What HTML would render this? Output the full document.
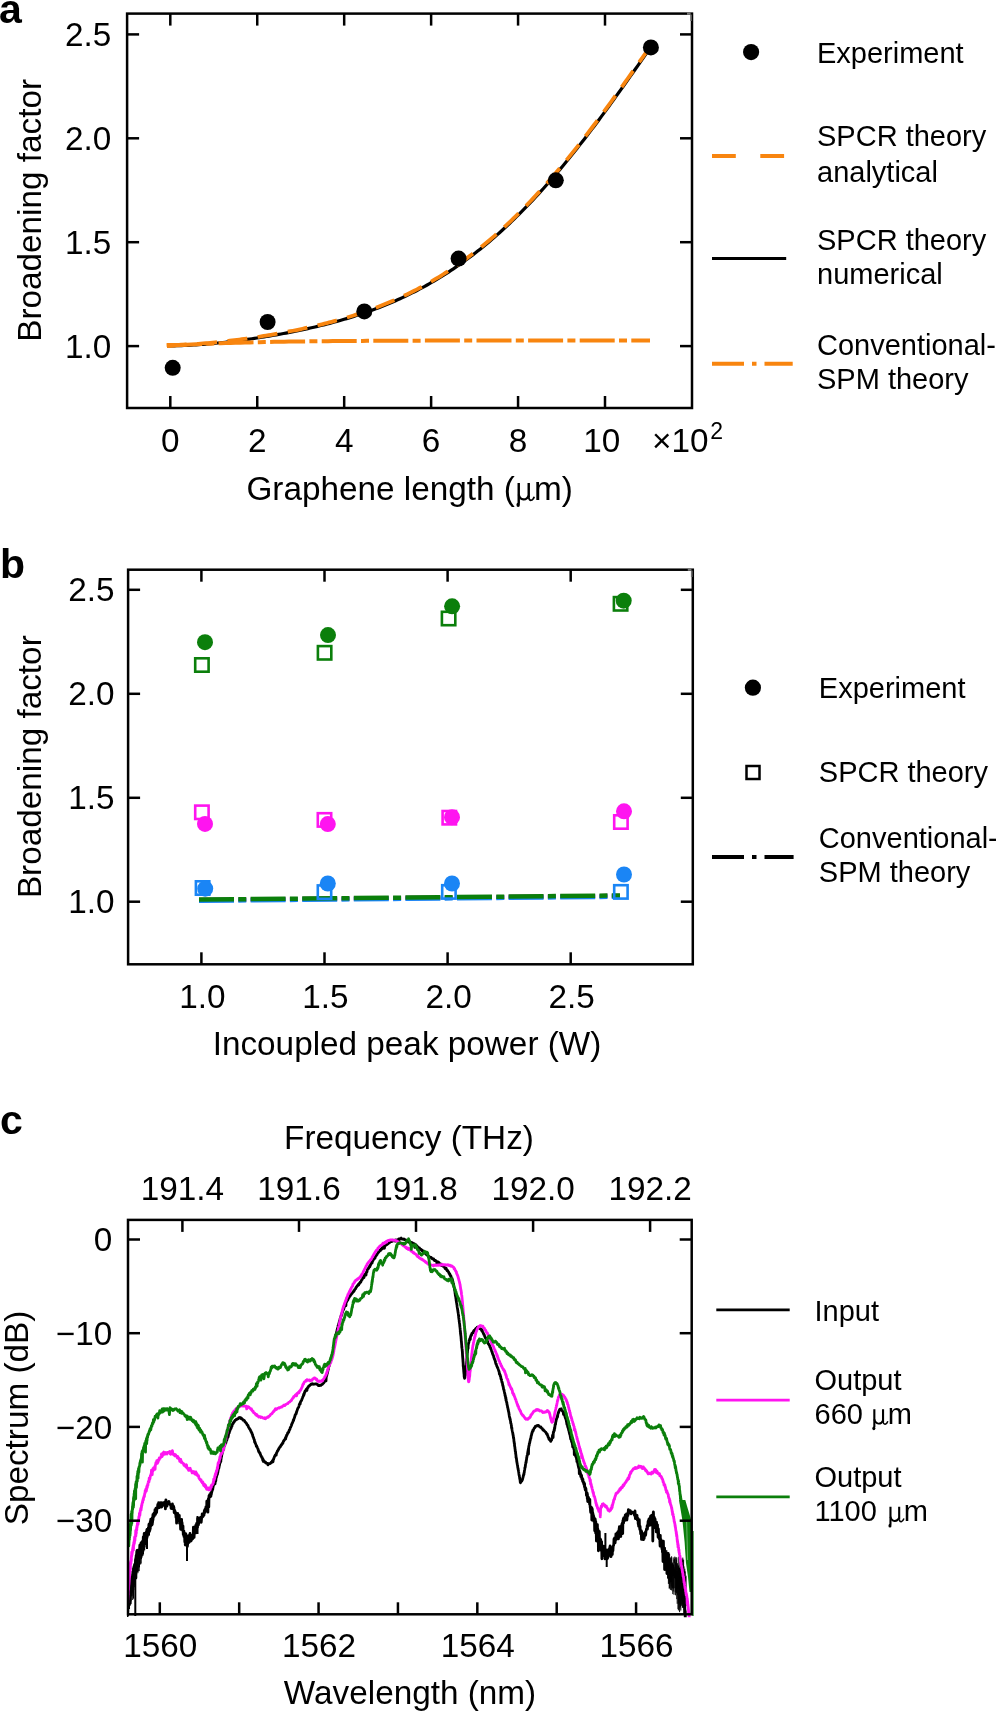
<!DOCTYPE html>
<html><head><meta charset="utf-8"><style>
html,body{margin:0;padding:0;background:#fff;}
svg{display:block;will-change:transform;}
text{font-family:"Liberation Sans", sans-serif;fill:#000;}
</style></head><body>
<svg width="996" height="1712" viewBox="0 0 996 1712">
<defs><clipPath id="clipc"><rect x="127.0" y="1219.9" width="566.7" height="397.39999999999986"/></clipPath></defs>
<rect x="127.10" y="13.60" width="564.90" height="394.40" fill="none" stroke="#000" stroke-width="2.5"/>
<rect x="687" y="12.4" width="3.6" height="2.4" fill="#7a7a7a"/><rect x="690.2" y="14.6" width="1.6" height="6.4" fill="#6e6e6e"/>
<line x1="127.10" y1="346.10" x2="139.10" y2="346.10" stroke="#000" stroke-width="2.5" />
<line x1="680.00" y1="346.10" x2="692.00" y2="346.10" stroke="#000" stroke-width="2.5" />
<text x="111.40" y="357.70" font-size="33.3" text-anchor="end" font-weight="normal" >1.0</text>
<line x1="127.10" y1="242.20" x2="139.10" y2="242.20" stroke="#000" stroke-width="2.5" />
<line x1="680.00" y1="242.20" x2="692.00" y2="242.20" stroke="#000" stroke-width="2.5" />
<text x="111.40" y="253.80" font-size="33.3" text-anchor="end" font-weight="normal" >1.5</text>
<line x1="127.10" y1="138.30" x2="139.10" y2="138.30" stroke="#000" stroke-width="2.5" />
<line x1="680.00" y1="138.30" x2="692.00" y2="138.30" stroke="#000" stroke-width="2.5" />
<text x="111.40" y="149.90" font-size="33.3" text-anchor="end" font-weight="normal" >2.0</text>
<line x1="127.10" y1="34.40" x2="139.10" y2="34.40" stroke="#000" stroke-width="2.5" />
<line x1="680.00" y1="34.40" x2="692.00" y2="34.40" stroke="#000" stroke-width="2.5" />
<text x="111.40" y="46.00" font-size="33.3" text-anchor="end" font-weight="normal" >2.5</text>
<line x1="170.30" y1="408.00" x2="170.30" y2="396.00" stroke="#000" stroke-width="2.5" />
<line x1="170.30" y1="13.60" x2="170.30" y2="25.60" stroke="#000" stroke-width="2.5" />
<text x="170.30" y="451.50" font-size="33.3" text-anchor="middle" font-weight="normal" >0</text>
<line x1="257.24" y1="408.00" x2="257.24" y2="396.00" stroke="#000" stroke-width="2.5" />
<line x1="257.24" y1="13.60" x2="257.24" y2="25.60" stroke="#000" stroke-width="2.5" />
<text x="257.24" y="451.50" font-size="33.3" text-anchor="middle" font-weight="normal" >2</text>
<line x1="344.18" y1="408.00" x2="344.18" y2="396.00" stroke="#000" stroke-width="2.5" />
<line x1="344.18" y1="13.60" x2="344.18" y2="25.60" stroke="#000" stroke-width="2.5" />
<text x="344.18" y="451.50" font-size="33.3" text-anchor="middle" font-weight="normal" >4</text>
<line x1="431.12" y1="408.00" x2="431.12" y2="396.00" stroke="#000" stroke-width="2.5" />
<line x1="431.12" y1="13.60" x2="431.12" y2="25.60" stroke="#000" stroke-width="2.5" />
<text x="431.12" y="451.50" font-size="33.3" text-anchor="middle" font-weight="normal" >6</text>
<line x1="518.06" y1="408.00" x2="518.06" y2="396.00" stroke="#000" stroke-width="2.5" />
<line x1="518.06" y1="13.60" x2="518.06" y2="25.60" stroke="#000" stroke-width="2.5" />
<text x="518.06" y="451.50" font-size="33.3" text-anchor="middle" font-weight="normal" >8</text>
<line x1="605.00" y1="408.00" x2="605.00" y2="396.00" stroke="#000" stroke-width="2.5" />
<line x1="605.00" y1="13.60" x2="605.00" y2="25.60" stroke="#000" stroke-width="2.5" />
<text x="601.70" y="451.50" font-size="33.3" text-anchor="middle" font-weight="normal" >10</text>
<text x="652.00" y="451.50" font-size="33.3" text-anchor="start" font-weight="normal" >×10<tspan dx="1.8" dy="-13" font-size="23">2</tspan></text>
<text x="246.40" y="499.80" font-size="33.3" text-anchor="start" font-weight="normal" >Graphene length (</text>
<path d="M518.73,483.04 L518.73,503.70 M528.72,483.04 L528.72,497.73" stroke="#000" stroke-width="2.41" fill="none"/><path d="M518.73,494.52 C520.11,500.83 526.54,500.95 528.72,495.67" stroke="#000" stroke-width="2.18" fill="none"/><path d="M528.72,497.50 Q529.30,500.49 531.14,500.26 Q533.09,499.91 534.24,496.70" stroke="#000" stroke-width="1.72" fill="none"/><ellipse cx="518.16" cy="504.85" rx="1.72" ry="2.18" fill="#000"/>
<text x="534.01" y="499.80" font-size="33.3" text-anchor="start" font-weight="normal" >m)</text>
<text x="41.00" y="210.40" font-size="33.3" text-anchor="middle" font-weight="normal" transform="rotate(-90 41.0 210.4)">Broadening factor</text>
<text x="-1.00" y="22.50" font-size="41" text-anchor="start" font-weight="bold" >a</text>
<polyline points="167.00,345.85 169.43,345.84 171.85,345.83 174.28,345.79 176.71,345.75 179.14,345.68 181.56,345.60 183.99,345.51 186.42,345.41 188.84,345.29 191.27,345.16 193.70,345.02 196.13,344.86 198.55,344.70 200.98,344.52 203.41,344.33 205.83,344.14 208.26,343.93 210.69,343.71 213.12,343.49 215.54,343.25 217.97,343.01 220.40,342.76 222.82,342.50 225.25,342.23 227.68,341.95 230.11,341.66 232.53,341.37 234.96,341.07 237.39,340.76 239.81,340.45 242.24,340.12 244.67,339.79 247.10,339.46 249.52,339.11 251.95,338.76 254.38,338.40 256.80,338.03 259.23,337.66 261.66,337.28 264.09,336.89 266.51,336.50 268.94,336.10 271.37,335.69 273.79,335.27 276.22,334.85 278.65,334.42 281.08,333.98 283.50,333.53 285.93,333.07 288.36,332.61 290.78,332.14 293.21,331.66 295.64,331.17 298.07,330.68 300.49,330.17 302.92,329.66 305.35,329.13 307.77,328.60 310.20,328.06 312.63,327.50 315.06,326.94 317.48,326.37 319.91,325.78 322.34,325.19 324.76,324.58 327.19,323.96 329.62,323.33 332.05,322.69 334.47,322.04 336.90,321.38 339.33,320.70 341.75,320.01 344.18,319.30 346.61,318.59 349.04,317.85 351.46,317.11 353.89,316.35 356.32,315.57 358.74,314.78 361.17,313.98 363.60,313.16 366.03,312.32 368.45,311.47 370.88,310.60 373.31,309.71 375.73,308.80 378.16,307.88 380.59,306.94 383.02,305.98 385.44,305.01 387.87,304.01 390.30,302.99 392.72,301.96 395.15,300.91 397.58,299.83 400.01,298.73 402.43,297.62 404.86,296.48 407.29,295.32 409.71,294.14 412.14,292.94 414.57,291.71 416.99,290.47 419.42,289.19 421.85,287.90 424.28,286.58 426.70,285.24 429.13,283.87 431.56,282.48 433.98,281.07 436.41,279.63 438.84,278.16 441.27,276.67 443.69,275.16 446.12,273.61 448.55,272.05 450.97,270.45 453.40,268.83 455.83,267.18 458.26,265.50 460.68,263.80 463.11,262.07 465.54,260.31 467.96,258.52 470.39,256.71 472.82,254.86 475.25,252.99 477.67,251.09 480.10,249.16 482.53,247.20 484.95,245.22 487.38,243.20 489.81,241.16 492.24,239.08 494.66,236.98 497.09,234.84 499.52,232.68 501.94,230.49 504.37,228.27 506.80,226.01 509.23,223.73 511.65,221.42 514.08,219.08 516.51,216.71 518.93,214.31 521.36,211.88 523.79,209.42 526.22,206.94 528.64,204.42 531.07,201.87 533.50,199.30 535.92,196.69 538.35,194.06 540.78,191.40 543.21,188.71 545.63,185.99 548.06,183.25 550.49,180.47 552.91,177.67 555.34,174.84 557.77,171.99 560.20,169.11 562.62,166.20 565.05,163.26 567.48,160.30 569.90,157.32 572.33,154.31 574.76,151.27 577.19,148.21 579.61,145.13 582.04,142.03 584.47,138.90 586.89,135.75 589.32,132.58 591.75,129.38 594.18,126.17 596.60,122.94 599.03,119.68 601.46,116.41 603.88,113.12 606.31,109.81 608.74,106.49 611.17,103.15 613.59,99.79 616.02,96.42 618.45,93.04 620.87,89.64 623.30,86.23 625.73,82.81 628.16,79.38 630.58,75.94 633.01,72.49 635.44,69.04 637.86,65.57 640.29,62.11 642.72,58.63 645.15,55.15 647.57,51.67 650.00,48.19" fill="none" stroke="#000" stroke-width="3.2" stroke-linejoin="round" />
<polyline points="166.60,344.95 169.03,344.94 171.45,344.93 173.88,344.89 176.31,344.85 178.74,344.78 181.16,344.70 183.59,344.61 186.02,344.51 188.44,344.39 190.87,344.26 193.30,344.12 195.73,343.96 198.15,343.80 200.58,343.62 203.01,343.43 205.43,343.24 207.86,343.03 210.29,342.81 212.72,342.59 215.14,342.35 217.57,342.11 220.00,341.86 222.42,341.60 224.85,341.33 227.28,341.05 229.71,340.76 232.13,340.47 234.56,340.17 236.99,339.86 239.41,339.55 241.84,339.22 244.27,338.89 246.70,338.56 249.12,338.21 251.55,337.86 253.98,337.50 256.40,337.13 258.83,336.76 261.26,336.38 263.69,335.99 266.11,335.60 268.54,335.20 270.97,334.79 273.39,334.37 275.82,333.95 278.25,333.52 280.68,333.08 283.10,332.63 285.53,332.17 287.96,331.71 290.38,331.24 292.81,330.76 295.24,330.27 297.67,329.78 300.09,329.27 302.52,328.76 304.95,328.23 307.37,327.70 309.80,327.16 312.23,326.60 314.66,326.04 317.08,325.47 319.51,324.88 321.94,324.29 324.36,323.68 326.79,323.06 329.22,322.43 331.65,321.79 334.07,321.14 336.50,320.48 338.93,319.80 341.35,319.11 343.78,318.40 346.21,317.69 348.64,316.95 351.06,316.21 353.49,315.45 355.92,314.67 358.34,313.88 360.77,313.08 363.20,312.26 365.63,311.42 368.05,310.57 370.48,309.70 372.91,308.81 375.33,307.90 377.76,306.98 380.19,306.04 382.62,305.08 385.04,304.11 387.47,303.11 389.90,302.09 392.32,301.06 394.75,300.01 397.18,298.93 399.61,297.83 402.03,296.72 404.46,295.58 406.89,294.42 409.31,293.24 411.74,292.04 414.17,290.81 416.59,289.57 419.02,288.29 421.45,287.00 423.88,285.68 426.30,284.34 428.73,282.97 431.16,281.58 433.58,280.17 436.01,278.73 438.44,277.26 440.87,275.77 443.29,274.26 445.72,272.71 448.15,271.15 450.57,269.55 453.00,267.93 455.43,266.28 457.86,264.60 460.28,262.90 462.71,261.17 465.14,259.41 467.56,257.62 469.99,255.81 472.42,253.96 474.85,252.09 477.27,250.19 479.70,248.26 482.13,246.30 484.55,244.32 486.98,242.30 489.41,240.26 491.84,238.18 494.26,236.08 496.69,233.94 499.12,231.78 501.54,229.59 503.97,227.37 506.40,225.11 508.83,222.83 511.25,220.52 513.68,218.18 516.11,215.81 518.53,213.41 520.96,210.98 523.39,208.52 525.82,206.04 528.24,203.52 530.67,200.97 533.10,198.40 535.52,195.79 537.95,193.16 540.38,190.50 542.81,187.81 545.23,185.09 547.66,182.35 550.09,179.57 552.51,176.77 554.94,173.94 557.37,171.09 559.80,168.21 562.22,165.30 564.65,162.36 567.08,159.40 569.50,156.42 571.93,153.41 574.36,150.37 576.79,147.31 579.21,144.23 581.64,141.13 584.07,138.00 586.49,134.85 588.92,131.68 591.35,128.48 593.78,125.27 596.20,122.04 598.63,118.78 601.06,115.51 603.48,112.22 605.91,108.91 608.34,105.59 610.77,102.25 613.19,98.89 615.62,95.52 618.05,92.14 620.47,88.74 622.90,85.33 625.33,81.91 627.76,78.48 630.18,75.04 632.61,71.59 635.04,68.14 637.46,64.67 639.89,61.21 642.32,57.73 644.75,54.25 647.17,50.77 649.60,47.29" fill="none" stroke="#f8850f" stroke-width="3.8" stroke-linejoin="round" stroke-dasharray="20 10.5"/>
<polyline points="167.00,346.00 171.88,345.67 176.76,345.36 181.64,345.06 186.52,344.79 191.39,344.53 196.27,344.28 201.15,344.05 206.03,343.84 210.91,343.63 215.79,343.44 220.67,343.26 225.55,343.09 230.42,342.93 235.30,342.78 240.18,342.64 245.06,342.51 249.94,342.39 254.82,342.27 259.70,342.16 264.58,342.05 269.45,341.96 274.33,341.86 279.21,341.78 284.09,341.70 288.97,341.62 293.85,341.55 298.73,341.48 303.61,341.42 308.48,341.36 313.36,341.30 318.24,341.25 323.12,341.20 328.00,341.15 332.88,341.10 337.76,341.06 342.64,341.02 347.52,340.99 352.39,340.95 357.27,340.92 362.15,340.89 367.03,340.86 371.91,340.83 376.79,340.81 381.67,340.78 386.55,340.76 391.42,340.74 396.30,340.72 401.18,340.70 406.06,340.68 410.94,340.67 415.82,340.65 420.70,340.63 425.58,340.62 430.45,340.61 435.33,340.60 440.21,340.58 445.09,340.57 449.97,340.56 454.85,340.55 459.73,340.54 464.61,340.54 469.48,340.53 474.36,340.52 479.24,340.51 484.12,340.51 489.00,340.50 493.88,340.49 498.76,340.49 503.64,340.48 508.52,340.48 513.39,340.47 518.27,340.47 523.15,340.47 528.03,340.46 532.91,340.46 537.79,340.45 542.67,340.45 547.55,340.45 552.42,340.45 557.30,340.44 562.18,340.44 567.06,340.44 571.94,340.44 576.82,340.43 581.70,340.43 586.58,340.43 591.45,340.43 596.33,340.43 601.21,340.42 606.09,340.42 610.97,340.42 615.85,340.42 620.73,340.42 625.61,340.42 630.48,340.42 635.36,340.42 640.24,340.42 645.12,340.41 650.00,340.41" fill="none" stroke="#f8850f" stroke-width="4" stroke-linejoin="round" stroke-dasharray="35 4.3 8 4.3"/>
<circle cx="172.7" cy="367.8" r="8" fill="#000"/>
<circle cx="267.6" cy="322" r="8" fill="#000"/>
<circle cx="364.3" cy="311.4" r="8" fill="#000"/>
<circle cx="458.6" cy="258.6" r="8" fill="#000"/>
<circle cx="555.8" cy="180.3" r="8" fill="#000"/>
<circle cx="650.9" cy="47.4" r="8" fill="#000"/>
<circle cx="751.1" cy="52.1" r="8.1" fill="#000"/>
<text x="817.00" y="63.10" font-size="29" text-anchor="start" font-weight="normal" >Experiment</text>
<line x1="712.00" y1="156.10" x2="786.00" y2="156.10" stroke="#f8850f" stroke-width="4" stroke-dasharray="23.8 24.5"/>
<text x="817.00" y="146.30" font-size="29" text-anchor="start" font-weight="normal" >SPCR theory</text>
<text x="817.00" y="181.50" font-size="29" text-anchor="start" font-weight="normal" >analytical</text>
<line x1="712.00" y1="258.50" x2="786.20" y2="258.50" stroke="#000" stroke-width="3" />
<text x="817.00" y="249.50" font-size="29" text-anchor="start" font-weight="normal" >SPCR theory</text>
<text x="817.00" y="284.10" font-size="29" text-anchor="start" font-weight="normal" >numerical</text>
<line x1="712.00" y1="363.70" x2="792.70" y2="363.70" stroke="#f8850f" stroke-width="4" stroke-dasharray="32 8 4.5 8"/>
<text x="817.00" y="354.50" font-size="29" text-anchor="start" font-weight="normal" >Conventional-</text>
<text x="817.00" y="389.30" font-size="29" text-anchor="start" font-weight="normal" >SPM theory</text>
<rect x="128.10" y="569.70" width="564.70" height="394.60" fill="none" stroke="#000" stroke-width="2.5"/>
<rect x="687.8" y="568.5" width="3.6" height="2.3" fill="#7a7a7a"/><rect x="690.9" y="570.6" width="1.7" height="6.4" fill="#6e6e6e"/>
<line x1="128.10" y1="901.70" x2="140.10" y2="901.70" stroke="#000" stroke-width="2.5" />
<line x1="680.80" y1="901.70" x2="692.80" y2="901.70" stroke="#000" stroke-width="2.5" />
<text x="114.50" y="913.30" font-size="33.3" text-anchor="end" font-weight="normal" >1.0</text>
<line x1="128.10" y1="797.80" x2="140.10" y2="797.80" stroke="#000" stroke-width="2.5" />
<line x1="680.80" y1="797.80" x2="692.80" y2="797.80" stroke="#000" stroke-width="2.5" />
<text x="114.50" y="809.40" font-size="33.3" text-anchor="end" font-weight="normal" >1.5</text>
<line x1="128.10" y1="693.80" x2="140.10" y2="693.80" stroke="#000" stroke-width="2.5" />
<line x1="680.80" y1="693.80" x2="692.80" y2="693.80" stroke="#000" stroke-width="2.5" />
<text x="114.50" y="705.40" font-size="33.3" text-anchor="end" font-weight="normal" >2.0</text>
<line x1="128.10" y1="589.80" x2="140.10" y2="589.80" stroke="#000" stroke-width="2.5" />
<line x1="680.80" y1="589.80" x2="692.80" y2="589.80" stroke="#000" stroke-width="2.5" />
<text x="114.50" y="601.40" font-size="33.3" text-anchor="end" font-weight="normal" >2.5</text>
<line x1="201.40" y1="964.30" x2="201.40" y2="952.30" stroke="#000" stroke-width="2.5" />
<line x1="201.40" y1="569.70" x2="201.40" y2="581.70" stroke="#000" stroke-width="2.5" />
<text x="202.40" y="1007.50" font-size="33.3" text-anchor="middle" font-weight="normal" >1.0</text>
<line x1="324.50" y1="964.30" x2="324.50" y2="952.30" stroke="#000" stroke-width="2.5" />
<line x1="324.50" y1="569.70" x2="324.50" y2="581.70" stroke="#000" stroke-width="2.5" />
<text x="325.50" y="1007.50" font-size="33.3" text-anchor="middle" font-weight="normal" >1.5</text>
<line x1="447.60" y1="964.30" x2="447.60" y2="952.30" stroke="#000" stroke-width="2.5" />
<line x1="447.60" y1="569.70" x2="447.60" y2="581.70" stroke="#000" stroke-width="2.5" />
<text x="448.60" y="1007.50" font-size="33.3" text-anchor="middle" font-weight="normal" >2.0</text>
<line x1="570.70" y1="964.30" x2="570.70" y2="952.30" stroke="#000" stroke-width="2.5" />
<line x1="570.70" y1="569.70" x2="570.70" y2="581.70" stroke="#000" stroke-width="2.5" />
<text x="571.70" y="1007.50" font-size="33.3" text-anchor="middle" font-weight="normal" >2.5</text>
<text x="407.00" y="1054.70" font-size="33.3" text-anchor="middle" font-weight="normal" >Incoupled peak power (W)</text>
<text x="41.00" y="766.70" font-size="33.3" text-anchor="middle" font-weight="normal" transform="rotate(-90 41.0 766.7)">Broadening factor</text>
<text x="0.00" y="578.00" font-size="41" text-anchor="start" font-weight="bold" >b</text>
<polyline points="199,900.1 620,896.0" fill="none" stroke="#ff14f0" stroke-width="4.5" stroke-dasharray="35 4.3 8 4.3"/>
<polyline points="199,900.8000000000001 620,896.7" fill="none" stroke="#1a85f5" stroke-width="4.5" stroke-dasharray="35 4.3 8 4.3"/>
<polyline points="199,899.6 620,895.5" fill="none" stroke="#0b7f0b" stroke-width="4.5" stroke-dasharray="35 4.3 8 4.3"/>
<rect x="195.20" y="658.30" width="13.4" height="13.4" fill="none" stroke="#0b7f0b" stroke-width="2.6"/>
<rect x="317.90" y="646.10" width="13.4" height="13.4" fill="none" stroke="#0b7f0b" stroke-width="2.6"/>
<rect x="441.90" y="611.80" width="13.4" height="13.4" fill="none" stroke="#0b7f0b" stroke-width="2.6"/>
<rect x="613.90" y="597.10" width="13.4" height="13.4" fill="none" stroke="#0b7f0b" stroke-width="2.6"/>
<circle cx="205" cy="642.2" r="8" fill="#0b7f0b"/>
<circle cx="328" cy="635.1" r="8" fill="#0b7f0b"/>
<circle cx="452.1" cy="606.3" r="8" fill="#0b7f0b"/>
<circle cx="623.7" cy="600.7" r="8" fill="#0b7f0b"/>
<rect x="195.20" y="805.60" width="13.4" height="13.4" fill="none" stroke="#ff14f0" stroke-width="2.6"/>
<rect x="317.80" y="813.20" width="13.4" height="13.4" fill="none" stroke="#ff14f0" stroke-width="2.6"/>
<rect x="442.60" y="811.00" width="13.4" height="13.4" fill="none" stroke="#ff14f0" stroke-width="2.6"/>
<rect x="614.20" y="815.30" width="13.4" height="13.4" fill="none" stroke="#ff14f0" stroke-width="2.6"/>
<circle cx="205" cy="823.9" r="8" fill="#ff14f0"/>
<circle cx="327.8" cy="824.1" r="8" fill="#ff14f0"/>
<circle cx="452" cy="817.2" r="8" fill="#ff14f0"/>
<circle cx="624" cy="811.3" r="8" fill="#ff14f0"/>
<rect x="195.90" y="881.30" width="13.4" height="13.4" fill="none" stroke="#1a85f5" stroke-width="2.6"/>
<rect x="317.80" y="885.40" width="13.4" height="13.4" fill="none" stroke="#1a85f5" stroke-width="2.6"/>
<rect x="442.20" y="885.20" width="13.4" height="13.4" fill="none" stroke="#1a85f5" stroke-width="2.6"/>
<rect x="614.20" y="885.20" width="13.4" height="13.4" fill="none" stroke="#1a85f5" stroke-width="2.6"/>
<circle cx="205.2" cy="888.7" r="8" fill="#1a85f5"/>
<circle cx="327.8" cy="883.5" r="8" fill="#1a85f5"/>
<circle cx="452" cy="883.5" r="8" fill="#1a85f5"/>
<circle cx="624" cy="874.5" r="8" fill="#1a85f5"/>
<circle cx="752.9" cy="687.7" r="8.1" fill="#000"/>
<text x="818.80" y="697.50" font-size="29" text-anchor="start" font-weight="normal" >Experiment</text>
<rect x="746.5" y="766" width="13" height="13" fill="none" stroke="#000" stroke-width="2.5"/>
<text x="818.80" y="782.20" font-size="29" text-anchor="start" font-weight="normal" >SPCR theory</text>
<line x1="712.00" y1="857.10" x2="793.60" y2="857.10" stroke="#000" stroke-width="4" stroke-dasharray="32 8 4.5 8"/>
<text x="818.80" y="847.60" font-size="29" text-anchor="start" font-weight="normal" >Conventional-</text>
<text x="818.80" y="881.80" font-size="29" text-anchor="start" font-weight="normal" >SPM theory</text>
<text x="112.20" y="1251.10" font-size="33.3" text-anchor="end" font-weight="normal" >0</text>
<text x="112.20" y="1344.80" font-size="33.3" text-anchor="end" font-weight="normal" >−10</text>
<text x="112.20" y="1438.50" font-size="33.3" text-anchor="end" font-weight="normal" >−20</text>
<text x="112.20" y="1532.30" font-size="33.3" text-anchor="end" font-weight="normal" >−30</text>
<text x="160.30" y="1657.00" font-size="33.3" text-anchor="middle" font-weight="normal" >1560</text>
<text x="319.06" y="1657.00" font-size="33.3" text-anchor="middle" font-weight="normal" >1562</text>
<text x="477.82" y="1657.00" font-size="33.3" text-anchor="middle" font-weight="normal" >1564</text>
<text x="636.58" y="1657.00" font-size="33.3" text-anchor="middle" font-weight="normal" >1566</text>
<text x="182.40" y="1200.30" font-size="33.3" text-anchor="middle" font-weight="normal" >191.4</text>
<text x="299.00" y="1200.30" font-size="33.3" text-anchor="middle" font-weight="normal" >191.6</text>
<text x="416.00" y="1200.30" font-size="33.3" text-anchor="middle" font-weight="normal" >191.8</text>
<text x="533.10" y="1200.30" font-size="33.3" text-anchor="middle" font-weight="normal" >192.0</text>
<text x="650.10" y="1200.30" font-size="33.3" text-anchor="middle" font-weight="normal" >192.2</text>
<text x="409.00" y="1148.90" font-size="33.3" text-anchor="middle" font-weight="normal" >Frequency (THz)</text>
<text x="410.00" y="1704.20" font-size="33.3" text-anchor="middle" font-weight="normal" >Wavelength (nm)</text>
<text x="27.50" y="1418.00" font-size="33.3" text-anchor="middle" font-weight="normal" transform="rotate(-90 27.5 1418)">Spectrum (dB)</text>
<text x="0.00" y="1133.70" font-size="41" text-anchor="start" font-weight="bold" >c</text>
<g clip-path="url(#clipc)"><path d="M679,1500 L682.5,1521 L684.6,1542 L686,1563 L688,1577 L689.5,1592 L691.5,1592 L691.5,1521 L687,1506 L685.3,1500 Z" fill="#0b7f0b"/><line x1="693.2" y1="1531" x2="693.2" y2="1616" stroke="#0b7f0b" stroke-width="1.4"/><line x1="686.6" y1="1520" x2="687.6" y2="1560" stroke="#7fbf7f" stroke-width="0.8"/>
<line x1="127.50" y1="1591.8" x2="127.50" y2="1613.1" stroke="#000" stroke-width="1.0"/><line x1="127.90" y1="1588.1" x2="127.90" y2="1611.1" stroke="#000" stroke-width="1.0"/><line x1="128.30" y1="1588.3" x2="128.30" y2="1612.2" stroke="#000" stroke-width="1.0"/><line x1="128.70" y1="1583.2" x2="128.70" y2="1607.7" stroke="#000" stroke-width="1.0"/><line x1="129.10" y1="1579.2" x2="129.10" y2="1606.4" stroke="#000" stroke-width="1.0"/><line x1="129.50" y1="1577.8" x2="129.50" y2="1609.0" stroke="#000" stroke-width="1.0"/><line x1="129.90" y1="1578.5" x2="129.90" y2="1599.7" stroke="#000" stroke-width="1.0"/><line x1="130.30" y1="1581.3" x2="130.30" y2="1601.9" stroke="#000" stroke-width="1.0"/><line x1="130.70" y1="1574.8" x2="130.70" y2="1603.3" stroke="#000" stroke-width="1.0"/><line x1="131.10" y1="1574.3" x2="131.10" y2="1601.3" stroke="#000" stroke-width="1.0"/><line x1="131.50" y1="1576.0" x2="131.50" y2="1596.4" stroke="#000" stroke-width="1.0"/><line x1="131.90" y1="1570.8" x2="131.90" y2="1595.8" stroke="#000" stroke-width="1.0"/><line x1="132.30" y1="1567.5" x2="132.30" y2="1569.8" stroke="#000" stroke-width="1.0"/><line x1="132.70" y1="1569.4" x2="132.70" y2="1600.0" stroke="#000" stroke-width="1.0"/><line x1="133.10" y1="1565.7" x2="133.10" y2="1596.3" stroke="#000" stroke-width="1.0"/><line x1="133.50" y1="1568.1" x2="133.50" y2="1598.7" stroke="#000" stroke-width="1.0"/><line x1="133.90" y1="1565.5" x2="133.90" y2="1590.1" stroke="#000" stroke-width="1.0"/><line x1="134.30" y1="1563.3" x2="134.30" y2="1587.3" stroke="#000" stroke-width="1.0"/><line x1="134.70" y1="1562.2" x2="134.70" y2="1585.0" stroke="#000" stroke-width="1.0"/><line x1="135.10" y1="1558.8" x2="135.10" y2="1582.8" stroke="#000" stroke-width="1.0"/><line x1="135.50" y1="1560.9" x2="135.50" y2="1577.6" stroke="#000" stroke-width="1.0"/><line x1="135.90" y1="1558.0" x2="135.90" y2="1578.3" stroke="#000" stroke-width="1.0"/><line x1="136.30" y1="1559.2" x2="136.30" y2="1571.8" stroke="#000" stroke-width="1.0"/><line x1="136.70" y1="1556.9" x2="136.70" y2="1574.4" stroke="#000" stroke-width="1.0"/><line x1="137.10" y1="1553.5" x2="137.10" y2="1571.5" stroke="#000" stroke-width="1.0"/><line x1="137.50" y1="1554.7" x2="137.50" y2="1571.9" stroke="#000" stroke-width="1.0"/><line x1="137.90" y1="1555.3" x2="137.90" y2="1573.2" stroke="#000" stroke-width="1.0"/><line x1="138.30" y1="1549.4" x2="138.30" y2="1567.5" stroke="#000" stroke-width="1.0"/><line x1="138.70" y1="1549.7" x2="138.70" y2="1571.5" stroke="#000" stroke-width="1.0"/><line x1="139.10" y1="1549.3" x2="139.10" y2="1571.0" stroke="#000" stroke-width="1.0"/><line x1="139.50" y1="1548.4" x2="139.50" y2="1567.4" stroke="#000" stroke-width="1.0"/><line x1="139.90" y1="1550.8" x2="139.90" y2="1564.5" stroke="#000" stroke-width="1.0"/><line x1="140.30" y1="1554.1" x2="140.30" y2="1558.7" stroke="#000" stroke-width="1.0"/><line x1="140.70" y1="1545.9" x2="140.70" y2="1564.4" stroke="#000" stroke-width="1.0"/><line x1="141.10" y1="1547.2" x2="141.10" y2="1563.5" stroke="#000" stroke-width="1.0"/><line x1="141.50" y1="1544.4" x2="141.50" y2="1559.2" stroke="#000" stroke-width="1.0"/><line x1="141.90" y1="1543.0" x2="141.90" y2="1557.9" stroke="#000" stroke-width="1.0"/><line x1="142.30" y1="1540.2" x2="142.30" y2="1556.4" stroke="#000" stroke-width="1.0"/><line x1="142.70" y1="1543.0" x2="142.70" y2="1555.5" stroke="#000" stroke-width="1.0"/><line x1="143.10" y1="1538.1" x2="143.10" y2="1555.5" stroke="#000" stroke-width="1.0"/><line x1="143.50" y1="1537.9" x2="143.50" y2="1554.0" stroke="#000" stroke-width="1.0"/><line x1="143.90" y1="1537.4" x2="143.90" y2="1551.5" stroke="#000" stroke-width="1.0"/><line x1="144.30" y1="1538.4" x2="144.30" y2="1550.1" stroke="#000" stroke-width="1.0"/><line x1="144.70" y1="1536.0" x2="144.70" y2="1550.3" stroke="#000" stroke-width="1.0"/><line x1="145.10" y1="1533.8" x2="145.10" y2="1547.4" stroke="#000" stroke-width="1.0"/><line x1="145.50" y1="1533.6" x2="145.50" y2="1545.1" stroke="#000" stroke-width="1.0"/><line x1="145.90" y1="1534.1" x2="145.90" y2="1544.9" stroke="#000" stroke-width="1.0"/><line x1="146.30" y1="1531.0" x2="146.30" y2="1544.2" stroke="#000" stroke-width="1.0"/><line x1="146.70" y1="1531.2" x2="146.70" y2="1540.2" stroke="#000" stroke-width="1.0"/><line x1="147.10" y1="1530.8" x2="147.10" y2="1542.2" stroke="#000" stroke-width="1.0"/><line x1="147.50" y1="1527.0" x2="147.50" y2="1539.9" stroke="#000" stroke-width="1.0"/><line x1="147.90" y1="1526.9" x2="147.90" y2="1538.4" stroke="#000" stroke-width="1.0"/><line x1="148.30" y1="1524.5" x2="148.30" y2="1536.6" stroke="#000" stroke-width="1.0"/><line x1="148.70" y1="1524.2" x2="148.70" y2="1535.3" stroke="#000" stroke-width="1.0"/><line x1="149.10" y1="1523.7" x2="149.10" y2="1535.6" stroke="#000" stroke-width="1.0"/><line x1="149.50" y1="1522.2" x2="149.50" y2="1535.4" stroke="#000" stroke-width="1.0"/><line x1="149.90" y1="1520.3" x2="149.90" y2="1531.5" stroke="#000" stroke-width="1.0"/><line x1="150.30" y1="1522.8" x2="150.30" y2="1532.4" stroke="#000" stroke-width="1.0"/><line x1="150.70" y1="1520.8" x2="150.70" y2="1530.9" stroke="#000" stroke-width="1.0"/><line x1="151.10" y1="1518.7" x2="151.10" y2="1529.5" stroke="#000" stroke-width="1.0"/><line x1="151.50" y1="1518.4" x2="151.50" y2="1526.8" stroke="#000" stroke-width="1.0"/><line x1="151.90" y1="1517.9" x2="151.90" y2="1526.4" stroke="#000" stroke-width="1.0"/><line x1="152.30" y1="1517.3" x2="152.30" y2="1526.1" stroke="#000" stroke-width="1.0"/><line x1="152.70" y1="1517.9" x2="152.70" y2="1524.4" stroke="#000" stroke-width="1.0"/><line x1="153.10" y1="1515.8" x2="153.10" y2="1522.9" stroke="#000" stroke-width="1.0"/><line x1="153.50" y1="1516.7" x2="153.50" y2="1521.8" stroke="#000" stroke-width="1.0"/><line x1="153.90" y1="1514.4" x2="153.90" y2="1520.5" stroke="#000" stroke-width="1.0"/>
<line x1="660.00" y1="1538.1" x2="660.00" y2="1544.6" stroke="#000" stroke-width="1.0"/><line x1="660.40" y1="1538.2" x2="660.40" y2="1545.4" stroke="#000" stroke-width="1.0"/><line x1="660.80" y1="1539.0" x2="660.80" y2="1546.8" stroke="#000" stroke-width="1.0"/><line x1="661.20" y1="1540.5" x2="661.20" y2="1549.6" stroke="#000" stroke-width="1.0"/><line x1="661.60" y1="1541.1" x2="661.60" y2="1552.4" stroke="#000" stroke-width="1.0"/><line x1="662.00" y1="1543.3" x2="662.00" y2="1552.8" stroke="#000" stroke-width="1.0"/><line x1="662.40" y1="1543.8" x2="662.40" y2="1552.7" stroke="#000" stroke-width="1.0"/><line x1="662.80" y1="1544.7" x2="662.80" y2="1556.1" stroke="#000" stroke-width="1.0"/><line x1="663.20" y1="1545.8" x2="663.20" y2="1558.6" stroke="#000" stroke-width="1.0"/><line x1="663.60" y1="1547.9" x2="663.60" y2="1560.7" stroke="#000" stroke-width="1.0"/><line x1="664.00" y1="1546.2" x2="664.00" y2="1562.6" stroke="#000" stroke-width="1.0"/><line x1="664.40" y1="1547.7" x2="664.40" y2="1563.9" stroke="#000" stroke-width="1.0"/><line x1="664.80" y1="1547.4" x2="664.80" y2="1561.7" stroke="#000" stroke-width="1.0"/><line x1="665.20" y1="1547.3" x2="665.20" y2="1566.8" stroke="#000" stroke-width="1.0"/><line x1="665.60" y1="1550.3" x2="665.60" y2="1564.5" stroke="#000" stroke-width="1.0"/><line x1="666.00" y1="1550.4" x2="666.00" y2="1570.9" stroke="#000" stroke-width="1.0"/><line x1="666.40" y1="1555.0" x2="666.40" y2="1569.9" stroke="#000" stroke-width="1.0"/><line x1="666.80" y1="1550.2" x2="666.80" y2="1574.0" stroke="#000" stroke-width="1.0"/><line x1="667.20" y1="1554.4" x2="667.20" y2="1574.5" stroke="#000" stroke-width="1.0"/><line x1="667.60" y1="1551.9" x2="667.60" y2="1578.3" stroke="#000" stroke-width="1.0"/><line x1="668.00" y1="1558.4" x2="668.00" y2="1578.9" stroke="#000" stroke-width="1.0"/><line x1="668.40" y1="1558.5" x2="668.40" y2="1583.9" stroke="#000" stroke-width="1.0"/><line x1="668.80" y1="1558.1" x2="668.80" y2="1580.5" stroke="#000" stroke-width="1.0"/><line x1="669.20" y1="1560.7" x2="669.20" y2="1588.6" stroke="#000" stroke-width="1.0"/><line x1="669.60" y1="1553.8" x2="669.60" y2="1588.3" stroke="#000" stroke-width="1.0"/><line x1="670.00" y1="1558.6" x2="670.00" y2="1583.6" stroke="#000" stroke-width="1.0"/><line x1="670.40" y1="1557.4" x2="670.40" y2="1589.9" stroke="#000" stroke-width="1.0"/><line x1="670.80" y1="1572.8" x2="670.80" y2="1578.0" stroke="#000" stroke-width="1.0"/><line x1="671.20" y1="1558.2" x2="671.20" y2="1586.5" stroke="#000" stroke-width="1.0"/><line x1="671.60" y1="1556.3" x2="671.60" y2="1590.4" stroke="#000" stroke-width="1.0"/><line x1="672.00" y1="1564.2" x2="672.00" y2="1587.8" stroke="#000" stroke-width="1.0"/><line x1="672.40" y1="1562.5" x2="672.40" y2="1588.5" stroke="#000" stroke-width="1.0"/><line x1="672.80" y1="1565.2" x2="672.80" y2="1594.1" stroke="#000" stroke-width="1.0"/><line x1="673.20" y1="1557.4" x2="673.20" y2="1591.5" stroke="#000" stroke-width="1.0"/><line x1="673.60" y1="1565.0" x2="673.60" y2="1588.6" stroke="#000" stroke-width="1.0"/><line x1="674.00" y1="1559.6" x2="674.00" y2="1594.8" stroke="#000" stroke-width="1.0"/><line x1="674.40" y1="1558.9" x2="674.40" y2="1562.9" stroke="#000" stroke-width="1.0"/><line x1="674.80" y1="1556.6" x2="674.80" y2="1588.2" stroke="#000" stroke-width="1.0"/><line x1="675.20" y1="1557.7" x2="675.20" y2="1592.2" stroke="#000" stroke-width="1.0"/><line x1="675.60" y1="1562.4" x2="675.60" y2="1595.3" stroke="#000" stroke-width="1.0"/><line x1="676.00" y1="1557.2" x2="676.00" y2="1592.2" stroke="#000" stroke-width="1.0"/><line x1="676.40" y1="1559.6" x2="676.40" y2="1593.3" stroke="#000" stroke-width="1.0"/><line x1="676.80" y1="1557.5" x2="676.80" y2="1599.1" stroke="#000" stroke-width="1.0"/><line x1="677.20" y1="1567.2" x2="677.20" y2="1603.8" stroke="#000" stroke-width="1.0"/><line x1="677.60" y1="1563.2" x2="677.60" y2="1595.2" stroke="#000" stroke-width="1.0"/><line x1="678.00" y1="1565.5" x2="678.00" y2="1609.1" stroke="#000" stroke-width="1.0"/><line x1="678.40" y1="1565.6" x2="678.40" y2="1610.4" stroke="#000" stroke-width="1.0"/><line x1="678.80" y1="1556.6" x2="678.80" y2="1603.0" stroke="#000" stroke-width="1.0"/><line x1="679.20" y1="1567.9" x2="679.20" y2="1604.6" stroke="#000" stroke-width="1.0"/><line x1="679.60" y1="1567.6" x2="679.60" y2="1612.2" stroke="#000" stroke-width="1.0"/><line x1="680.00" y1="1561.6" x2="680.00" y2="1608.5" stroke="#000" stroke-width="1.0"/><line x1="680.40" y1="1564.7" x2="680.40" y2="1606.9" stroke="#000" stroke-width="1.0"/><line x1="680.80" y1="1564.9" x2="680.80" y2="1610.6" stroke="#000" stroke-width="1.0"/><line x1="681.20" y1="1559.9" x2="681.20" y2="1603.9" stroke="#000" stroke-width="1.0"/><line x1="681.60" y1="1563.8" x2="681.60" y2="1605.8" stroke="#000" stroke-width="1.0"/><line x1="682.00" y1="1559.2" x2="682.00" y2="1601.1" stroke="#000" stroke-width="1.0"/><line x1="682.40" y1="1560.2" x2="682.40" y2="1607.7" stroke="#000" stroke-width="1.0"/><line x1="682.80" y1="1557.6" x2="682.80" y2="1603.9" stroke="#000" stroke-width="1.0"/><line x1="683.20" y1="1564.8" x2="683.20" y2="1602.3" stroke="#000" stroke-width="1.0"/><line x1="683.60" y1="1559.6" x2="683.60" y2="1606.2" stroke="#000" stroke-width="1.0"/><line x1="684.00" y1="1566.4" x2="684.00" y2="1610.1" stroke="#000" stroke-width="1.0"/><line x1="684.40" y1="1570.7" x2="684.40" y2="1606.0" stroke="#000" stroke-width="1.0"/><line x1="684.80" y1="1568.7" x2="684.80" y2="1605.2" stroke="#000" stroke-width="1.0"/><line x1="685.20" y1="1571.4" x2="685.20" y2="1615.2" stroke="#000" stroke-width="1.0"/><line x1="685.60" y1="1577.0" x2="685.60" y2="1607.4" stroke="#000" stroke-width="1.0"/><line x1="686.00" y1="1575.7" x2="686.00" y2="1605.9" stroke="#000" stroke-width="1.0"/>
<polyline points="127.5,1613.8 127.5,1609.6 127.6,1615.6 127.6,1611.5 127.6,1610.8 127.7,1610.0 127.7,1609.3 127.7,1611.6 127.8,1606.3 127.8,1606.1 127.8,1607.8 127.9,1603.3 127.9,1607.2 128.0,1605.4 128.0,1601.7 128.0,1605.1 128.1,1597.2 128.1,1596.8 128.1,1596.8 128.2,1600.2 128.2,1594.3 128.2,1605.2 128.3,1603.7 128.3,1596.2 128.4,1592.9 128.4,1598.3 128.5,1595.6 128.5,1595.0 128.7,1589.8 128.8,1594.6 129.0,1597.8 129.2,1591.2 129.4,1592.0 129.6,1596.1 129.8,1604.4 130.0,1586.3 130.2,1588.4 130.3,1593.2 130.5,1591.1 130.7,1595.0 130.9,1591.7 131.1,1584.4 131.3,1592.7 131.5,1590.3 131.7,1587.6 131.8,1583.0 132.0,1584.7 132.1,1585.2 132.2,1586.0 132.3,1591.1 132.4,1582.2 132.4,1587.0 132.5,1581.7 132.6,1585.8 132.7,1580.7 132.8,1578.0 132.8,1586.8 132.9,1577.7 133.0,1581.7 133.1,1581.8 133.1,1577.8 133.2,1577.4 133.3,1573.1 133.4,1574.0 133.5,1570.7 133.6,1577.0 133.7,1577.8 133.7,1569.4 133.8,1572.1 133.9,1576.3 134.0,1572.3 134.1,1568.9 134.2,1568.5 134.3,1571.6 134.3,1573.2 134.4,1567.8 134.5,1564.8 134.6,1571.3 134.7,1570.9 134.8,1566.5 134.9,1565.4 135.0,1570.0 135.1,1563.6 135.2,1568.4 135.3,1565.8 135.4,1565.0 135.5,1560.4 135.6,1559.6 135.7,1562.5 135.8,1558.1 135.9,1578.0 136.0,1562.3 136.1,1556.5 136.2,1555.4 136.4,1559.8 136.5,1559.8 136.6,1554.8 136.8,1551.4 136.9,1551.3 137.1,1550.4 137.3,1555.9 137.5,1555.5 137.7,1552.9 137.9,1557.8 138.1,1555.0 138.3,1556.7 138.5,1549.9 138.8,1551.0 139.0,1551.5 139.3,1554.3 139.5,1552.1 139.8,1545.2 140.1,1546.2 140.3,1545.4 140.5,1544.4 140.7,1544.6 140.9,1546.1 141.1,1542.6 141.4,1544.9 141.6,1546.0 141.8,1544.9 142.1,1544.8 142.3,1541.6 142.5,1543.4 142.8,1540.8 143.0,1544.6 143.3,1536.9 143.5,1539.9 143.7,1540.5 144.0,1538.6 144.2,1533.5 144.4,1538.4 144.6,1539.8 144.8,1539.4 145.0,1534.9 145.3,1537.6 145.5,1543.0 145.7,1534.8 146.0,1532.3 146.2,1534.0 146.4,1534.4 146.6,1536.0 146.8,1529.8 146.9,1534.9 147.1,1529.3 147.3,1529.2 147.5,1533.1 147.7,1529.8 148.0,1528.9 148.2,1530.1 148.4,1528.1 148.6,1528.2 148.8,1530.8 149.0,1524.2 149.3,1526.2 149.5,1525.0 149.7,1523.6 149.9,1526.3 150.1,1522.5 150.4,1521.9 150.6,1524.9 150.8,1519.2 151.1,1522.2 151.3,1522.6 151.5,1522.5 151.7,1520.8 152.0,1518.1 152.2,1524.5 152.5,1518.3 152.7,1517.3 153.0,1514.4 153.2,1517.3 153.5,1514.7 153.7,1516.2 154.0,1513.2 154.2,1516.2 154.5,1514.4 154.8,1513.0 155.0,1509.6 155.3,1511.1 155.5,1514.4 155.8,1511.6 156.0,1508.2 156.3,1512.8 156.6,1512.5 156.9,1508.2 157.2,1508.9 157.5,1507.0 157.8,1504.5 158.1,1505.4 158.4,1507.4 158.6,1502.7 159.0,1504.3 159.3,1507.6 159.6,1502.9 159.9,1502.8 160.3,1504.3 160.8,1506.0 161.2,1502.7 161.7,1507.0 162.2,1504.4 162.8,1503.6 163.3,1502.7 163.8,1505.3 164.4,1502.8 164.9,1502.1 165.4,1508.9 165.9,1499.8 166.4,1502.4 166.9,1506.2 167.4,1503.4 168.0,1502.8 168.4,1502.4 168.9,1501.4 169.4,1503.2 169.9,1504.5 170.3,1504.7 170.8,1504.7 171.1,1508.3 171.5,1505.5 171.8,1508.7 172.1,1506.6 172.4,1504.0 172.7,1506.4 173.0,1507.1 173.3,1505.9 173.6,1506.6 173.9,1507.5 174.2,1512.7 174.5,1510.6 174.8,1510.5 175.1,1513.4 175.4,1512.8 175.7,1512.6 176.0,1517.5 176.3,1513.7 176.6,1523.1 176.9,1516.4 177.2,1514.6 177.5,1515.6 177.8,1513.3 178.1,1519.5 178.3,1517.4 178.6,1514.9 178.8,1516.7 179.1,1521.4 179.3,1515.4 179.5,1523.3 179.7,1520.8 180.0,1520.7 180.2,1521.4 180.4,1522.8 180.6,1529.3 180.8,1526.2 181.0,1525.6 181.2,1524.8 181.4,1524.5 181.6,1519.3 181.8,1525.7 182.0,1522.3 182.2,1524.5 182.3,1525.7 182.5,1530.1 182.7,1530.5 182.8,1529.3 183.0,1526.0 183.1,1530.5 183.3,1534.6 183.4,1533.7 183.6,1533.9 183.7,1531.5 183.9,1531.0 184.0,1536.6 184.2,1536.5 184.4,1537.2 184.6,1535.1 184.8,1541.9 184.9,1538.0 185.1,1540.5 185.3,1545.0 185.5,1535.8 185.8,1533.7 186.0,1538.6 186.4,1542.4 186.9,1541.3 187.4,1546.4 188.0,1540.9 188.5,1535.7 189.0,1542.4 189.5,1541.6 190.0,1533.5 190.5,1539.5 191.0,1541.0 191.5,1536.6 192.0,1539.4 192.2,1538.5 192.4,1537.6 192.6,1535.2 192.8,1538.7 193.0,1536.4 193.2,1536.4 193.4,1527.2 193.7,1537.2 193.9,1530.0 194.1,1537.4 194.3,1532.4 194.5,1533.0 194.6,1531.8 194.8,1528.9 195.0,1531.7 195.2,1530.3 195.3,1528.5 195.5,1532.9 195.6,1532.7 195.7,1525.3 195.9,1527.1 196.0,1528.5 196.1,1527.1 196.2,1532.8 196.4,1528.6 196.6,1523.3 196.7,1524.2 197.0,1525.2 197.2,1526.7 197.5,1527.1 197.7,1518.3 198.0,1518.4 198.4,1525.0 198.7,1523.0 199.0,1521.5 199.4,1518.1 199.8,1519.2 200.1,1520.2 200.5,1517.5 200.9,1520.2 201.2,1522.3 201.6,1518.2 201.9,1517.6 202.2,1513.9 202.5,1515.9 202.7,1514.9 203.0,1516.6 203.3,1513.6 203.5,1513.7 203.8,1513.1 204.0,1515.1 204.3,1510.9 204.5,1511.0 204.8,1509.6 205.0,1512.4 205.3,1509.0 205.5,1510.3 205.7,1511.0 205.9,1506.8 206.1,1509.0 206.3,1508.5 206.5,1506.9 206.7,1508.6 206.8,1501.2 207.0,1506.3 207.1,1506.4 207.3,1506.9 207.4,1505.6 207.5,1505.5 207.7,1503.9 207.8,1501.6 207.9,1512.2 208.0,1502.1 208.2,1500.3 208.3,1499.5 208.4,1498.6 208.6,1500.5 208.8,1507.0 209.0,1495.8 209.2,1497.7 209.4,1497.3 209.6,1494.7 209.8,1495.4 210.1,1495.2 210.3,1496.8 210.5,1496.7 210.7,1493.1 211.0,1495.9 211.2,1493.4 211.4,1494.2 211.6,1491.3 211.8,1487.8 211.9,1491.7 212.1,1490.3 212.3,1488.9 212.5,1489.6 212.7,1489.5 212.9,1487.9 213.1,1487.1 213.3,1485.7 213.4,1485.2 213.6,1485.4 213.8,1484.7 214.0,1482.1 214.2,1484.4 214.4,1483.5 214.6,1483.0 214.7,1483.0 214.9,1481.3 215.0,1483.8 215.2,1481.2 215.3,1482.6 215.5,1480.7 215.7,1477.2 215.8,1480.8 216.0,1477.7 216.1,1478.2 216.3,1477.2 216.5,1477.2 216.6,1474.8 216.8,1475.7 217.0,1475.3 217.1,1474.7 217.3,1472.5 217.4,1474.3 217.6,1472.5 217.7,1473.1 217.9,1471.7 218.0,1471.3 218.2,1470.1 218.3,1469.3 218.5,1468.4 218.6,1468.4 218.8,1468.2 218.9,1467.9 219.1,1466.7 219.2,1465.4 219.4,1465.9 219.5,1464.8 219.7,1464.0 219.8,1463.0 220.0,1462.6 220.1,1462.5 220.3,1461.0 220.4,1462.4 220.5,1460.7 220.7,1458.6 220.8,1461.6 220.9,1459.2 221.1,1459.1 221.2,1457.7 221.3,1456.3 221.5,1456.8 221.6,1456.7 221.7,1455.5 221.8,1453.9 221.9,1454.8 222.0,1454.0 222.1,1453.0 222.2,1453.2 222.4,1452.2 222.5,1451.6 222.6,1450.9 222.7,1451.0 222.9,1449.9 223.0,1449.7 223.2,1449.5 223.4,1448.8 223.6,1447.5 223.7,1449.5 223.9,1446.6 224.1,1446.3 224.3,1445.4 224.6,1445.8 224.8,1445.2 225.0,1443.4 225.2,1443.1 225.4,1443.6 225.6,1441.9 225.9,1442.7 226.1,1441.2 226.3,1441.0 226.5,1440.2 226.7,1440.4 226.9,1439.8 227.1,1438.1 227.3,1438.6 227.5,1436.9 227.7,1436.9 227.9,1436.1 228.1,1436.9 228.3,1435.7 228.5,1434.9 228.7,1434.1 228.9,1433.3 229.1,1432.8 229.3,1432.8 229.5,1431.4 229.6,1431.2 229.8,1430.6 230.0,1430.7 230.2,1429.3 230.4,1429.1 230.7,1428.5 230.9,1428.6 231.2,1427.9 231.4,1426.7 231.7,1426.5 231.9,1426.5 232.1,1425.4 232.4,1424.2 232.6,1424.0 232.9,1423.8 233.1,1423.6 233.4,1423.0 233.6,1422.4 234.0,1421.7 234.4,1421.6 234.8,1420.7 235.2,1420.2 235.6,1420.2 236.0,1419.9 236.5,1419.1 236.9,1419.3 237.4,1419.0 237.9,1418.7 238.3,1418.6 238.8,1417.7 239.4,1417.7 239.9,1417.4 240.5,1417.8 240.9,1418.5 241.3,1418.1 241.8,1418.8 242.2,1419.0 242.7,1419.5 243.1,1420.2 243.6,1420.2 244.0,1420.2 244.5,1420.7 245.0,1421.9 245.4,1422.0 245.9,1422.7 246.2,1423.2 246.5,1423.6 246.8,1423.9 247.1,1424.9 247.4,1425.0 247.7,1425.1 247.9,1425.5 248.2,1426.1 248.5,1427.1 248.8,1427.6 249.1,1428.1 249.4,1428.4 249.7,1429.1 250.0,1429.5 250.3,1429.6 250.5,1430.6 250.8,1430.9 251.0,1431.5 251.3,1431.7 251.5,1432.6 251.8,1432.8 252.0,1433.3 252.2,1434.0 252.4,1434.4 252.6,1435.3 252.7,1435.6 252.9,1436.4 253.1,1436.7 253.3,1437.5 253.5,1437.5 253.7,1438.5 253.9,1439.0 254.0,1439.2 254.2,1439.5 254.4,1440.2 254.6,1442.1 254.8,1441.9 255.1,1442.2 255.3,1443.3 255.5,1443.5 255.7,1444.1 256.0,1444.6 256.2,1445.6 256.4,1446.3 256.7,1446.0 256.9,1447.0 257.2,1447.1 257.4,1447.7 257.7,1448.4 257.9,1448.8 258.2,1449.7 258.4,1450.5 258.7,1451.8 258.9,1451.3 259.2,1451.9 259.4,1452.5 259.6,1452.9 259.9,1453.2 260.1,1453.1 260.3,1454.6 260.5,1454.4 260.7,1455.3 261.0,1455.9 261.4,1456.3 261.7,1457.5 262.0,1457.8 262.2,1457.6 262.5,1458.6 262.7,1460.1 263.0,1459.2 263.2,1461.3 263.5,1460.2 263.7,1460.5 264.0,1461.0 264.4,1461.7 264.8,1462.2 265.2,1462.5 265.7,1462.3 266.1,1463.1 266.5,1463.2 266.9,1463.2 267.4,1463.4 267.9,1464.9 268.3,1463.8 268.8,1463.6 269.3,1463.8 269.8,1463.6 270.4,1463.4 270.9,1462.7 271.5,1462.0 271.7,1462.5 272.0,1462.0 272.3,1461.0 272.5,1460.5 272.8,1460.4 273.0,1461.8 273.3,1459.4 273.6,1459.4 273.8,1458.5 274.1,1457.8 274.4,1456.8 274.7,1456.1 275.0,1455.6 275.3,1455.2 275.6,1454.6 275.9,1454.9 276.2,1455.1 276.5,1452.9 276.8,1452.8 277.1,1451.9 277.4,1451.0 277.6,1451.0 277.9,1450.8 278.2,1450.1 278.5,1449.1 278.8,1448.9 279.1,1448.1 279.4,1447.9 279.7,1447.2 280.1,1446.6 280.4,1446.6 280.7,1445.9 281.0,1445.2 281.3,1445.2 281.6,1444.9 281.9,1443.9 282.3,1444.0 282.6,1442.9 282.9,1443.2 283.2,1442.1 283.5,1441.0 283.8,1441.1 284.0,1440.4 284.3,1439.9 284.5,1439.8 284.8,1439.6 285.1,1438.9 285.3,1438.1 285.6,1439.0 285.9,1437.2 286.1,1436.4 286.4,1436.4 286.6,1435.2 286.9,1435.2 287.2,1434.6 287.4,1434.2 287.7,1432.8 287.9,1432.7 288.2,1432.7 288.5,1432.0 288.7,1432.2 289.0,1430.9 289.3,1430.0 289.5,1429.9 289.8,1429.6 290.0,1429.1 290.3,1427.4 290.5,1427.2 290.7,1427.0 290.9,1426.6 291.2,1426.1 291.4,1424.9 291.6,1425.0 291.8,1424.2 292.0,1423.4 292.2,1423.4 292.5,1422.7 292.7,1422.1 292.9,1421.7 293.1,1421.3 293.3,1420.1 293.6,1420.4 293.8,1419.3 294.0,1418.7 294.2,1418.4 294.4,1417.7 294.6,1417.2 294.8,1416.1 295.0,1416.1 295.2,1414.8 295.5,1414.7 295.7,1414.1 295.9,1413.9 296.1,1413.3 296.2,1413.8 296.4,1412.4 296.6,1412.0 296.8,1411.3 297.0,1410.7 297.3,1410.0 297.5,1409.2 297.8,1408.6 298.1,1408.0 298.3,1407.4 298.6,1407.4 298.8,1406.7 299.1,1405.5 299.3,1404.4 299.5,1404.8 299.8,1403.5 300.0,1403.7 300.2,1403.9 300.4,1402.2 300.6,1402.2 300.9,1401.2 301.1,1401.1 301.3,1400.7 301.5,1400.6 301.7,1400.0 301.9,1399.0 302.2,1398.9 302.4,1398.2 302.6,1397.4 302.9,1396.7 303.1,1396.5 303.3,1396.2 303.5,1395.1 303.7,1394.2 303.9,1395.1 304.1,1393.9 304.3,1393.7 304.5,1392.6 304.8,1392.3 305.0,1391.2 305.2,1391.3 305.5,1391.2 305.8,1390.3 306.2,1389.4 306.5,1389.1 306.9,1390.4 307.3,1388.3 307.6,1387.7 308.0,1387.6 308.4,1386.7 308.8,1386.0 309.2,1386.1 309.5,1385.6 309.9,1385.4 310.3,1384.9 310.8,1384.7 311.4,1383.8 311.9,1383.9 312.4,1383.6 313.0,1384.3 313.5,1384.2 314.0,1383.9 314.6,1384.2 315.1,1384.0 315.6,1383.8 316.2,1383.9 316.7,1384.1 317.3,1384.5 317.8,1384.9 318.4,1385.6 318.9,1385.0 319.4,1385.4 319.9,1385.6 320.4,1385.1 320.9,1385.3 321.4,1384.7 321.9,1384.6 322.3,1384.5 322.8,1383.8 323.2,1383.3 323.6,1383.1 323.8,1382.7 324.1,1382.3 324.3,1381.4 324.5,1381.1 324.7,1381.2 324.9,1381.4 325.1,1379.8 325.4,1379.9 325.6,1378.5 325.8,1378.1 326.0,1380.9 326.2,1377.3 326.4,1376.6 326.6,1375.8 326.7,1374.8 326.9,1375.0 327.0,1374.0 327.2,1373.7 327.3,1373.4 327.5,1372.6 327.6,1372.3 327.7,1371.6 327.9,1370.7 328.0,1370.1 328.2,1369.6 328.3,1369.4 328.5,1368.4 328.6,1367.2 328.7,1367.3 328.9,1366.3 329.0,1366.3 329.2,1365.9 329.3,1365.0 329.5,1364.0 329.6,1364.0 329.8,1363.8 330.0,1362.4 330.1,1361.8 330.3,1361.2 330.5,1360.9 330.7,1360.2 330.9,1359.9 331.0,1359.3 331.2,1358.2 331.4,1358.3 331.6,1357.2 331.8,1357.3 331.9,1356.7 332.1,1356.0 332.3,1355.9 332.4,1354.8 332.6,1354.2 332.7,1353.7 332.8,1353.2 332.9,1352.4 333.0,1352.2 333.1,1351.7 333.2,1351.0 333.3,1350.2 333.4,1350.1 333.5,1349.3 333.6,1348.0 333.7,1347.4 333.8,1347.9 333.9,1346.5 334.0,1345.7 334.1,1345.4 334.2,1345.0 334.3,1344.4 334.4,1343.1 334.5,1342.2 334.6,1342.2 334.7,1341.6 334.8,1341.2 334.9,1340.3 335.0,1339.8 335.1,1341.1 335.2,1339.1 335.3,1338.2 335.5,1337.3 335.6,1337.1 335.7,1335.7 335.8,1336.0 335.9,1335.5 336.1,1334.9 336.2,1333.9 336.3,1333.4 336.4,1333.1 336.6,1332.8 336.7,1331.7 336.8,1331.3 337.0,1331.2 337.1,1329.9 337.2,1329.5 337.4,1328.7 337.5,1328.3 337.7,1327.9 337.8,1327.7 338.0,1326.4 338.1,1325.6 338.3,1325.5 338.4,1324.8 338.6,1324.0 338.7,1324.6 338.9,1323.4 339.1,1322.4 339.3,1321.8 339.4,1321.2 339.6,1320.9 339.8,1320.3 340.0,1319.5 340.1,1318.7 340.3,1318.8 340.5,1318.2 340.7,1317.3 340.9,1316.3 341.0,1316.5 341.2,1315.3 341.4,1315.0 341.6,1315.3 341.7,1313.9 341.9,1314.3 342.1,1312.9 342.3,1312.8 342.5,1311.6 342.8,1310.9 343.0,1310.1 343.2,1310.1 343.5,1308.9 343.7,1309.3 343.9,1307.9 344.2,1307.7 344.4,1306.4 344.6,1306.4 344.8,1305.5 345.1,1305.2 345.3,1305.3 345.5,1304.5 345.7,1304.2 345.9,1305.6 346.1,1302.5 346.4,1302.0 346.7,1301.8 346.9,1300.9 347.1,1300.5 347.4,1300.6 347.6,1299.6 347.8,1300.0 348.1,1299.2 348.4,1298.3 348.7,1297.9 349.1,1297.5 349.4,1296.7 349.6,1296.5 349.9,1296.2 350.3,1295.8 350.6,1294.9 350.9,1294.9 351.3,1294.2 351.6,1293.6 352.0,1293.4 352.3,1292.7 352.7,1292.5 353.1,1292.1 353.4,1291.9 353.8,1290.7 354.1,1291.1 354.5,1290.1 354.8,1289.4 355.1,1289.2 355.5,1288.9 355.9,1287.7 356.2,1287.5 356.6,1286.9 357.0,1286.1 357.3,1285.7 357.7,1285.6 358.0,1285.5 358.3,1284.5 358.7,1285.0 359.0,1283.8 359.4,1283.6 359.7,1283.2 360.1,1282.2 360.4,1281.9 360.7,1282.2 361.0,1281.4 361.3,1280.7 361.6,1280.1 361.9,1279.8 362.2,1279.4 362.5,1278.7 362.8,1277.5 363.1,1278.0 363.4,1277.2 363.7,1276.6 364.0,1277.6 364.3,1275.8 364.6,1274.7 364.9,1274.5 365.2,1274.2 365.5,1273.9 365.8,1273.8 366.0,1275.1 366.3,1272.4 366.6,1272.0 366.9,1272.1 367.2,1270.7 367.4,1269.8 367.7,1269.0 368.0,1268.6 368.3,1268.8 368.5,1268.6 368.8,1267.7 369.1,1267.1 369.4,1267.1 369.6,1266.1 369.9,1266.7 370.2,1265.2 370.5,1265.0 370.8,1264.1 371.1,1263.5 371.4,1263.2 371.8,1262.5 372.1,1263.0 372.4,1261.2 372.7,1261.1 373.0,1260.6 373.3,1259.8 373.6,1259.4 373.9,1259.1 374.3,1258.5 374.6,1258.1 374.9,1258.3 375.2,1257.2 375.5,1256.3 375.9,1255.9 376.2,1255.8 376.5,1255.1 376.9,1254.7 377.2,1254.2 377.5,1253.5 377.9,1253.0 378.2,1252.4 378.5,1252.4 378.9,1251.9 379.2,1251.4 379.5,1251.2 379.9,1250.6 380.2,1250.0 380.6,1250.3 381.0,1249.3 381.4,1248.6 381.9,1248.3 382.3,1248.9 382.7,1247.0 383.1,1246.8 383.5,1246.6 383.9,1246.4 384.4,1248.2 384.8,1245.8 385.2,1245.9 385.7,1245.2 386.1,1244.9 386.6,1244.5 387.1,1244.5 387.5,1243.9 388.0,1243.8 388.4,1243.4 388.9,1243.0 389.4,1242.4 389.8,1242.4 390.3,1242.0 390.8,1241.8 391.4,1241.3 391.9,1241.5 392.4,1240.8 392.9,1240.9 393.5,1240.5 394.1,1240.9 394.7,1240.3 395.3,1241.1 395.8,1240.0 396.4,1240.7 396.9,1239.9 397.5,1240.0 398.1,1240.0 398.7,1238.9 399.4,1239.5 400.0,1238.6 400.6,1238.9 401.2,1238.1 401.7,1239.0 402.3,1239.2 402.9,1239.2 403.5,1239.4 404.0,1239.0 404.6,1239.6 405.1,1239.8 405.7,1239.8 406.2,1240.2 406.8,1241.0 407.3,1240.6 407.8,1241.3 408.3,1242.1 408.8,1241.7 409.4,1241.6 409.9,1242.0 410.4,1242.9 410.9,1242.2 411.4,1242.5 411.9,1242.6 412.4,1242.8 412.9,1243.3 413.4,1243.8 413.9,1244.2 414.3,1243.8 414.8,1247.3 415.3,1244.4 415.7,1246.9 416.2,1245.1 416.7,1245.8 417.1,1248.0 417.6,1246.5 418.0,1247.0 418.4,1247.5 418.9,1248.1 419.4,1247.9 419.9,1249.1 420.3,1249.1 420.8,1249.1 421.2,1249.9 421.6,1250.0 422.0,1250.6 422.4,1250.3 422.8,1251.0 423.2,1251.9 423.5,1253.0 423.8,1251.8 424.1,1252.4 424.5,1252.6 425.0,1252.9 425.4,1253.8 425.8,1253.8 426.2,1254.4 426.6,1254.7 427.1,1254.9 427.6,1255.0 428.1,1256.1 428.6,1256.2 429.1,1257.3 429.5,1257.1 430.0,1257.4 430.5,1257.2 430.9,1257.3 431.4,1257.6 431.9,1258.7 432.3,1258.7 432.8,1259.0 433.2,1259.1 433.7,1258.9 434.2,1260.2 434.6,1260.7 435.1,1260.5 435.6,1260.4 436.1,1260.9 436.6,1261.5 437.1,1264.8 437.6,1261.8 438.1,1262.1 438.6,1262.3 439.1,1262.8 439.6,1263.5 440.1,1264.2 440.6,1265.0 441.0,1264.1 441.5,1265.5 442.0,1265.0 442.4,1265.8 442.9,1265.6 443.4,1266.4 443.8,1266.1 444.3,1266.3 444.7,1267.7 445.1,1268.5 445.5,1268.1 445.8,1268.6 446.2,1268.3 446.5,1269.8 446.9,1269.9 447.2,1270.7 447.6,1270.5 447.9,1271.3 448.2,1271.6 448.5,1271.9 448.8,1272.5 449.1,1273.6 449.4,1273.4 449.7,1273.8 449.9,1274.9 450.2,1274.8 450.5,1276.2 450.7,1276.5 451.0,1276.1 451.2,1277.3 451.4,1278.1 451.7,1278.1 451.9,1278.5 452.1,1278.5 452.3,1279.5 452.4,1280.3 452.6,1280.2 452.7,1281.7 452.9,1281.4 453.0,1282.7 453.2,1283.0 453.3,1283.6 453.4,1283.5 453.6,1284.1 453.7,1285.1 453.8,1285.9 454.0,1286.7 454.1,1286.9 454.2,1287.5 454.3,1288.0 454.4,1289.0 454.5,1289.3 454.6,1290.2 454.7,1290.3 454.8,1290.4 454.9,1291.5 455.0,1291.9 455.0,1292.7 455.1,1293.2 455.2,1293.9 455.3,1294.6 455.4,1295.8 455.5,1294.8 455.6,1295.4 455.7,1297.1 455.8,1297.2 455.9,1298.3 456.0,1298.8 456.1,1299.4 456.2,1300.9 456.3,1300.3 456.4,1300.9 456.4,1302.2 456.5,1302.1 456.6,1302.8 456.7,1303.3 456.8,1304.4 456.9,1304.0 457.0,1305.2 457.1,1306.4 457.2,1307.0 457.2,1306.6 457.3,1307.5 457.4,1308.0 457.5,1308.9 457.6,1309.0 457.7,1310.1 457.8,1310.3 457.9,1311.0 457.9,1311.4 458.0,1312.2 458.1,1312.4 458.2,1313.2 458.3,1313.7 458.4,1314.2 458.4,1315.0 458.5,1315.4 458.6,1316.1 458.7,1316.6 458.7,1317.5 458.8,1318.1 458.9,1318.5 458.9,1318.7 459.0,1319.5 459.1,1319.9 459.2,1320.4 459.2,1321.6 459.3,1321.7 459.4,1322.4 459.5,1322.9 459.5,1323.6 459.6,1323.9 459.7,1324.6 459.8,1325.9 459.8,1326.6 459.9,1326.6 460.0,1327.5 460.1,1328.1 460.1,1328.6 460.2,1329.4 460.3,1329.9 460.3,1332.1 460.4,1331.3 460.4,1331.2 460.5,1332.2 460.5,1334.0 460.6,1333.1 460.7,1333.6 460.7,1335.3 460.8,1334.9 460.8,1334.9 460.9,1336.3 460.9,1336.1 461.0,1336.9 461.1,1338.4 461.1,1338.7 461.2,1339.0 461.2,1340.2 461.3,1340.8 461.3,1341.3 461.4,1341.0 461.5,1343.3 461.5,1342.6 461.6,1344.0 461.6,1344.2 461.7,1344.9 461.7,1345.0 461.8,1347.5 461.8,1346.4 461.9,1346.8 461.9,1347.8 462.0,1348.3 462.1,1349.0 462.1,1349.0 462.2,1349.6 462.2,1350.2 462.3,1351.3 462.3,1351.0 462.4,1352.0 462.4,1352.5 462.5,1354.1 462.5,1354.0 462.5,1354.9 462.6,1355.8 462.6,1356.3 462.7,1357.0 462.7,1357.5 462.8,1358.3 462.8,1359.3 462.9,1358.8 462.9,1360.0 463.0,1361.3 463.0,1361.8 463.1,1362.2 463.1,1362.8 463.1,1363.3 463.2,1363.6 463.2,1366.2 463.3,1365.2 463.3,1366.0 463.4,1366.6 463.4,1367.4 463.4,1366.9 463.5,1367.3 463.5,1368.3 463.5,1368.5 463.6,1369.2 463.6,1369.8 463.7,1370.0 463.7,1370.9 463.8,1371.8 463.9,1372.9 464.0,1373.9 464.1,1374.4 464.1,1375.1 464.2,1376.9 464.3,1376.5 464.3,1377.3 464.4,1377.4 464.5,1377.9 464.6,1378.3 464.7,1377.8 464.8,1377.8 464.8,1377.9 464.9,1377.4 464.9,1377.0 465.0,1376.2 465.1,1375.5 465.1,1375.7 465.2,1375.5 465.3,1374.5 465.4,1373.2 465.4,1373.1 465.5,1371.7 465.6,1371.6 465.6,1370.2 465.7,1370.4 465.8,1370.0 465.9,1368.8 466.0,1368.2 466.0,1367.2 466.1,1366.6 466.2,1365.6 466.3,1365.1 466.3,1364.7 466.4,1364.3 466.4,1363.5 466.5,1362.8 466.5,1361.8 466.6,1362.0 466.6,1361.1 466.7,1360.6 466.7,1359.0 466.8,1359.4 466.8,1359.4 466.9,1360.3 466.9,1357.4 467.0,1356.9 467.0,1355.9 467.1,1355.1 467.2,1355.3 467.2,1354.2 467.3,1353.6 467.3,1352.8 467.4,1352.4 467.5,1352.4 467.5,1351.0 467.6,1350.6 467.7,1349.4 467.7,1348.5 467.8,1348.5 467.8,1347.9 467.9,1346.8 468.0,1346.5 468.1,1348.5 468.1,1346.2 468.2,1345.5 468.3,1344.5 468.5,1343.7 468.6,1343.3 468.8,1342.8 468.9,1342.2 469.1,1341.2 469.2,1340.4 469.4,1340.4 469.6,1339.8 469.7,1338.9 469.9,1338.5 470.1,1338.8 470.3,1339.4 470.4,1337.6 470.6,1336.3 470.8,1336.4 471.0,1335.4 471.2,1335.1 471.5,1335.3 471.8,1333.5 472.1,1333.3 472.4,1332.9 472.7,1333.0 473.0,1332.2 473.4,1332.7 473.7,1330.8 474.0,1330.8 474.3,1330.2 474.6,1330.8 474.9,1330.3 475.2,1329.4 475.7,1329.0 476.1,1328.2 476.6,1328.0 477.0,1327.5 477.4,1327.1 477.8,1327.3 478.2,1327.0 478.6,1327.2 479.0,1327.8 479.4,1328.3 479.8,1328.6 480.3,1328.7 480.7,1329.2 481.2,1329.5 481.4,1329.1 481.7,1330.5 481.9,1331.0 482.2,1330.1 482.5,1331.4 482.7,1331.9 483.0,1332.3 483.3,1333.3 483.5,1333.6 483.8,1334.5 484.1,1334.5 484.4,1335.2 484.7,1336.5 485.0,1336.7 485.3,1337.7 485.5,1338.1 485.8,1337.9 486.0,1338.9 486.3,1339.3 486.6,1339.8 486.8,1340.8 487.1,1340.9 487.3,1341.6 487.6,1341.5 487.9,1342.7 488.1,1343.1 488.4,1344.0 488.7,1344.4 489.0,1344.4 489.2,1345.1 489.5,1345.8 489.8,1345.8 490.0,1347.3 490.3,1347.5 490.5,1347.4 490.7,1348.9 490.9,1348.7 491.1,1349.5 491.3,1349.9 491.5,1350.7 491.7,1351.1 491.9,1351.8 492.1,1351.7 492.3,1352.7 492.5,1353.7 492.7,1354.1 492.9,1354.6 493.1,1354.9 493.3,1355.6 493.5,1355.7 493.7,1356.7 493.9,1357.8 494.1,1357.8 494.3,1358.9 494.5,1358.8 494.7,1359.8 494.9,1360.0 495.1,1360.2 495.3,1361.4 495.5,1362.3 495.7,1363.0 495.9,1363.8 496.1,1363.7 496.3,1364.3 496.5,1365.2 496.7,1365.7 496.9,1366.4 497.1,1366.4 497.3,1367.1 497.5,1367.5 497.8,1368.3 498.0,1368.4 498.2,1369.1 498.4,1369.7 498.6,1370.2 498.8,1371.1 499.0,1371.3 499.2,1372.2 499.4,1374.1 499.6,1373.8 499.7,1373.7 499.9,1374.3 500.1,1374.7 500.3,1375.9 500.5,1376.1 500.6,1376.8 500.8,1377.1 500.9,1378.5 501.1,1379.1 501.2,1379.3 501.3,1379.2 501.5,1379.5 501.6,1380.4 501.8,1381.4 501.9,1381.7 502.0,1382.6 502.2,1382.2 502.3,1383.4 502.4,1383.3 502.6,1384.4 502.7,1385.3 502.9,1385.5 503.0,1385.8 503.1,1386.8 503.3,1386.9 503.4,1387.8 503.5,1388.8 503.7,1389.5 503.8,1389.4 504.0,1389.8 504.1,1390.9 504.3,1391.5 504.4,1392.0 504.5,1392.4 504.6,1393.3 504.8,1393.6 504.9,1394.2 505.0,1395.2 505.1,1395.8 505.3,1395.5 505.4,1396.7 505.5,1396.7 505.6,1397.8 505.7,1398.4 505.9,1397.9 506.0,1400.5 506.1,1399.4 506.3,1400.6 506.4,1401.1 506.5,1401.6 506.6,1402.4 506.8,1402.5 506.9,1403.5 507.0,1404.4 507.1,1404.7 507.3,1405.3 507.4,1406.1 507.5,1406.2 507.6,1407.4 507.8,1407.8 507.9,1408.1 508.0,1408.7 508.2,1409.9 508.3,1409.8 508.4,1411.0 508.5,1411.2 508.7,1412.2 508.8,1412.2 508.9,1413.1 509.0,1414.0 509.1,1414.3 509.2,1415.0 509.3,1416.0 509.5,1416.8 509.6,1417.5 509.7,1417.4 509.8,1417.7 509.9,1418.5 510.0,1419.4 510.1,1418.8 510.3,1419.8 510.4,1420.7 510.5,1421.1 510.6,1421.4 510.7,1423.2 510.8,1422.9 510.9,1423.5 511.1,1423.8 511.2,1425.0 511.3,1425.1 511.4,1425.3 511.5,1427.3 511.6,1428.2 511.7,1427.7 511.8,1427.8 512.0,1429.3 512.1,1430.0 512.2,1430.5 512.3,1431.0 512.4,1431.4 512.5,1432.0 512.6,1432.5 512.7,1432.7 512.8,1433.6 512.9,1434.2 513.0,1435.0 513.1,1434.7 513.2,1435.2 513.3,1436.3 513.4,1437.8 513.5,1437.7 513.6,1437.3 513.7,1438.6 513.8,1439.2 513.9,1440.2 513.9,1440.7 514.0,1441.5 514.1,1441.4 514.2,1443.3 514.3,1442.7 514.4,1443.2 514.5,1443.9 514.5,1445.4 514.6,1445.6 514.7,1446.6 514.8,1446.9 514.9,1447.3 514.9,1447.7 515.0,1448.9 515.1,1449.1 515.2,1449.9 515.2,1450.3 515.3,1451.3 515.4,1451.5 515.5,1451.5 515.6,1452.4 515.6,1453.7 515.7,1453.5 515.8,1454.4 515.9,1455.2 516.0,1455.9 516.0,1457.6 516.1,1456.8 516.2,1457.4 516.3,1458.3 516.4,1458.0 516.4,1458.9 516.5,1458.8 516.6,1460.0 516.7,1461.5 516.8,1460.9 516.9,1462.3 517.0,1462.4 517.1,1463.5 517.2,1463.8 517.3,1464.5 517.4,1465.0 517.6,1465.7 517.7,1467.2 517.8,1467.4 517.9,1468.0 518.0,1468.6 518.1,1469.2 518.2,1469.6 518.3,1470.0 518.5,1471.0 518.6,1471.7 518.7,1472.2 518.8,1472.8 518.9,1473.9 519.0,1474.7 519.1,1475.0 519.2,1475.6 519.3,1475.5 519.4,1476.4 519.5,1476.9 519.6,1477.2 519.6,1477.7 519.7,1478.6 519.8,1479.1 519.9,1479.4 519.9,1479.5 520.0,1479.5 520.3,1482.3 520.5,1482.7 520.5,1482.5 520.8,1482.2 521.0,1481.9 521.1,1481.4 521.3,1481.1 521.6,1480.9 521.8,1481.0 522.0,1480.1 522.3,1480.1 522.5,1479.5 522.8,1478.0 523.0,1477.6 523.3,1475.7 523.4,1476.1 523.5,1475.6 523.6,1474.3 523.7,1475.2 523.8,1474.3 523.9,1474.4 524.0,1473.9 524.1,1472.5 524.2,1472.5 524.3,1472.2 524.4,1470.9 524.5,1470.6 524.6,1469.9 524.7,1469.5 524.8,1469.0 524.9,1467.7 525.1,1467.3 525.2,1467.3 525.3,1465.8 525.4,1466.1 525.5,1464.5 525.6,1463.7 525.7,1463.7 525.8,1463.2 525.9,1462.1 526.1,1462.6 526.2,1461.5 526.3,1460.1 526.4,1460.2 526.5,1459.9 526.6,1458.9 526.7,1457.5 526.8,1457.7 526.9,1457.0 527.0,1456.3 527.1,1456.0 527.3,1455.1 527.4,1454.5 527.5,1453.9 527.6,1453.8 527.7,1452.6 527.8,1452.4 527.9,1451.5 528.0,1451.9 528.1,1450.0 528.2,1450.1 528.4,1448.7 528.5,1454.0 528.6,1448.3 528.7,1447.5 528.8,1446.6 528.9,1446.1 529.0,1445.7 529.1,1445.3 529.2,1445.3 529.3,1443.7 529.5,1443.1 529.6,1443.4 529.7,1442.7 529.8,1442.4 529.9,1441.3 530.0,1441.1 530.2,1440.5 530.3,1439.5 530.5,1438.9 530.6,1438.4 530.8,1438.5 531.0,1437.0 531.1,1436.4 531.3,1435.3 531.4,1435.5 531.6,1434.6 531.7,1434.1 531.9,1433.5 532.1,1432.6 532.2,1431.9 532.4,1432.0 532.6,1431.7 532.7,1431.0 532.9,1430.2 533.1,1431.0 533.3,1430.2 533.7,1429.2 534.0,1428.5 534.4,1427.9 534.8,1427.7 535.2,1426.5 535.6,1426.5 536.0,1426.4 536.5,1425.7 536.9,1425.7 537.3,1425.8 537.7,1425.5 538.1,1425.3 538.6,1425.5 539.0,1426.2 539.5,1426.6 540.0,1427.1 540.4,1427.3 540.9,1427.0 541.3,1428.0 541.8,1428.4 542.2,1428.3 542.6,1429.2 543.0,1430.0 543.4,1429.8 543.8,1430.5 544.2,1430.7 544.6,1431.2 545.0,1431.5 545.4,1432.0 545.8,1432.2 546.2,1433.1 546.6,1434.0 546.9,1433.6 547.2,1434.0 547.4,1435.2 547.7,1435.3 548.0,1436.7 548.2,1436.9 548.5,1437.7 548.8,1438.0 549.0,1439.2 549.3,1439.3 549.6,1439.9 549.8,1440.0 550.0,1440.3 550.3,1440.6 550.5,1440.8 550.7,1441.4 551.0,1440.7 551.2,1440.3 551.4,1440.3 551.6,1440.0 551.8,1438.7 551.9,1438.2 552.1,1437.8 552.3,1437.3 552.5,1435.3 552.7,1435.6 552.9,1434.6 553.1,1437.5 553.3,1432.7 553.4,1431.8 553.5,1432.5 553.7,1431.8 553.8,1431.4 553.9,1431.1 554.1,1430.5 554.2,1429.3 554.3,1430.6 554.5,1428.0 554.6,1427.5 554.7,1428.5 554.9,1426.5 555.0,1426.1 555.1,1424.6 555.3,1424.2 555.4,1424.2 555.5,1424.5 555.7,1422.5 555.8,1421.6 555.9,1421.7 556.1,1420.5 556.2,1420.6 556.3,1419.4 556.5,1419.3 556.6,1418.3 556.8,1418.4 557.0,1417.8 557.2,1416.4 557.4,1416.1 557.6,1416.8 557.8,1414.5 558.0,1413.9 558.1,1413.3 558.3,1412.5 558.5,1413.0 558.7,1412.1 558.9,1411.3 559.1,1410.5 559.3,1410.5 559.5,1410.3 559.7,1409.6 559.9,1409.2 560.3,1409.7 560.7,1409.4 561.2,1408.8 561.6,1409.8 562.0,1410.6 562.5,1411.2 562.9,1411.7 563.3,1411.7 563.5,1414.3 563.7,1412.7 563.8,1413.0 564.0,1414.1 564.2,1414.2 564.4,1414.2 564.5,1414.9 564.7,1415.6 564.9,1416.2 565.1,1417.1 565.2,1417.4 565.4,1417.8 565.6,1418.5 565.8,1418.7 566.0,1419.4 566.2,1420.1 566.4,1421.3 566.6,1422.1 566.7,1422.9 566.9,1424.3 567.0,1423.8 567.1,1423.8 567.3,1424.2 567.4,1425.6 567.6,1425.4 567.7,1426.8 567.9,1427.4 568.0,1427.4 568.2,1428.1 568.3,1428.5 568.5,1429.1 568.6,1429.9 568.8,1430.4 569.0,1430.7 569.1,1431.9 569.3,1432.1 569.4,1433.1 569.6,1433.5 569.7,1434.3 569.9,1434.6 570.1,1435.3 570.2,1436.1 570.4,1437.0 570.5,1437.8 570.7,1439.1 570.8,1438.2 571.0,1438.5 571.2,1439.6 571.3,1439.4 571.5,1441.3 571.7,1440.2 571.8,1442.1 572.0,1442.3 572.2,1442.9 572.3,1444.0 572.5,1443.9 572.7,1447.0 572.8,1444.8 573.0,1445.5 573.2,1446.0 573.3,1447.0 573.5,1447.2 573.7,1448.0 573.8,1448.2 574.0,1449.5 574.2,1449.3 574.3,1454.7 574.5,1451.2 574.7,1451.9 574.8,1452.3 575.0,1453.3 575.2,1453.7 575.3,1455.7 575.5,1453.6 575.6,1453.8 575.8,1456.2 575.9,1456.8 576.1,1455.5 576.2,1457.6 576.4,1458.0 576.5,1457.7 576.6,1459.5 576.8,1458.7 576.9,1461.7 577.1,1459.9 577.2,1462.0 577.3,1462.3 577.5,1461.5 577.6,1462.5 577.8,1463.5 577.9,1463.9 578.1,1465.2 578.2,1463.8 578.3,1465.9 578.5,1466.9 578.6,1467.3 578.8,1468.1 578.9,1467.3 579.0,1467.8 579.2,1469.6 579.3,1473.8 579.5,1470.2 579.6,1470.8 579.8,1472.1 579.9,1471.2 580.1,1471.8 580.3,1473.5 580.5,1473.0 580.6,1474.8 580.8,1476.6 581.0,1475.4 581.2,1474.7 581.4,1475.7 581.6,1475.5 581.8,1478.8 582.0,1478.5 582.1,1478.9 582.3,1478.1 582.5,1480.9 582.7,1479.5 582.9,1479.3 583.1,1482.4 583.3,1482.0 583.5,1482.1 583.7,1482.3 583.8,1484.1 584.0,1482.3 584.2,1484.8 584.4,1486.4 584.6,1483.7 584.7,1487.7 584.9,1486.5 585.1,1487.3 585.2,1489.6 585.4,1490.0 585.6,1487.9 585.7,1489.8 585.9,1488.5 586.1,1491.2 586.3,1491.8 586.4,1495.1 586.6,1493.7 586.8,1496.0 586.9,1495.7 587.1,1492.8 587.3,1498.6 587.4,1493.8 587.6,1498.4 587.7,1501.5 587.9,1496.9 588.1,1498.7 588.2,1500.7 588.4,1501.7 588.5,1497.5 588.7,1499.5 588.8,1499.7 589.0,1500.0 589.1,1501.0 589.3,1499.1 589.5,1502.9 589.6,1504.4 589.8,1499.4 589.9,1504.7 590.1,1505.6 590.2,1507.3 590.4,1508.0 590.5,1510.5 590.7,1512.4 590.8,1507.1 591.0,1507.7 591.1,1509.5 591.3,1508.3 591.4,1507.9 591.5,1507.4 591.7,1511.6 591.8,1520.0 592.0,1515.3 592.1,1508.5 592.3,1509.4 592.4,1514.1 592.6,1516.9 592.7,1512.4 592.9,1517.3 593.0,1513.8 593.2,1514.7 593.3,1520.1 593.5,1516.4 593.6,1515.9 593.8,1519.7 593.9,1521.3 594.1,1517.9 594.3,1517.8 594.5,1521.6 594.7,1530.8 594.9,1519.2 595.1,1525.2 595.2,1519.2 595.4,1522.1 595.5,1526.2 595.6,1533.0 595.8,1521.7 595.9,1525.0 596.1,1524.6 596.2,1526.0 596.4,1541.0 596.6,1530.0 596.7,1528.1 596.9,1539.0 597.1,1527.5 597.2,1529.2 597.4,1524.6 597.6,1535.0 597.7,1533.0 597.9,1529.1 598.1,1530.4 598.3,1536.4 598.4,1550.8 598.6,1537.9 598.8,1535.9 599.0,1539.7 599.1,1533.2 599.3,1531.3 599.5,1539.7 599.6,1540.9 599.8,1538.8 600.0,1542.2 600.1,1540.5 600.3,1539.0 600.5,1545.8 600.7,1539.7 601.0,1544.3 601.2,1550.5 601.4,1545.8 601.6,1541.6 601.9,1558.8 602.1,1546.5 602.3,1547.4 602.5,1547.8 602.7,1549.0 603.0,1555.5 603.2,1552.0 603.4,1546.1 603.6,1546.6 603.8,1555.2 604.1,1555.2 604.3,1555.9 604.5,1546.4 604.7,1553.5 605.0,1558.9 605.2,1558.1 605.4,1558.7 605.9,1552.2 606.4,1557.5 607.0,1549.9 607.5,1558.6 608.0,1556.0 608.5,1551.1 609.0,1549.7 609.6,1548.4 610.1,1545.9 610.6,1551.4 610.8,1556.7 611.0,1556.6 611.2,1549.9 611.5,1555.4 611.7,1552.3 611.9,1551.7 612.1,1549.3 612.3,1554.4 612.5,1547.4 612.7,1550.0 612.9,1551.0 613.2,1546.1 613.4,1545.9 613.6,1545.3 613.8,1543.7 614.0,1538.9 614.2,1538.7 614.4,1542.2 614.6,1537.9 614.9,1542.1 615.1,1542.8 615.3,1539.8 615.5,1540.5 615.7,1539.3 615.9,1533.8 616.2,1536.7 616.4,1538.1 616.6,1535.9 616.9,1538.3 617.1,1538.8 617.3,1533.0 617.6,1535.4 617.8,1536.9 618.0,1531.6 618.2,1533.6 618.5,1538.8 618.7,1531.4 618.9,1530.7 619.2,1528.8 619.4,1526.6 619.6,1532.6 619.9,1531.1 620.1,1528.8 620.3,1531.0 620.6,1527.9 620.8,1536.5 621.0,1526.3 621.3,1528.2 621.5,1525.6 621.7,1525.2 622.0,1523.9 622.2,1523.6 622.5,1522.6 622.7,1533.6 622.9,1520.6 623.2,1521.2 623.4,1518.6 623.6,1523.0 623.9,1517.7 624.1,1517.9 624.3,1519.2 624.6,1518.7 624.8,1520.5 625.1,1516.7 625.3,1514.9 625.5,1515.6 625.8,1515.3 626.0,1515.9 626.5,1513.8 626.9,1520.0 627.4,1514.3 627.9,1515.6 628.4,1509.6 628.9,1513.5 629.3,1512.5 629.8,1512.0 630.2,1510.7 630.7,1512.6 631.1,1513.9 631.7,1511.9 632.3,1512.3 632.9,1512.9 633.4,1512.9 633.9,1512.2 634.5,1515.4 635.0,1511.0 635.2,1515.9 635.4,1518.6 635.6,1517.3 635.8,1516.9 636.0,1517.9 636.2,1518.2 636.4,1515.8 636.6,1517.5 636.8,1515.7 637.0,1515.2 637.2,1518.9 637.4,1520.1 637.6,1520.3 637.8,1519.2 638.0,1518.4 638.2,1524.0 638.4,1521.1 638.6,1526.2 638.8,1520.8 639.0,1523.5 639.1,1524.4 639.3,1519.7 639.5,1526.5 639.6,1527.3 639.8,1529.4 640.0,1528.5 640.1,1526.4 640.3,1530.8 640.5,1531.0 640.7,1534.0 640.8,1533.5 641.0,1531.3 641.2,1531.3 641.3,1530.7 641.5,1539.4 641.7,1531.7 641.9,1536.6 642.0,1537.1 642.2,1533.2 642.4,1535.0 642.5,1534.9 642.7,1535.1 643.0,1537.4 643.2,1538.9 643.5,1539.6 643.7,1538.7 644.0,1535.1 644.2,1538.3 644.5,1534.0 644.7,1533.3 645.0,1533.7 645.2,1532.5 645.5,1535.3 645.7,1534.6 646.0,1531.2 646.3,1530.2 646.6,1528.6 646.8,1529.3 647.0,1527.7 647.2,1525.6 647.4,1529.1 647.7,1525.6 647.9,1524.6 648.1,1521.4 648.3,1522.7 648.6,1520.1 648.8,1520.4 649.0,1518.8 649.3,1519.8 649.5,1522.9 649.7,1525.3 650.0,1519.2 650.2,1525.1 650.4,1517.2 650.6,1516.2 650.9,1515.8 651.1,1517.7 651.3,1518.4 651.5,1516.2 651.7,1515.5 652.0,1517.1 652.3,1517.8 652.6,1516.1 652.8,1541.0 653.1,1514.4 653.4,1511.9 653.6,1517.0 653.9,1518.1 654.1,1518.9 654.4,1517.3 654.6,1527.7 654.8,1521.4 655.1,1519.0 655.3,1521.6 655.6,1522.3 655.8,1523.0 655.9,1525.7 656.1,1524.8 656.2,1525.0 656.3,1531.9 656.5,1522.1 656.6,1523.8 656.8,1529.4 656.9,1527.0 657.1,1529.4 657.2,1526.6 657.3,1529.4 657.5,1524.8 657.6,1529.5 657.8,1533.3 657.9,1530.4 658.1,1537.3 658.2,1535.5 658.4,1528.8 658.6,1533.9 658.7,1536.2 658.9,1536.6 659.0,1535.9 659.2,1536.4 659.4,1539.1 659.6,1538.9 659.8,1539.4 659.9,1541.6 660.1,1546.2 660.3,1535.4 660.5,1543.2 660.7,1542.5 660.9,1539.4 661.1,1539.8 661.3,1545.2 661.5,1545.0 661.7,1541.1 661.9,1546.9 662.1,1547.4 662.3,1549.7 662.5,1549.2 662.8,1551.3 663.0,1561.5 663.2,1550.4 663.4,1541.2 663.6,1550.4 663.8,1561.1 664.0,1548.9 664.2,1552.7 664.4,1548.1 664.6,1569.6 664.8,1550.1 665.0,1554.3 665.2,1551.6 665.5,1558.0 665.7,1554.8 665.9,1553.1 666.1,1558.2 666.3,1561.7 666.5,1559.8 666.7,1559.2 666.9,1573.5 667.2,1557.3 667.4,1563.2 667.6,1564.9 667.8,1558.7 668.0,1558.3 668.2,1553.4 668.4,1564.9 668.6,1562.4 668.9,1568.7 669.1,1560.6 669.3,1564.7 669.5,1566.1 669.7,1568.3 670.0,1571.8 670.3,1565.2 670.7,1580.9 671.0,1572.1 671.3,1575.8 671.7,1569.6 672.0,1572.1 672.3,1564.9 672.6,1568.3 673.0,1574.3 673.3,1567.8 673.6,1572.4 673.9,1572.0 674.2,1574.4 674.5,1573.6 674.8,1570.6 675.2,1577.2 675.6,1574.7 676.0,1577.5 676.4,1577.8 676.8,1577.5 677.2,1572.7 677.6,1588.1 677.9,1581.9 678.3,1573.3 678.6,1576.2 679.0,1569.4 679.2,1579.1 679.4,1580.0 679.5,1582.7 679.7,1578.1 679.9,1581.5 680.1,1581.7 680.3,1583.7 680.5,1589.5 680.6,1577.8 680.8,1582.8 681.0,1583.3 681.1,1580.8 681.3,1584.9 681.5,1583.9 681.6,1581.6 681.8,1590.6 681.9,1592.4 682.1,1598.6 682.2,1593.1 682.4,1590.6 682.5,1593.1 682.6,1588.9 682.7,1590.9 682.8,1592.3 682.9,1590.2 683.0,1601.0 683.1,1593.7 683.2,1595.1 683.3,1596.1 683.3,1596.6 683.4,1597.7 683.5,1598.0 683.6,1599.5 683.7,1601.4 683.7,1606.9 683.8,1595.5 683.9,1600.4 683.9,1600.2 684.0,1599.0 684.1,1605.6 684.1,1604.1 684.2,1603.9 684.3,1600.8 684.3,1605.7 684.4,1604.1 684.4,1607.6 684.5,1605.8 684.6,1607.6 684.6,1613.1 684.6,1608.4 684.7,1606.1 684.7,1606.8 684.8,1606.8 684.8,1607.9 684.8,1610.2 684.9,1610.3 684.9,1608.8 685.0,1611.5 685.0,1610.7 685.0,1612.0 685.0,1613.2 685.1,1615.0 685.1,1611.6 685.1,1611.4 685.2,1611.5 685.2,1613.6 685.2,1617.1 685.3,1616.0 685.3,1611.2 685.3,1619.7 685.3,1621.4 685.4,1622.6 685.4,1627.0 685.4,1625.2 685.5,1618.4 685.5,1626.2" fill="none" stroke="#000" stroke-width="2.8" stroke-linejoin="round"/>
<line x1="135.3" y1="1566" x2="135.3" y2="1616" stroke="#000" stroke-width="2"/><line x1="187" y1="1540" x2="187" y2="1561" stroke="#000" stroke-width="2"/><line x1="197.5" y1="1516" x2="197.5" y2="1534" stroke="#000" stroke-width="2"/><line x1="147" y1="1540" x2="147" y2="1549" stroke="#000" stroke-width="2"/><line x1="605.4" y1="1533" x2="605.4" y2="1556" stroke="#000" stroke-width="2"/><line x1="606.7" y1="1552" x2="606.7" y2="1567" stroke="#000" stroke-width="2"/><line x1="130.5" y1="1590" x2="130.5" y2="1604" stroke="#000" stroke-width="2"/>
<polyline points="127.2,1611.0 127.2,1606.0 127.3,1610.2 127.3,1607.5 127.4,1606.2 127.4,1605.4 127.4,1604.6 127.5,1605.6 127.5,1605.4 127.5,1604.8 127.6,1604.6 127.6,1601.4 127.7,1602.9 127.7,1599.8 127.7,1600.3 127.8,1599.6 127.8,1600.1 127.9,1598.3 127.9,1598.5 127.9,1597.7 128.0,1597.0 128.0,1596.9 128.1,1592.9 128.1,1592.1 128.1,1592.7 128.2,1593.5 128.2,1595.0 128.2,1592.0 128.3,1590.9 128.3,1590.6 128.4,1588.3 128.4,1590.7 128.4,1587.9 128.5,1589.8 128.5,1586.9 128.6,1589.2 128.6,1589.4 128.6,1587.3 128.7,1587.3 128.7,1584.5 128.8,1585.4 128.8,1584.2 128.8,1583.4 128.9,1584.9 128.9,1581.5 129.0,1583.8 129.0,1582.8 129.1,1580.6 129.1,1582.4 129.2,1577.4 129.2,1577.8 129.3,1579.4 129.3,1578.8 129.4,1576.7 129.4,1577.8 129.5,1576.1 129.5,1577.1 129.6,1575.3 129.6,1575.6 129.6,1573.2 129.7,1572.2 129.7,1571.6 129.8,1570.5 129.8,1572.5 129.9,1567.7 129.9,1567.9 130.0,1569.4 130.0,1568.7 130.1,1571.1 130.2,1566.7 130.2,1567.3 130.3,1567.1 130.3,1569.0 130.4,1566.3 130.4,1564.4 130.5,1562.1 130.6,1561.9 130.6,1563.5 130.7,1561.9 130.8,1563.8 130.9,1563.0 131.0,1560.1 131.0,1562.0 131.1,1561.5 131.2,1561.0 131.3,1557.5 131.4,1560.1 131.4,1557.2 131.5,1555.2 131.6,1557.4 131.7,1552.1 131.8,1554.7 131.9,1554.4 132.0,1553.6 132.0,1554.8 132.1,1553.4 132.2,1553.2 132.3,1552.5 132.4,1551.0 132.5,1551.6 132.6,1549.1 132.7,1550.9 132.8,1549.2 132.9,1547.2 133.0,1549.2 133.1,1548.2 133.2,1545.3 133.3,1546.1 133.4,1545.3 133.5,1549.9 133.6,1544.1 133.7,1544.8 133.8,1542.3 134.0,1544.8 134.1,1541.7 134.2,1542.3 134.3,1540.1 134.4,1543.3 134.5,1539.8 134.6,1537.2 134.7,1539.9 134.9,1540.8 135.0,1538.6 135.1,1536.4 135.2,1536.0 135.3,1535.3 135.5,1536.3 135.6,1535.1 135.7,1530.6 135.8,1536.1 136.0,1533.3 136.1,1530.0 136.2,1531.7 136.3,1533.1 136.4,1530.4 136.5,1530.2 136.6,1529.1 136.7,1527.2 136.8,1529.9 137.0,1525.9 137.1,1527.3 137.2,1526.0 137.3,1526.0 137.4,1523.5 137.5,1524.7 137.6,1524.0 137.8,1521.6 137.9,1522.7 138.0,1524.4 138.1,1523.2 138.2,1520.7 138.3,1522.4 138.5,1520.5 138.6,1520.0 138.7,1520.3 138.8,1517.8 138.9,1516.7 139.0,1518.0 139.2,1515.9 139.3,1516.8 139.4,1513.5 139.5,1516.3 139.6,1514.0 139.8,1512.7 139.9,1515.1 140.0,1513.1 140.1,1512.9 140.2,1510.7 140.4,1510.2 140.5,1510.8 140.7,1508.5 140.8,1510.0 141.0,1510.2 141.1,1509.9 141.2,1508.0 141.4,1507.9 141.5,1505.5 141.7,1505.8 141.8,1505.7 142.0,1503.5 142.1,1503.5 142.3,1502.8 142.4,1502.7 142.5,1501.5 142.7,1502.4 142.8,1500.2 143.0,1499.8 143.1,1499.9 143.3,1498.4 143.4,1500.0 143.6,1497.5 143.7,1498.1 143.9,1496.8 144.0,1497.0 144.2,1495.6 144.4,1496.6 144.5,1495.1 144.7,1493.7 144.8,1493.2 145.0,1493.5 145.2,1490.7 145.3,1492.4 145.5,1490.9 145.7,1490.5 145.8,1490.3 146.0,1488.8 146.1,1490.4 146.3,1491.1 146.5,1489.5 146.7,1488.8 146.8,1486.5 147.0,1486.0 147.2,1487.7 147.3,1487.1 147.5,1485.7 147.7,1484.1 147.9,1485.4 148.1,1482.8 148.2,1482.6 148.4,1481.5 148.6,1481.5 148.8,1481.3 149.0,1482.0 149.2,1478.1 149.4,1480.1 149.6,1479.6 149.8,1478.7 150.0,1478.7 150.2,1476.3 150.4,1476.2 150.6,1475.5 150.9,1474.2 151.1,1474.3 151.3,1473.6 151.5,1470.2 151.7,1474.9 151.9,1472.7 152.2,1474.7 152.4,1471.4 152.6,1471.7 152.8,1468.8 153.1,1470.6 153.3,1470.3 153.5,1467.9 153.8,1469.3 154.0,1467.7 154.3,1467.6 154.5,1467.8 154.8,1466.5 155.1,1469.3 155.3,1465.4 155.6,1464.8 155.9,1462.6 156.2,1463.5 156.5,1463.2 156.8,1460.6 157.1,1461.4 157.5,1463.4 157.8,1460.6 158.1,1462.2 158.4,1459.7 158.7,1459.4 159.0,1460.1 159.3,1458.0 159.6,1458.6 160.0,1458.5 160.3,1457.7 160.6,1457.6 160.9,1456.7 161.2,1455.6 161.5,1453.9 162.0,1456.6 162.6,1455.3 163.1,1452.8 163.7,1452.1 164.3,1453.9 164.8,1454.2 165.4,1452.8 165.9,1452.5 166.4,1452.9 167.0,1454.0 167.5,1452.6 168.0,1452.3 168.5,1452.3 169.1,1452.2 169.7,1451.4 170.2,1453.9 170.8,1454.3 171.3,1451.7 171.8,1452.9 172.4,1450.7 172.9,1453.3 173.5,1454.7 174.1,1454.2 174.5,1455.0 174.9,1455.9 175.3,1454.5 175.7,1454.9 176.1,1455.8 176.5,1456.5 176.9,1456.5 177.3,1458.0 177.7,1456.4 178.1,1458.3 178.6,1457.8 179.0,1458.7 179.4,1459.3 179.8,1461.4 180.3,1459.6 180.7,1459.3 181.1,1462.3 181.5,1461.5 181.9,1462.3 182.3,1462.8 182.7,1463.2 183.2,1463.6 183.6,1463.6 184.0,1465.4 184.4,1464.6 184.8,1464.9 185.2,1464.9 185.6,1466.6 186.0,1466.5 186.5,1464.8 186.9,1468.0 187.3,1467.7 187.7,1467.9 188.1,1468.8 188.6,1470.4 189.1,1469.5 189.6,1470.2 190.2,1468.3 190.7,1470.3 191.2,1470.5 191.7,1471.6 192.2,1472.9 192.8,1471.6 193.3,1471.5 193.7,1471.6 194.2,1471.8 194.7,1473.9 195.1,1472.8 195.5,1474.3 195.9,1472.0 196.3,1474.0 196.7,1474.6 197.0,1473.7 197.4,1475.5 197.7,1475.7 198.0,1476.0 198.4,1475.5 198.7,1476.6 199.0,1478.2 199.3,1478.6 199.7,1478.9 200.0,1479.5 200.3,1480.1 200.7,1480.1 201.0,1479.7 201.4,1481.7 201.7,1481.5 202.0,1482.2 202.4,1483.0 202.7,1481.9 203.0,1482.4 203.4,1484.0 203.7,1485.6 204.0,1484.1 204.4,1485.4 204.7,1484.4 205.2,1487.0 205.6,1485.4 206.1,1487.6 206.6,1489.2 207.1,1489.0 207.5,1488.0 208.0,1489.0 208.4,1489.8 208.9,1487.9 209.3,1489.8 209.6,1488.9 209.9,1488.7 210.2,1489.8 210.5,1487.9 210.8,1487.2 211.0,1486.2 211.3,1487.4 211.6,1485.0 211.8,1484.7 212.1,1485.1 212.4,1484.5 212.6,1484.5 212.9,1484.2 213.1,1483.3 213.3,1481.9 213.5,1482.4 213.7,1479.2 213.9,1479.5 214.1,1480.1 214.3,1479.2 214.5,1479.2 214.7,1476.7 214.8,1477.8 215.0,1475.4 215.2,1475.9 215.4,1473.9 215.5,1475.6 215.7,1475.0 215.9,1473.0 216.0,1474.1 216.2,1473.0 216.3,1471.2 216.5,1471.9 216.6,1470.6 216.7,1470.9 216.9,1470.8 217.0,1469.5 217.2,1469.4 217.3,1467.6 217.4,1468.8 217.6,1466.5 217.7,1467.9 217.9,1465.1 218.0,1464.7 218.1,1463.2 218.3,1463.4 218.4,1462.8 218.6,1462.1 218.7,1463.0 218.9,1462.6 219.0,1462.4 219.2,1460.9 219.4,1459.3 219.6,1459.9 219.7,1458.9 219.9,1456.9 220.1,1458.2 220.2,1457.8 220.4,1455.9 220.6,1455.4 220.7,1454.9 220.9,1453.8 221.1,1454.7 221.2,1453.2 221.4,1453.6 221.5,1454.1 221.8,1452.3 222.1,1451.3 222.3,1452.1 222.5,1450.7 222.8,1451.6 223.0,1451.4 223.4,1447.6 223.5,1449.8 223.6,1448.8 223.7,1447.9 223.8,1446.3 223.9,1446.5 224.0,1446.8 224.2,1445.3 224.3,1445.7 224.4,1445.2 224.5,1443.9 224.7,1445.8 224.8,1443.3 224.9,1441.9 225.1,1441.4 225.2,1441.4 225.3,1439.3 225.5,1438.8 225.6,1438.5 225.7,1438.1 225.9,1439.5 226.0,1437.3 226.1,1435.7 226.3,1434.7 226.4,1434.5 226.6,1434.0 226.7,1434.6 226.8,1433.0 227.0,1433.2 227.1,1432.7 227.2,1431.0 227.4,1430.0 227.6,1430.2 227.7,1430.3 227.9,1428.9 228.0,1428.3 228.2,1428.0 228.3,1427.0 228.5,1426.6 228.6,1426.3 228.8,1425.6 229.0,1424.3 229.1,1424.7 229.3,1424.1 229.4,1423.0 229.6,1422.6 229.7,1421.2 229.9,1421.6 230.1,1420.6 230.2,1420.2 230.4,1419.0 230.5,1418.6 230.7,1418.0 230.8,1417.7 231.0,1417.3 231.1,1417.7 231.4,1416.6 231.6,1415.2 231.9,1415.2 232.1,1414.5 232.4,1413.8 232.6,1413.0 232.9,1412.8 233.1,1413.5 233.4,1412.0 233.6,1411.7 233.9,1411.0 234.2,1411.0 234.5,1411.1 234.9,1410.6 235.3,1410.0 235.7,1409.2 236.1,1408.9 236.5,1408.3 236.9,1407.9 237.4,1408.1 237.8,1407.9 238.3,1407.2 238.7,1407.0 239.2,1406.5 239.7,1406.4 240.2,1406.5 240.8,1406.0 241.3,1405.9 241.9,1405.9 242.4,1405.6 243.0,1406.1 243.5,1405.6 244.1,1406.2 244.6,1406.1 245.1,1406.3 245.7,1406.2 246.2,1406.1 246.7,1408.9 247.2,1406.5 247.8,1406.8 248.3,1406.6 248.8,1407.2 249.4,1407.7 249.9,1408.2 250.3,1408.3 250.7,1408.9 251.1,1409.6 251.4,1408.9 251.8,1410.2 252.2,1410.6 252.6,1411.3 253.0,1410.9 253.4,1412.5 253.8,1412.7 254.1,1412.8 254.5,1413.0 254.9,1413.3 255.3,1414.3 255.8,1414.2 256.3,1415.2 256.8,1414.6 257.3,1415.8 257.8,1416.2 258.2,1415.9 258.7,1417.0 259.2,1416.4 259.7,1416.7 260.2,1416.7 260.7,1417.5 261.2,1417.0 261.8,1417.2 262.3,1417.5 262.9,1418.0 263.4,1418.0 263.9,1418.2 264.5,1418.5 265.0,1417.6 265.6,1418.7 266.1,1418.0 266.6,1417.8 267.0,1417.5 267.5,1417.0 268.0,1416.7 268.4,1417.2 268.9,1416.1 269.3,1416.1 269.8,1415.8 270.2,1415.0 270.7,1414.3 271.1,1414.0 271.5,1414.1 271.9,1413.7 272.3,1413.0 272.6,1412.7 272.9,1412.2 273.3,1411.6 273.6,1411.8 273.9,1411.2 274.3,1411.1 274.6,1410.1 275.0,1409.7 275.5,1408.7 275.9,1409.1 276.4,1409.6 276.9,1408.7 277.4,1408.5 277.9,1408.1 278.4,1408.2 279.0,1407.6 279.5,1408.0 280.0,1407.3 280.6,1407.3 281.1,1407.0 281.7,1407.0 282.2,1406.4 282.7,1406.1 283.2,1406.1 283.7,1405.1 284.2,1405.5 284.7,1405.6 285.2,1404.9 285.8,1404.5 286.3,1404.2 286.8,1403.9 287.2,1403.6 287.7,1403.6 288.1,1403.0 288.5,1402.7 288.9,1402.3 289.5,1402.0 290.0,1401.7 290.4,1401.1 290.7,1401.1 291.1,1400.4 291.4,1400.5 291.8,1399.6 292.2,1398.9 292.5,1398.6 292.9,1398.0 293.2,1398.0 293.6,1396.8 293.9,1396.9 294.3,1396.5 294.7,1396.0 295.0,1395.7 295.4,1394.8 295.8,1394.8 296.2,1394.3 296.6,1395.8 297.0,1393.4 297.5,1393.3 297.9,1393.3 298.4,1392.3 298.8,1392.9 299.2,1392.3 299.7,1390.9 300.1,1390.5 300.4,1390.4 300.6,1390.0 300.9,1389.4 301.2,1389.0 301.4,1388.5 301.7,1387.8 302.0,1387.2 302.2,1387.0 302.5,1385.9 302.8,1385.1 303.0,1384.2 303.3,1384.1 303.6,1384.0 303.8,1382.9 304.1,1382.4 304.3,1382.1 304.8,1381.7 305.2,1381.4 305.7,1381.0 306.1,1380.3 306.6,1380.9 307.0,1379.6 307.5,1380.1 307.9,1380.1 308.4,1380.3 308.9,1380.3 309.5,1379.9 310.0,1380.9 310.5,1380.5 311.0,1380.5 311.5,1380.0 311.9,1380.3 312.4,1379.7 312.8,1378.9 313.2,1378.8 313.6,1378.6 314.0,1378.1 314.5,1377.8 314.9,1378.0 315.4,1378.7 315.8,1378.6 316.3,1379.6 316.8,1379.3 317.3,1380.3 317.8,1381.3 318.3,1381.0 318.7,1381.3 319.2,1381.6 319.8,1381.0 320.3,1381.3 320.8,1381.3 321.3,1381.3 321.8,1381.2 322.3,1380.2 322.6,1380.7 322.9,1379.9 323.2,1379.4 323.6,1379.1 323.9,1378.8 324.2,1378.1 324.5,1377.6 324.8,1376.8 325.1,1376.5 325.4,1375.9 325.7,1375.2 326.0,1374.9 326.2,1373.9 326.4,1373.4 326.6,1373.5 326.8,1372.2 327.0,1372.5 327.2,1371.7 327.4,1371.1 327.5,1370.6 327.7,1369.8 327.9,1369.0 328.1,1368.5 328.3,1368.5 328.4,1367.7 328.6,1366.7 328.8,1366.7 329.0,1365.9 329.2,1365.8 329.5,1365.1 329.7,1363.9 329.9,1363.8 330.2,1363.2 330.4,1362.9 330.7,1362.1 330.9,1362.3 331.1,1361.4 331.3,1360.5 331.6,1360.0 331.8,1359.8 332.0,1358.9 332.1,1358.4 332.3,1357.9 332.4,1357.0 332.5,1356.9 332.7,1356.4 332.8,1355.9 332.9,1355.9 333.1,1354.8 333.2,1354.0 333.3,1353.5 333.4,1353.2 333.5,1352.0 333.7,1352.0 333.8,1351.4 333.9,1350.0 334.0,1349.4 334.2,1349.0 334.3,1348.2 334.4,1347.6 334.5,1347.4 334.6,1346.6 334.7,1346.8 334.9,1345.5 335.0,1345.2 335.1,1344.6 335.2,1344.3 335.3,1343.6 335.5,1342.5 335.6,1342.3 335.7,1341.4 335.8,1340.9 335.9,1340.6 336.1,1339.2 336.2,1339.1 336.3,1338.9 336.4,1337.7 336.5,1337.6 336.6,1337.4 336.7,1337.0 336.8,1336.2 336.9,1335.2 337.1,1334.8 337.2,1333.5 337.3,1333.4 337.4,1333.3 337.5,1332.7 337.6,1332.4 337.7,1332.0 337.8,1330.9 337.9,1330.8 338.0,1330.5 338.2,1329.9 338.3,1328.9 338.5,1327.7 338.6,1327.5 338.7,1326.9 338.8,1326.3 338.9,1326.1 339.0,1325.5 339.1,1324.6 339.2,1324.2 339.3,1323.7 339.5,1324.3 339.6,1322.2 339.7,1321.8 339.8,1321.6 340.0,1321.4 340.1,1319.8 340.2,1319.8 340.4,1318.6 340.5,1318.1 340.6,1317.8 340.8,1316.7 340.9,1316.8 341.0,1316.0 341.2,1315.3 341.3,1314.7 341.4,1313.8 341.6,1313.7 341.7,1313.2 341.8,1312.7 342.0,1311.8 342.1,1311.1 342.3,1311.2 342.4,1309.9 342.6,1309.7 342.8,1308.7 343.0,1308.4 343.2,1307.1 343.3,1307.2 343.5,1306.2 343.7,1306.3 343.9,1305.5 344.1,1305.4 344.3,1304.3 344.4,1303.7 344.6,1303.7 344.8,1302.7 345.0,1302.7 345.2,1301.9 345.4,1301.3 345.6,1301.1 345.7,1300.7 345.9,1299.8 346.1,1300.3 346.3,1298.7 346.6,1297.8 346.8,1297.8 347.0,1297.1 347.2,1296.8 347.5,1296.2 347.7,1295.7 347.9,1294.4 348.2,1294.0 348.4,1293.7 348.6,1293.4 348.9,1292.7 349.1,1292.4 349.3,1292.1 349.6,1291.5 349.8,1290.8 350.1,1291.8 350.4,1289.6 350.6,1289.1 350.9,1289.2 351.2,1288.1 351.4,1287.5 351.7,1287.4 352.0,1286.8 352.3,1286.2 352.6,1285.9 352.9,1284.2 353.2,1284.3 353.5,1283.8 353.8,1283.1 354.0,1282.6 354.3,1282.8 354.6,1282.2 354.8,1281.3 355.1,1281.5 355.6,1280.3 356.1,1279.9 356.5,1280.1 356.9,1279.8 357.4,1279.0 357.8,1279.3 358.2,1278.9 358.7,1278.2 359.1,1277.9 359.4,1278.0 359.7,1277.6 360.0,1277.0 360.4,1277.0 360.7,1276.2 361.0,1275.6 361.3,1275.2 361.6,1275.4 361.9,1273.9 362.3,1273.7 362.6,1273.3 362.9,1272.8 363.2,1272.0 363.5,1271.8 363.7,1270.7 364.0,1270.4 364.3,1270.2 364.5,1269.2 364.8,1269.0 365.1,1268.3 365.3,1267.7 365.6,1266.9 365.9,1266.6 366.1,1266.1 366.4,1266.0 366.7,1265.2 366.9,1264.4 367.2,1264.1 367.6,1263.7 367.9,1262.9 368.3,1262.6 368.7,1262.1 369.0,1261.6 369.4,1261.2 369.7,1261.3 370.1,1260.4 370.5,1259.7 370.8,1259.9 371.2,1259.2 371.5,1258.8 371.8,1258.2 372.0,1257.4 372.3,1257.2 372.6,1256.4 372.9,1256.5 373.1,1255.6 373.4,1255.2 373.7,1255.0 374.0,1254.0 374.3,1253.5 374.6,1253.3 374.9,1252.8 375.2,1251.9 375.5,1252.1 375.9,1250.9 376.2,1250.6 376.6,1250.1 376.9,1249.8 377.3,1249.8 377.6,1249.3 378.0,1247.9 378.4,1247.9 378.7,1247.7 379.1,1247.2 379.5,1246.6 379.8,1246.1 380.2,1245.9 380.7,1245.4 381.1,1245.2 381.6,1245.2 382.0,1244.5 382.5,1244.1 382.9,1243.2 383.4,1243.8 383.8,1243.5 384.3,1243.3 384.7,1242.5 385.2,1242.9 385.7,1242.3 386.2,1241.5 386.7,1242.1 387.2,1240.9 387.8,1240.6 388.3,1240.5 388.8,1240.6 389.3,1240.2 389.8,1240.3 390.3,1239.8 390.9,1239.9 391.4,1239.9 392.0,1239.9 392.5,1240.1 393.1,1240.0 393.6,1240.3 394.2,1240.4 394.7,1240.3 395.3,1240.2 395.8,1240.5 396.3,1240.7 396.8,1240.8 397.3,1241.8 397.8,1241.4 398.3,1241.9 398.8,1242.3 399.3,1242.1 399.8,1243.0 400.3,1242.8 400.8,1243.5 401.2,1243.3 401.7,1244.0 402.1,1244.7 402.6,1244.5 403.0,1245.5 403.5,1245.9 403.9,1246.0 404.4,1246.2 404.8,1246.7 405.3,1247.0 405.8,1247.7 406.3,1247.2 406.8,1248.6 407.3,1247.9 407.8,1248.9 408.3,1249.4 408.8,1248.3 409.3,1249.2 409.8,1249.2 410.3,1250.0 410.8,1250.8 411.2,1251.1 411.7,1250.8 412.2,1251.6 412.6,1252.1 413.1,1252.7 413.6,1252.4 414.0,1252.9 414.5,1253.6 415.0,1253.7 415.4,1253.9 415.8,1254.3 416.3,1254.8 416.7,1255.3 417.1,1256.1 417.5,1255.5 417.9,1256.7 418.3,1256.6 418.7,1257.0 419.1,1257.9 419.6,1257.9 420.0,1258.4 420.4,1258.4 420.9,1258.7 421.3,1259.3 421.8,1259.2 422.2,1259.1 422.7,1260.1 423.2,1259.9 423.6,1260.5 424.1,1260.9 424.5,1261.1 425.0,1261.6 425.5,1262.2 426.0,1261.9 426.5,1263.0 427.0,1262.9 427.5,1263.4 428.0,1263.4 428.5,1264.4 429.0,1264.0 429.5,1264.5 430.0,1265.0 430.6,1264.8 431.1,1264.8 431.7,1265.1 432.3,1265.1 432.8,1265.5 433.4,1265.9 434.0,1264.9 434.5,1265.0 435.1,1265.4 435.7,1265.2 436.2,1265.1 436.7,1265.4 437.3,1265.0 437.8,1265.2 438.4,1265.3 438.9,1265.0 439.5,1265.0 440.1,1265.3 440.6,1264.7 441.1,1264.8 441.7,1265.0 442.3,1264.3 442.8,1264.9 443.4,1264.6 443.9,1264.8 444.5,1264.9 445.1,1264.7 445.6,1265.2 446.1,1264.8 446.7,1264.8 447.3,1265.1 447.9,1264.7 448.5,1265.1 449.1,1265.5 449.6,1265.1 450.1,1265.3 450.6,1266.0 451.1,1266.3 451.6,1265.8 452.1,1266.3 452.5,1266.5 452.9,1266.7 453.3,1267.2 453.7,1267.3 454.1,1268.9 454.4,1268.7 454.6,1268.5 454.9,1269.7 455.1,1269.9 455.4,1270.4 455.6,1271.1 455.9,1271.2 456.1,1271.7 456.4,1272.0 456.6,1273.5 456.9,1274.0 457.1,1274.2 457.3,1274.6 457.4,1275.2 457.6,1275.4 457.8,1276.2 458.0,1276.5 458.1,1277.4 458.3,1278.1 458.5,1278.6 458.6,1278.9 458.8,1279.7 458.9,1280.2 459.1,1280.9 459.3,1281.3 459.4,1281.8 459.6,1282.9 459.7,1283.2 459.8,1283.4 459.9,1283.9 460.0,1284.5 460.1,1284.7 460.2,1286.0 460.3,1285.9 460.4,1287.2 460.5,1287.4 460.6,1289.3 460.7,1288.7 460.8,1289.5 460.9,1290.2 461.0,1290.0 461.1,1290.7 461.2,1291.8 461.3,1292.0 461.4,1292.6 461.4,1293.7 461.5,1294.3 461.6,1294.8 461.7,1295.3 461.8,1295.2 461.8,1296.1 461.9,1296.7 462.0,1297.6 462.0,1297.5 462.1,1298.6 462.1,1298.9 462.2,1299.9 462.3,1299.9 462.3,1300.9 462.4,1301.5 462.4,1301.7 462.5,1302.3 462.5,1303.1 462.6,1303.4 462.6,1304.1 462.7,1304.7 462.8,1306.8 462.8,1305.6 462.9,1307.3 462.9,1307.7 463.0,1307.3 463.0,1308.6 463.1,1309.3 463.1,1310.1 463.2,1310.0 463.2,1310.8 463.3,1311.4 463.3,1311.8 463.4,1312.3 463.4,1313.0 463.5,1313.1 463.5,1314.0 463.6,1315.3 463.6,1315.5 463.6,1316.2 463.7,1315.7 463.7,1317.0 463.8,1317.6 463.8,1318.4 463.9,1319.6 463.9,1318.8 463.9,1320.2 464.0,1320.5 464.0,1321.0 464.1,1322.1 464.1,1322.7 464.2,1323.2 464.2,1324.1 464.3,1324.1 464.3,1325.3 464.3,1325.3 464.4,1325.9 464.4,1326.9 464.5,1327.7 464.5,1328.4 464.6,1328.7 464.6,1329.2 464.7,1329.6 464.7,1330.0 464.7,1330.2 464.8,1331.4 464.8,1332.2 464.9,1331.9 464.9,1333.0 465.0,1334.2 465.0,1334.6 465.1,1335.1 465.1,1335.9 465.1,1336.1 465.2,1336.8 465.2,1338.2 465.3,1338.0 465.3,1338.4 465.4,1339.2 465.4,1339.5 465.4,1340.5 465.5,1340.5 465.5,1341.7 465.6,1342.5 465.6,1343.3 465.7,1343.6 465.7,1343.8 465.8,1344.8 465.8,1345.6 465.8,1346.2 465.9,1346.9 465.9,1346.8 466.0,1348.0 466.0,1348.3 466.1,1349.1 466.1,1349.6 466.2,1350.1 466.2,1350.5 466.2,1351.1 466.3,1351.5 466.3,1353.7 466.4,1353.5 466.4,1353.8 466.5,1354.4 466.5,1354.7 466.6,1355.3 466.6,1356.3 466.7,1355.9 466.7,1357.7 466.7,1358.1 466.8,1358.2 466.8,1358.6 466.9,1359.8 466.9,1360.5 467.0,1361.0 467.0,1362.0 467.1,1364.7 467.1,1363.0 467.2,1363.4 467.2,1364.2 467.3,1364.8 467.3,1365.4 467.3,1365.9 467.4,1366.6 467.4,1367.4 467.5,1367.6 467.5,1367.7 467.5,1368.5 467.6,1369.6 467.6,1369.4 467.7,1369.9 467.7,1370.2 467.8,1371.0 467.8,1372.2 467.9,1372.6 467.9,1373.3 468.0,1374.5 468.0,1375.6 468.1,1376.7 468.1,1377.2 468.2,1377.4 468.2,1378.5 468.3,1379.0 468.3,1379.8 468.4,1379.7 468.4,1380.4 468.5,1380.5 468.5,1381.7 468.6,1381.6 468.6,1381.7 468.7,1381.6 468.8,1381.8 468.8,1381.6 468.9,1381.2 469.0,1381.0 469.0,1380.7 469.1,1380.1 469.2,1379.1 469.3,1379.2 469.3,1377.8 469.4,1377.5 469.5,1377.1 469.6,1376.3 469.7,1376.2 469.8,1374.8 469.8,1374.0 469.9,1372.9 470.0,1372.0 470.1,1371.4 470.2,1370.8 470.3,1370.5 470.3,1369.7 470.4,1368.9 470.4,1368.0 470.5,1368.3 470.5,1367.2 470.6,1366.7 470.6,1366.1 470.7,1365.6 470.7,1365.1 470.8,1364.5 470.8,1363.6 470.9,1363.4 470.9,1363.0 471.0,1362.2 471.0,1361.2 471.1,1360.3 471.2,1359.9 471.2,1359.1 471.3,1359.0 471.3,1358.0 471.4,1357.9 471.5,1356.8 471.5,1355.9 471.6,1355.9 471.7,1355.1 471.7,1354.4 471.8,1354.6 471.8,1352.9 471.9,1352.7 472.0,1352.3 472.1,1351.3 472.1,1351.1 472.2,1350.6 472.3,1350.1 472.4,1349.7 472.5,1348.8 472.6,1347.4 472.7,1347.3 472.8,1346.3 472.9,1345.6 473.0,1345.1 473.2,1344.7 473.3,1344.0 473.4,1343.2 473.5,1342.6 473.6,1342.2 473.8,1341.8 473.9,1341.0 474.0,1340.6 474.1,1340.2 474.2,1339.1 474.4,1338.5 474.5,1338.4 474.6,1338.0 474.7,1337.3 474.8,1336.3 475.0,1335.8 475.1,1336.5 475.2,1335.6 475.4,1334.6 475.6,1334.5 475.8,1333.1 476.0,1332.6 476.2,1331.8 476.4,1331.3 476.6,1331.1 476.8,1330.3 477.0,1329.5 477.2,1329.2 477.4,1328.9 477.6,1328.3 477.8,1328.2 478.0,1327.9 478.2,1327.5 478.7,1326.6 479.2,1326.3 479.7,1326.6 480.2,1325.5 480.7,1325.7 481.2,1325.7 481.6,1326.2 482.1,1326.1 482.5,1326.3 482.9,1326.2 483.3,1327.4 483.8,1327.8 484.3,1328.2 484.6,1329.4 484.8,1329.1 485.1,1330.0 485.4,1330.4 485.7,1330.2 486.0,1331.2 486.2,1331.9 486.5,1332.1 486.8,1332.7 487.1,1333.1 487.4,1333.0 487.7,1333.8 488.0,1334.5 488.3,1335.6 488.5,1336.2 488.8,1336.6 489.0,1336.5 489.2,1337.4 489.5,1338.3 489.7,1338.7 489.9,1338.9 490.2,1339.5 490.4,1340.0 490.7,1340.4 490.9,1341.5 491.1,1341.4 491.4,1342.9 491.6,1342.6 491.8,1343.4 492.1,1344.4 492.3,1344.9 492.5,1344.7 492.8,1345.2 493.0,1345.9 493.2,1346.2 493.5,1346.5 493.7,1347.4 493.9,1348.4 494.2,1348.4 494.4,1349.3 494.7,1349.9 494.9,1350.0 495.1,1350.3 495.4,1351.8 495.6,1351.7 495.8,1352.4 496.1,1353.0 496.3,1353.3 496.5,1353.8 496.7,1354.4 496.9,1355.8 497.1,1355.1 497.4,1355.8 497.6,1356.9 497.8,1357.9 498.0,1357.6 498.2,1358.4 498.4,1359.1 498.6,1359.3 498.8,1360.2 499.0,1360.9 499.2,1360.7 499.5,1361.6 499.7,1361.8 499.9,1363.4 500.1,1363.4 500.3,1363.7 500.6,1363.6 500.8,1364.7 501.1,1365.7 501.4,1366.2 501.6,1365.9 501.9,1366.7 502.2,1367.5 502.5,1368.0 502.7,1368.2 503.0,1368.8 503.3,1369.7 503.6,1369.8 503.8,1369.6 504.1,1370.5 504.4,1371.4 504.6,1370.9 504.8,1372.3 505.0,1372.1 505.2,1372.7 505.4,1373.2 505.6,1374.3 505.8,1375.0 506.0,1374.8 506.2,1375.5 506.4,1376.9 506.6,1377.7 506.8,1378.1 507.0,1378.5 507.3,1378.9 507.5,1379.1 507.7,1379.8 507.9,1380.5 508.1,1380.9 508.3,1381.7 508.5,1382.2 508.7,1382.5 508.9,1384.6 509.1,1384.2 509.4,1384.3 509.6,1385.1 509.8,1385.9 510.1,1386.1 510.3,1386.5 510.5,1387.4 510.8,1387.8 511.0,1388.0 511.2,1389.1 511.4,1388.9 511.7,1388.8 511.9,1389.8 512.1,1390.2 512.4,1391.0 512.6,1393.1 512.8,1392.6 513.1,1393.2 513.3,1393.4 513.5,1394.7 513.7,1394.0 513.9,1394.5 514.1,1395.5 514.3,1395.9 514.5,1396.8 514.7,1397.0 514.9,1397.4 515.1,1397.9 515.3,1398.9 515.5,1399.1 515.8,1399.4 516.0,1400.6 516.2,1401.2 516.4,1401.6 516.6,1402.2 516.8,1403.0 517.0,1403.5 517.2,1404.0 517.4,1404.9 517.6,1404.3 517.8,1406.1 518.1,1405.9 518.3,1406.8 518.6,1407.1 518.8,1408.2 519.1,1408.8 519.3,1409.3 519.6,1409.6 519.8,1410.0 520.1,1410.6 520.3,1411.3 520.6,1411.2 520.8,1412.2 521.1,1412.9 521.4,1413.3 521.6,1414.0 521.9,1414.2 522.2,1414.6 522.6,1415.4 523.0,1415.2 523.4,1415.8 523.8,1416.6 524.2,1417.0 524.7,1417.6 525.1,1418.6 525.5,1418.3 526.0,1419.2 526.4,1418.9 526.8,1418.8 527.3,1419.0 527.7,1419.3 528.0,1419.1 528.4,1418.6 528.8,1418.0 529.1,1418.3 529.5,1417.9 529.8,1417.6 530.2,1417.1 530.6,1416.2 530.9,1414.9 531.3,1415.0 531.6,1414.5 532.0,1413.7 532.3,1413.6 532.7,1413.0 533.0,1412.4 533.3,1412.1 533.8,1411.2 534.3,1410.9 534.8,1411.1 535.2,1410.7 535.7,1410.2 536.1,1409.7 536.6,1410.2 537.1,1409.5 537.7,1410.1 538.2,1410.3 538.7,1409.8 539.3,1410.2 539.8,1411.0 540.4,1410.8 541.0,1411.0 541.7,1411.0 542.3,1411.8 542.8,1412.6 543.4,1412.0 543.9,1412.1 544.4,1412.4 545.1,1412.1 545.7,1411.7 546.3,1411.9 546.8,1411.3 547.3,1410.4 547.8,1410.7 548.3,1411.5 548.8,1411.8 549.0,1412.5 549.2,1412.8 549.4,1412.5 549.6,1413.7 549.8,1414.0 550.0,1414.8 550.1,1415.8 550.3,1416.3 550.5,1417.7 550.7,1417.9 550.8,1418.7 551.0,1419.1 551.2,1419.9 551.3,1420.5 551.5,1420.9 551.7,1421.9 551.9,1421.4 552.0,1422.3 552.2,1421.9 552.4,1422.2 552.5,1421.6 552.7,1421.7 552.8,1421.4 553.0,1421.3 553.1,1420.5 553.3,1419.9 553.4,1418.5 553.6,1419.0 553.7,1418.2 553.9,1417.6 554.0,1416.6 554.2,1416.7 554.3,1415.5 554.5,1414.8 554.6,1414.0 554.8,1413.6 554.9,1412.0 555.1,1412.0 555.2,1411.2 555.4,1410.8 555.5,1409.8 555.6,1409.5 555.8,1408.8 555.9,1408.2 556.1,1407.4 556.2,1407.1 556.4,1406.1 556.5,1405.3 556.6,1405.7 556.8,1404.5 556.9,1403.9 557.1,1403.0 557.2,1402.1 557.4,1401.7 557.5,1400.7 557.6,1400.9 557.8,1400.1 557.9,1399.7 558.1,1398.8 558.2,1398.2 558.4,1397.2 558.5,1397.7 558.7,1397.0 558.8,1396.9 559.3,1395.4 559.7,1394.6 560.2,1394.7 560.7,1394.1 561.2,1394.5 561.7,1394.2 562.2,1394.4 562.5,1394.8 562.8,1394.8 563.1,1395.2 563.4,1395.1 563.7,1395.7 564.0,1396.5 564.3,1396.8 564.7,1396.9 565.0,1397.7 565.3,1398.3 565.6,1398.7 566.0,1399.8 566.3,1399.7 566.6,1401.1 566.8,1401.4 566.9,1401.8 567.1,1401.9 567.2,1402.7 567.4,1402.7 567.5,1404.1 567.7,1404.1 567.9,1404.7 568.0,1404.7 568.2,1405.2 568.3,1406.4 568.5,1407.0 568.6,1407.6 568.8,1407.9 569.0,1408.8 569.1,1409.6 569.3,1410.3 569.4,1410.8 569.6,1410.4 569.7,1412.0 569.9,1412.6 570.1,1412.4 570.2,1413.6 570.4,1414.4 570.5,1415.0 570.7,1416.4 570.8,1416.0 571.0,1417.3 571.2,1416.8 571.3,1418.2 571.5,1418.2 571.7,1418.3 571.8,1420.1 572.0,1419.9 572.2,1420.7 572.3,1420.9 572.5,1421.5 572.7,1422.2 572.8,1422.8 573.0,1423.6 573.2,1423.4 573.3,1424.8 573.5,1424.7 573.7,1425.6 573.8,1426.1 574.0,1426.5 574.2,1426.7 574.3,1430.0 574.5,1429.0 574.7,1429.1 574.8,1429.4 575.0,1429.6 575.2,1431.1 575.3,1431.4 575.5,1431.9 575.7,1432.1 575.8,1433.4 576.0,1434.0 576.1,1434.3 576.3,1435.3 576.4,1435.7 576.6,1436.1 576.7,1436.8 576.9,1437.4 577.0,1438.8 577.2,1438.5 577.3,1439.1 577.5,1439.2 577.6,1439.9 577.8,1441.1 577.9,1441.9 578.1,1441.6 578.2,1442.7 578.4,1442.8 578.5,1443.4 578.7,1444.3 578.8,1444.9 579.0,1445.3 579.1,1446.2 579.3,1446.8 579.4,1447.1 579.6,1447.6 579.7,1449.0 579.9,1449.1 580.1,1448.7 580.2,1449.6 580.4,1451.6 580.6,1450.3 580.8,1451.9 580.9,1452.8 581.1,1452.6 581.3,1453.2 581.5,1453.7 581.6,1457.6 581.8,1454.8 582.0,1455.8 582.1,1456.0 582.3,1456.4 582.5,1457.7 582.7,1458.1 582.8,1458.3 583.0,1459.0 583.2,1459.6 583.4,1460.7 583.5,1461.0 583.7,1461.0 583.9,1462.1 584.1,1462.2 584.2,1462.9 584.4,1463.1 584.6,1463.7 584.8,1464.1 585.0,1465.1 585.2,1465.7 585.4,1466.5 585.5,1466.1 585.7,1466.3 585.9,1467.3 586.1,1468.2 586.3,1467.6 586.5,1469.6 586.7,1468.9 586.8,1469.8 587.0,1470.8 587.2,1471.1 587.4,1472.8 587.6,1472.4 587.8,1472.3 588.0,1474.4 588.2,1474.6 588.4,1473.8 588.6,1475.0 588.8,1475.7 588.9,1477.1 589.1,1477.0 589.2,1477.7 589.4,1478.2 589.5,1478.0 589.7,1478.8 589.8,1479.2 590.0,1480.2 590.1,1481.3 590.3,1479.7 590.4,1480.7 590.6,1484.2 590.8,1483.4 590.9,1483.2 591.1,1484.6 591.2,1485.1 591.4,1485.6 591.5,1486.5 591.7,1487.3 591.9,1487.0 592.0,1488.2 592.2,1489.1 592.3,1489.2 592.5,1489.7 592.6,1490.3 592.8,1491.7 593.0,1492.4 593.1,1492.7 593.3,1493.4 593.4,1492.3 593.6,1494.4 593.7,1494.6 593.9,1496.0 594.1,1495.8 594.3,1496.7 594.5,1497.0 594.6,1496.8 594.8,1497.9 595.0,1498.5 595.2,1499.8 595.4,1500.1 595.6,1501.2 595.8,1502.4 596.0,1503.6 596.1,1502.9 596.3,1503.7 596.5,1505.7 596.7,1505.2 596.9,1505.1 597.1,1506.5 597.3,1506.8 597.4,1507.7 597.6,1508.3 597.8,1508.6 598.0,1508.1 598.2,1509.4 598.3,1509.7 598.5,1509.2 598.7,1509.0 598.8,1511.4 599.0,1511.0 599.3,1510.5 599.7,1509.4 600.0,1510.2 600.3,1516.9 600.6,1508.8 600.9,1508.1 601.2,1506.2 601.5,1507.1 601.7,1506.9 602.0,1506.0 602.3,1504.2 602.6,1504.6 602.9,1504.0 603.3,1503.8 603.7,1505.1 604.0,1505.1 604.4,1505.3 604.8,1505.0 605.2,1506.4 605.6,1506.9 605.9,1506.9 606.3,1506.1 606.7,1507.6 607.2,1507.8 607.6,1508.8 608.1,1510.4 608.6,1510.1 609.0,1510.5 609.5,1511.2 610.1,1509.7 610.6,1510.2 610.8,1509.4 610.9,1508.4 611.1,1508.8 611.3,1507.9 611.5,1508.9 611.6,1507.7 611.8,1508.0 612.0,1505.5 612.2,1507.5 612.3,1505.7 612.5,1505.5 612.7,1504.7 612.9,1503.4 613.1,1503.0 613.3,1502.5 613.5,1501.3 613.7,1500.1 613.9,1499.8 614.1,1499.8 614.3,1498.7 614.5,1499.2 614.7,1497.7 614.9,1497.0 615.1,1496.7 615.3,1495.7 615.5,1495.7 615.7,1494.9 616.0,1493.6 616.4,1493.2 616.8,1492.9 617.1,1493.2 617.5,1492.8 617.9,1492.0 618.3,1491.8 618.7,1490.8 619.1,1491.1 619.5,1489.9 619.9,1488.8 620.3,1489.1 620.6,1489.4 621.0,1488.2 621.4,1487.3 621.8,1487.5 622.1,1487.8 622.5,1486.7 622.8,1486.6 623.2,1484.8 623.5,1485.0 623.8,1485.7 624.1,1484.6 624.5,1484.3 624.8,1483.0 625.1,1482.9 625.4,1482.5 625.7,1482.5 626.0,1481.7 626.3,1481.5 626.7,1480.3 627.0,1480.1 627.3,1480.3 627.6,1479.0 627.9,1478.2 628.1,1479.4 628.4,1478.9 628.7,1478.9 629.0,1476.4 629.2,1477.2 629.5,1475.0 629.8,1474.5 630.0,1474.3 630.3,1473.9 630.6,1472.1 630.9,1473.0 631.2,1471.5 631.5,1471.5 631.8,1471.2 632.1,1470.8 632.4,1470.3 632.9,1469.5 633.3,1468.7 633.8,1468.5 634.3,1468.8 634.8,1467.8 635.3,1468.6 635.9,1467.5 636.4,1468.4 636.9,1468.2 637.4,1468.0 637.9,1467.3 638.3,1467.6 638.8,1466.0 639.4,1467.1 640.0,1466.2 640.6,1467.0 641.2,1466.6 641.8,1467.8 642.3,1468.6 642.9,1466.8 643.4,1466.9 644.0,1468.5 644.4,1469.0 644.8,1468.5 645.2,1469.8 645.5,1470.6 645.9,1469.9 646.3,1471.0 646.7,1470.9 647.0,1472.3 647.4,1472.0 647.8,1473.1 648.2,1473.9 648.7,1473.3 649.1,1473.2 649.6,1473.1 650.1,1473.8 650.7,1473.2 651.2,1474.1 651.8,1472.1 652.4,1472.2 652.9,1473.0 653.5,1472.3 654.0,1471.5 654.6,1469.5 655.1,1471.1 655.6,1469.5 656.1,1471.4 656.5,1472.8 657.0,1471.2 657.4,1472.4 657.8,1472.7 658.3,1473.8 658.7,1473.9 659.1,1473.4 659.5,1473.7 659.9,1475.9 660.3,1476.0 660.7,1475.9 660.9,1476.3 661.2,1476.6 661.4,1476.8 661.6,1477.6 661.8,1478.6 662.0,1478.2 662.3,1478.7 662.5,1479.4 662.7,1479.7 662.9,1480.6 663.1,1482.0 663.3,1481.6 663.5,1482.4 663.8,1482.9 664.0,1485.0 664.2,1484.6 664.4,1484.8 664.6,1485.6 664.8,1484.7 665.1,1486.8 665.3,1487.5 665.5,1487.3 665.7,1488.5 665.8,1489.8 666.0,1489.8 666.2,1489.9 666.4,1492.0 666.6,1491.8 666.8,1491.7 666.9,1490.9 667.1,1492.0 667.3,1493.1 667.5,1493.1 667.7,1493.4 667.9,1494.3 668.1,1494.4 668.3,1494.7 668.4,1496.6 668.6,1496.6 668.8,1498.1 669.0,1497.9 669.2,1499.0 669.4,1498.8 669.6,1502.2 669.7,1501.0 669.9,1500.4 670.1,1502.6 670.3,1503.5 670.4,1503.7 670.5,1504.1 670.7,1505.0 670.8,1504.7 670.9,1505.3 671.1,1505.9 671.2,1506.0 671.3,1506.8 671.5,1507.3 671.6,1508.5 671.7,1507.6 671.8,1508.5 672.0,1510.4 672.1,1510.1 672.2,1512.0 672.4,1511.3 672.5,1512.2 672.6,1514.7 672.8,1514.0 672.9,1514.6 673.0,1514.4 673.1,1514.3 673.3,1515.7 673.4,1516.3 673.5,1516.9 673.6,1516.3 673.8,1519.0 673.9,1518.9 674.0,1519.2 674.1,1520.5 674.2,1521.7 674.4,1521.8 674.5,1522.0 674.6,1522.2 674.7,1523.5 674.8,1523.6 674.9,1523.8 675.0,1525.0 675.1,1526.1 675.2,1525.2 675.3,1527.0 675.4,1527.3 675.5,1527.0 675.6,1528.6 675.7,1529.2 675.8,1530.5 675.9,1530.6 676.0,1531.0 676.1,1531.8 676.2,1532.3 676.3,1533.8 676.4,1533.5 676.4,1532.6 676.5,1534.3 676.6,1536.3 676.7,1534.8 676.7,1534.7 676.8,1535.7 676.9,1535.9 677.0,1537.7 677.0,1537.6 677.1,1539.0 677.2,1540.5 677.3,1539.3 677.3,1541.4 677.4,1542.1 677.5,1541.2 677.6,1541.0 677.7,1542.5 677.7,1544.5 677.8,1543.8 677.9,1543.2 678.0,1547.2 678.1,1544.2 678.2,1546.1 678.3,1546.7 678.4,1547.3 678.5,1547.5 678.6,1547.7 678.7,1549.9 678.7,1549.5 678.8,1551.0 678.9,1549.8 679.0,1549.7 679.1,1552.7 679.2,1552.4 679.3,1552.9 679.4,1553.5 679.5,1554.5 679.6,1555.1 679.7,1555.1 679.8,1555.5 679.9,1555.8 680.0,1556.8 680.1,1557.0 680.2,1558.3 680.3,1559.0 680.4,1559.6 680.5,1559.8 680.6,1558.8 680.7,1561.7 680.8,1562.5 680.9,1563.4 681.0,1562.6 681.1,1562.8 681.2,1565.0 681.3,1565.4 681.4,1565.4 681.5,1566.3 681.6,1566.2 681.7,1567.0 681.8,1568.5 681.9,1568.7 682.0,1568.7 682.1,1568.9 682.2,1570.4 682.3,1569.5 682.4,1572.1 682.5,1571.6 682.6,1572.6 682.7,1573.1 682.8,1573.3 682.9,1573.9 683.0,1575.0 683.1,1576.2 683.2,1576.3 683.3,1576.4 683.4,1577.2 683.5,1576.6 683.6,1578.5 683.7,1578.2 683.8,1579.8 683.9,1580.9 683.9,1580.1 684.0,1582.5 684.1,1582.5 684.2,1581.9 684.3,1582.0 684.4,1582.9 684.5,1583.8 684.6,1585.0 684.7,1585.6 684.8,1585.9 684.9,1586.9 685.0,1587.9 685.2,1588.5 685.3,1588.6 685.4,1588.2 685.5,1588.3 685.6,1591.5 685.7,1589.6 685.8,1591.2 685.9,1591.8 686.0,1593.6 686.1,1593.9 686.2,1595.2 686.3,1593.3 686.4,1595.2 686.5,1594.1 686.6,1596.0 686.7,1596.1 686.8,1595.7 686.9,1597.7 687.0,1597.8 687.1,1598.4 687.1,1600.7 687.2,1603.9 687.3,1598.5 687.4,1600.7 687.5,1600.9 687.6,1601.2 687.7,1602.7 687.7,1603.4 687.8,1604.2 687.9,1604.2 688.0,1605.6 688.0,1605.6 688.1,1607.0 688.2,1606.8 688.2,1607.5 688.3,1608.0 688.3,1608.1 688.4,1609.3 688.5,1610.1 688.5,1610.9 688.6,1611.3 688.6,1611.7 688.7,1612.9 688.7,1611.7 688.8,1612.3 688.9,1613.3 688.9,1614.9 689.0,1614.3 689.0,1614.7 689.1,1615.0 689.1,1617.5 689.2,1617.1 689.2,1616.4 689.3,1618.8 689.3,1619.1 689.4,1619.3 689.4,1619.8 689.4,1619.9 689.5,1620.5 689.5,1622.6 689.6,1622.1 689.6,1622.0 689.7,1622.5 689.7,1625.0 689.8,1624.3 689.8,1624.6" fill="none" stroke="#ff14f0" stroke-width="2.8" stroke-linejoin="round"/>
<polyline points="127.5,1543.7 127.7,1543.0 127.9,1543.2 128.1,1542.8 128.3,1541.7 128.5,1544.8 128.7,1538.6 128.8,1545.9 129.0,1540.9 129.2,1539.4 129.3,1535.0 129.3,1539.1 129.4,1539.6 129.4,1534.7 129.5,1534.6 129.5,1534.9 129.6,1533.8 129.6,1537.5 129.7,1535.2 129.7,1531.7 129.7,1533.1 129.8,1531.6 129.8,1533.8 129.9,1529.6 129.9,1528.8 130.0,1535.7 130.0,1534.0 130.1,1534.6 130.1,1531.0 130.2,1533.7 130.2,1526.6 130.2,1533.8 130.3,1524.3 130.3,1531.3 130.4,1530.3 130.4,1523.8 130.5,1530.4 130.6,1522.1 130.6,1529.4 130.7,1520.2 130.7,1523.9 130.8,1524.8 130.9,1524.5 130.9,1520.8 131.0,1520.6 131.1,1514.5 131.1,1522.1 131.2,1519.0 131.2,1514.2 131.3,1525.3 131.4,1514.8 131.4,1519.0 131.5,1517.0 131.6,1516.0 131.6,1518.3 131.7,1511.3 131.8,1518.4 131.8,1523.6 131.9,1517.3 132.0,1519.3 132.0,1512.3 132.1,1512.4 132.2,1513.1 132.3,1509.0 132.4,1508.9 132.5,1506.3 132.6,1509.5 132.7,1505.2 132.8,1504.4 132.8,1504.9 132.9,1502.9 133.0,1507.0 133.1,1502.0 133.2,1504.7 133.3,1504.5 133.4,1507.3 133.5,1498.0 133.6,1505.6 133.7,1497.0 133.8,1497.2 133.8,1500.8 133.9,1500.3 134.0,1500.5 134.1,1499.4 134.1,1493.8 134.2,1495.0 134.3,1496.2 134.4,1491.0 134.4,1491.6 134.5,1495.9 134.6,1491.7 134.7,1494.3 134.7,1492.2 134.8,1491.4 134.9,1493.3 135.0,1492.8 135.1,1490.2 135.1,1488.7 135.2,1490.6 135.3,1488.8 135.4,1490.1 135.5,1488.2 135.6,1484.2 135.7,1498.8 135.8,1483.6 135.9,1486.4 136.1,1481.8 136.2,1483.8 136.3,1485.6 136.4,1487.7 136.5,1486.3 136.7,1483.1 136.8,1480.0 136.9,1480.8 137.0,1476.4 137.1,1480.1 137.3,1481.2 137.4,1475.3 137.5,1476.9 137.6,1473.4 137.7,1476.6 137.8,1471.3 137.9,1473.5 138.0,1473.3 138.1,1478.3 138.2,1472.8 138.3,1474.6 138.4,1472.2 138.5,1468.6 138.6,1470.6 138.7,1468.3 138.8,1469.3 138.9,1472.3 139.1,1466.9 139.2,1468.0 139.3,1466.6 139.5,1466.5 139.6,1466.0 139.7,1465.9 139.8,1463.9 139.9,1462.8 140.0,1464.9 140.1,1463.6 140.2,1463.8 140.3,1461.2 140.4,1461.5 140.6,1461.4 140.7,1460.6 140.8,1459.6 140.9,1460.1 141.0,1461.0 141.2,1459.0 141.3,1458.0 141.4,1457.9 141.6,1453.6 141.7,1455.9 141.8,1459.1 142.0,1455.0 142.1,1451.4 142.3,1453.0 142.4,1462.1 142.6,1451.7 142.7,1450.3 142.9,1451.2 143.0,1451.3 143.2,1449.9 143.4,1449.5 143.5,1447.7 143.7,1448.5 143.9,1447.1 144.0,1446.8 144.2,1445.7 144.4,1447.8 144.6,1447.9 144.7,1443.5 144.9,1449.9 145.1,1444.3 145.3,1445.3 145.5,1452.1 145.7,1441.2 145.9,1443.2 146.1,1441.8 146.3,1439.8 146.5,1438.5 146.7,1443.6 146.9,1439.7 147.1,1440.4 147.2,1436.6 147.4,1437.2 147.6,1437.4 147.8,1434.6 148.0,1434.7 148.2,1434.0 148.4,1434.7 148.6,1434.2 148.8,1433.4 149.0,1431.9 149.2,1431.9 149.5,1430.5 149.7,1431.5 149.9,1430.5 150.1,1428.6 150.3,1430.4 150.5,1429.1 150.8,1429.7 151.0,1428.2 151.2,1427.0 151.4,1425.7 151.7,1425.5 151.9,1426.3 152.1,1424.7 152.3,1423.8 152.5,1422.9 152.8,1423.1 153.0,1423.6 153.2,1422.5 153.4,1419.7 153.6,1422.0 153.8,1421.8 154.1,1419.8 154.3,1419.4 154.5,1420.1 154.9,1417.8 155.2,1416.1 155.5,1416.9 155.9,1416.6 156.2,1415.6 156.5,1414.8 156.9,1415.8 157.2,1413.8 157.6,1416.3 157.9,1418.1 158.2,1414.5 158.6,1414.8 159.0,1412.9 159.3,1413.8 159.7,1410.7 160.1,1412.6 160.6,1412.7 161.1,1411.6 161.6,1412.0 162.2,1408.8 162.7,1412.0 163.2,1408.7 163.8,1408.9 164.3,1411.0 164.9,1408.7 165.5,1409.4 166.0,1409.0 166.6,1409.9 167.1,1408.6 167.7,1410.1 168.3,1409.8 168.8,1410.1 169.4,1414.6 170.0,1407.7 170.6,1408.3 171.2,1409.9 171.8,1409.6 172.3,1409.3 172.9,1410.5 173.5,1409.9 174.1,1410.0 174.6,1408.9 175.2,1409.0 175.7,1408.8 176.3,1408.7 176.8,1409.4 177.3,1409.9 177.9,1411.1 178.4,1410.4 178.9,1410.3 179.5,1409.7 180.0,1412.7 180.6,1411.1 181.1,1412.7 181.5,1413.4 182.0,1411.6 182.4,1412.9 182.8,1413.2 183.3,1413.2 183.7,1414.1 184.2,1414.4 184.6,1414.9 185.0,1416.1 185.5,1415.8 185.9,1415.7 186.3,1417.2 186.8,1415.9 187.2,1419.6 187.7,1416.6 188.1,1419.2 188.6,1416.8 189.1,1418.0 189.6,1419.2 190.2,1419.3 190.7,1417.3 191.2,1419.0 191.7,1419.8 192.2,1420.7 192.8,1419.9 193.3,1421.8 193.7,1420.4 194.2,1421.3 194.7,1422.9 195.1,1421.8 195.5,1424.2 195.8,1421.7 196.2,1425.0 196.5,1423.1 196.9,1426.5 197.2,1424.9 197.5,1427.8 197.8,1424.8 198.1,1426.4 198.4,1425.5 198.7,1429.5 199.0,1429.5 199.2,1430.1 199.5,1430.5 199.8,1428.5 200.0,1429.3 200.5,1432.1 200.8,1430.2 201.2,1432.4 201.5,1431.4 201.8,1432.7 202.1,1432.0 202.5,1433.7 202.8,1434.7 203.1,1434.4 203.3,1434.5 203.6,1435.6 203.8,1436.4 204.1,1436.5 204.4,1438.4 204.6,1435.5 204.9,1439.0 205.1,1439.2 205.4,1438.6 205.6,1440.5 205.8,1441.2 206.0,1441.1 206.2,1441.2 206.4,1442.8 206.6,1441.7 206.8,1443.7 206.9,1442.5 207.1,1444.9 207.3,1445.4 207.5,1445.0 207.7,1445.6 207.9,1447.7 208.2,1448.0 208.5,1446.3 208.7,1449.1 209.0,1448.6 209.3,1448.3 209.6,1449.6 209.9,1449.5 210.3,1449.3 210.7,1450.9 211.1,1453.4 211.6,1451.7 212.1,1451.7 212.7,1452.1 213.2,1453.6 213.8,1452.0 214.4,1453.3 214.9,1453.1 215.4,1453.9 215.8,1452.9 216.1,1452.6 216.5,1452.2 216.9,1451.6 217.2,1452.2 217.6,1450.1 217.9,1447.9 218.2,1449.0 218.6,1448.6 218.9,1448.5 219.3,1448.5 219.6,1447.4 220.0,1446.2 220.5,1450.9 220.9,1445.5 221.4,1444.8 221.8,1445.0 222.2,1446.4 222.6,1444.6 223.0,1444.8 223.4,1445.1 223.6,1443.4 223.8,1443.5 224.0,1442.5 224.1,1440.8 224.3,1439.3 224.5,1440.2 224.6,1440.3 224.8,1438.7 224.9,1438.2 225.1,1441.5 225.3,1436.6 225.4,1437.3 225.6,1436.3 225.7,1435.7 225.9,1436.6 226.0,1434.9 226.2,1434.2 226.4,1435.2 226.5,1432.8 226.7,1432.4 226.9,1431.6 227.0,1430.6 227.2,1430.0 227.4,1429.8 227.6,1429.7 227.7,1430.3 227.9,1428.6 228.1,1427.0 228.2,1426.4 228.4,1425.0 228.5,1426.6 228.7,1425.3 228.9,1425.8 229.0,1424.6 229.2,1423.9 229.4,1423.9 229.6,1424.4 229.7,1425.3 229.9,1420.7 230.0,1420.4 230.2,1421.1 230.4,1420.2 230.6,1421.5 230.8,1420.7 231.1,1418.9 231.4,1417.5 231.7,1418.6 232.0,1418.0 232.3,1416.5 232.7,1417.3 233.0,1414.8 233.4,1414.7 233.8,1414.9 234.1,1413.7 234.5,1415.9 234.9,1413.6 235.2,1412.0 235.5,1411.7 235.7,1413.2 236.0,1411.7 236.2,1411.4 236.5,1411.7 236.7,1409.0 237.0,1411.9 237.2,1408.9 237.5,1409.2 237.7,1407.8 238.0,1408.0 238.2,1406.3 238.5,1407.0 238.7,1406.2 239.0,1406.2 239.2,1405.7 239.7,1405.5 240.2,1403.7 240.7,1405.1 241.2,1404.1 241.7,1403.7 242.2,1404.2 242.7,1403.3 243.2,1403.8 243.5,1402.0 243.8,1401.8 244.1,1402.9 244.5,1403.0 244.8,1400.5 245.1,1400.3 245.4,1400.5 245.7,1399.3 246.0,1398.9 246.4,1400.1 246.7,1397.9 247.0,1398.3 247.3,1398.2 247.6,1396.7 248.0,1398.1 248.3,1394.9 248.6,1394.9 249.0,1394.6 249.3,1393.3 249.6,1393.1 250.0,1393.5 250.3,1394.9 250.6,1392.2 251.0,1392.9 251.3,1392.1 251.7,1390.6 252.1,1390.5 252.5,1390.1 252.9,1391.1 253.3,1389.1 253.7,1389.9 254.1,1389.6 254.5,1388.4 254.9,1389.4 255.3,1387.1 255.5,1388.3 255.8,1386.6 256.0,1387.1 256.2,1385.8 256.4,1383.7 256.7,1384.8 256.9,1384.5 257.1,1386.1 257.3,1383.6 257.6,1382.0 257.8,1382.9 258.0,1381.7 258.3,1381.5 258.5,1380.8 258.7,1379.4 258.9,1380.1 259.2,1377.4 259.4,1378.3 259.8,1376.7 260.2,1377.6 260.6,1376.9 260.9,1380.2 261.3,1376.1 261.7,1374.9 262.1,1375.3 262.5,1374.7 262.9,1374.4 263.4,1374.8 263.9,1378.8 264.4,1375.3 265.0,1373.1 265.5,1373.4 266.1,1372.6 266.7,1373.2 267.2,1374.0 267.8,1374.3 268.3,1376.9 268.8,1373.1 269.1,1372.7 269.4,1373.6 269.7,1372.3 270.0,1371.5 270.3,1371.2 270.5,1370.1 270.8,1369.7 271.1,1367.7 271.3,1367.0 271.6,1367.9 271.9,1367.8 272.2,1366.2 272.5,1366.3 272.8,1366.2 273.2,1366.9 273.7,1366.2 274.2,1366.8 274.7,1366.0 275.2,1367.2 275.8,1368.0 276.3,1367.9 276.8,1367.4 277.3,1368.8 277.8,1369.2 278.2,1369.0 278.6,1368.7 279.0,1367.3 279.4,1367.9 279.8,1367.0 280.2,1367.2 280.5,1367.4 280.9,1366.1 281.2,1365.5 281.6,1364.6 281.9,1364.3 282.2,1364.0 282.8,1362.6 283.4,1363.2 283.9,1364.3 284.4,1363.3 285.0,1364.5 285.3,1365.5 285.7,1367.2 286.0,1366.4 286.3,1368.1 286.7,1367.7 287.0,1367.8 287.3,1368.8 287.7,1370.0 288.0,1369.8 288.4,1369.0 288.8,1369.3 289.1,1368.4 289.5,1366.8 289.9,1366.6 290.2,1366.9 290.6,1366.7 291.0,1367.1 291.4,1366.4 291.8,1365.8 292.2,1364.1 292.6,1363.6 293.0,1365.0 293.5,1363.5 294.0,1364.2 294.4,1363.7 294.9,1365.1 295.4,1365.3 295.9,1363.8 296.4,1365.1 297.0,1365.1 297.4,1365.5 297.9,1366.4 298.3,1367.6 298.9,1366.4 299.3,1367.2 299.7,1365.9 300.1,1367.7 300.7,1366.0 301.0,1365.2 301.2,1365.0 301.5,1364.7 301.9,1364.0 302.2,1363.9 302.5,1363.9 302.9,1363.4 303.2,1361.6 303.5,1361.1 303.9,1361.4 304.2,1360.6 304.6,1359.5 304.9,1360.8 305.4,1359.3 306.0,1360.7 306.5,1359.9 307.0,1361.7 307.6,1362.0 308.1,1360.9 308.6,1359.8 309.1,1361.0 309.6,1361.2 310.2,1360.9 310.7,1359.4 311.2,1360.2 311.7,1360.1 312.2,1358.5 312.7,1359.8 313.0,1359.9 313.3,1359.5 313.5,1360.0 313.8,1359.7 314.1,1361.9 314.4,1361.3 314.7,1361.6 315.0,1363.1 315.2,1364.1 315.5,1364.2 315.8,1364.9 316.0,1365.5 316.3,1365.6 316.8,1365.7 317.2,1367.4 317.6,1366.7 318.1,1366.4 318.5,1367.6 318.9,1368.1 319.3,1366.6 319.7,1368.4 320.0,1370.1 320.4,1368.4 320.7,1370.1 321.0,1370.4 321.4,1372.0 321.7,1371.2 322.0,1370.9 322.2,1372.6 322.4,1370.7 322.6,1370.7 322.8,1369.9 323.0,1369.7 323.2,1368.8 323.4,1367.4 323.6,1367.2 323.8,1367.2 324.0,1365.3 324.2,1366.9 324.7,1364.1 325.1,1364.4 325.6,1366.3 326.2,1364.7 326.7,1364.4 327.2,1364.8 327.5,1363.3 327.9,1364.1 328.2,1362.4 328.6,1363.5 328.9,1363.4 329.2,1362.9 329.6,1361.6 329.9,1360.9 330.2,1359.7 330.4,1359.9 330.5,1358.8 330.7,1357.8 330.9,1358.5 331.0,1357.8 331.2,1356.5 331.3,1357.0 331.5,1355.9 331.6,1354.8 331.8,1355.1 331.9,1354.9 332.1,1354.0 332.2,1354.2 332.3,1352.4 332.5,1352.1 332.6,1352.1 332.7,1351.1 332.8,1351.1 332.9,1349.4 333.0,1348.9 333.1,1347.2 333.1,1348.4 333.2,1347.7 333.3,1346.9 333.4,1345.5 333.5,1345.0 333.5,1344.9 333.6,1344.7 333.7,1343.1 333.8,1342.2 333.9,1342.7 333.9,1341.2 334.0,1340.8 334.1,1340.5 334.2,1339.1 334.3,1338.9 334.4,1338.4 334.6,1338.4 334.9,1336.9 335.1,1338.0 335.4,1334.8 335.7,1335.8 335.9,1336.5 336.2,1335.4 336.5,1334.4 336.8,1333.5 337.2,1333.6 337.6,1332.8 338.0,1333.3 338.5,1332.8 338.9,1333.8 339.4,1331.6 339.8,1331.0 340.0,1332.1 340.1,1331.0 340.3,1330.7 340.5,1330.5 340.6,1328.7 340.8,1330.3 341.0,1328.5 341.2,1327.7 341.3,1327.9 341.5,1327.0 341.7,1329.7 341.9,1324.6 342.0,1325.3 342.2,1325.1 342.4,1323.5 342.6,1322.4 342.7,1322.3 342.9,1321.4 343.1,1321.8 343.3,1319.6 343.5,1319.7 343.7,1319.5 343.9,1320.1 344.1,1318.8 344.3,1318.0 344.5,1317.4 344.7,1317.5 344.9,1315.6 345.1,1315.7 345.4,1314.2 345.6,1313.5 345.8,1313.3 346.0,1313.7 346.2,1313.3 346.4,1312.0 346.6,1312.5 347.0,1313.0 347.4,1312.2 347.7,1312.5 348.1,1315.4 348.5,1314.4 348.9,1315.8 349.3,1316.0 349.7,1316.8 350.1,1315.6 350.2,1315.4 350.4,1315.0 350.5,1314.2 350.7,1314.8 350.8,1315.0 350.9,1313.0 351.1,1313.3 351.2,1312.3 351.4,1311.7 351.5,1310.7 351.6,1310.4 351.8,1308.6 351.9,1308.2 352.1,1308.0 352.2,1306.8 352.4,1307.4 352.5,1306.2 352.7,1304.4 352.8,1304.6 353.0,1303.5 353.1,1302.5 353.3,1301.3 353.4,1301.7 353.6,1301.2 353.8,1300.2 353.9,1302.5 354.1,1299.7 354.6,1298.4 355.1,1299.7 355.7,1299.3 356.2,1299.0 356.7,1301.1 357.3,1301.0 357.9,1300.0 358.5,1301.0 359.1,1300.6 359.4,1300.3 359.8,1300.3 360.1,1299.6 360.5,1298.6 360.8,1298.4 361.2,1298.2 361.6,1298.0 362.0,1297.8 362.3,1297.3 362.7,1294.6 363.1,1295.0 363.5,1296.5 363.8,1293.7 364.2,1294.2 364.5,1294.0 364.9,1292.7 365.2,1292.6 365.8,1292.8 366.4,1292.1 367.1,1292.3 367.7,1292.5 368.2,1292.1 368.8,1293.6 369.3,1291.8 369.8,1291.5 370.2,1290.7 370.4,1291.8 370.6,1291.6 370.7,1290.2 370.8,1290.4 371.0,1289.6 371.1,1288.8 371.2,1288.5 371.3,1287.4 371.4,1286.8 371.5,1285.9 371.6,1284.5 371.6,1284.9 371.7,1284.8 371.8,1284.8 371.9,1282.1 372.0,1283.1 372.1,1281.3 372.2,1280.3 372.3,1281.9 372.4,1280.4 372.5,1279.5 372.6,1278.3 372.7,1277.6 372.8,1276.7 372.9,1277.1 373.0,1277.2 373.1,1275.3 373.2,1275.1 373.3,1273.6 373.4,1273.0 373.5,1272.9 373.6,1272.2 373.7,1271.6 373.8,1272.3 373.9,1270.4 374.1,1271.0 374.2,1270.1 374.6,1269.5 375.1,1269.1 375.6,1269.4 376.2,1269.8 376.7,1270.3 377.2,1269.3 377.4,1267.7 377.6,1268.1 377.8,1268.5 378.0,1267.1 378.2,1267.5 378.4,1264.3 378.6,1264.2 378.8,1265.5 379.0,1263.0 379.2,1263.1 379.4,1263.9 379.6,1262.1 379.8,1262.4 380.0,1260.9 380.2,1261.2 380.6,1260.4 380.9,1261.6 381.3,1262.2 381.6,1263.5 381.9,1263.5 382.3,1263.7 382.7,1265.2 382.9,1263.3 383.2,1263.2 383.4,1263.0 383.7,1262.4 383.9,1262.2 384.2,1259.9 384.5,1260.6 384.8,1260.5 385.0,1259.4 385.3,1257.8 385.6,1258.1 385.9,1257.8 386.2,1257.5 386.6,1256.3 387.1,1256.2 387.5,1255.8 388.0,1255.4 388.5,1253.8 389.0,1253.6 389.4,1254.2 389.9,1253.6 390.3,1254.7 390.7,1253.8 391.1,1254.9 391.5,1254.8 391.9,1256.0 392.3,1256.7 392.7,1257.3 393.1,1257.0 393.4,1257.6 393.8,1257.9 394.0,1257.7 394.1,1257.0 394.3,1257.2 394.4,1256.8 394.6,1255.1 394.7,1255.5 394.9,1255.0 395.0,1254.1 395.2,1252.6 395.3,1252.7 395.4,1251.6 395.6,1250.6 395.7,1249.7 395.9,1248.9 396.0,1249.0 396.2,1247.2 396.3,1248.4 396.5,1246.4 396.6,1245.3 396.8,1247.1 397.2,1244.6 397.5,1244.2 397.9,1243.7 398.3,1243.4 398.7,1243.4 399.1,1243.5 399.5,1242.9 399.9,1242.6 400.3,1242.8 400.8,1242.8 401.3,1243.2 401.8,1243.4 402.3,1243.2 402.8,1243.7 403.3,1243.3 403.8,1244.3 404.3,1243.1 404.7,1243.2 405.0,1243.8 405.4,1243.4 405.8,1242.6 406.2,1242.4 406.5,1241.1 406.9,1240.8 407.3,1240.5 407.6,1240.0 408.0,1239.9 408.3,1239.7 408.6,1238.8 408.9,1239.9 409.2,1240.2 409.4,1240.4 409.7,1241.9 409.9,1243.1 410.2,1242.4 410.4,1244.7 410.7,1244.5 411.0,1244.5 411.3,1249.4 411.8,1245.1 412.2,1245.6 412.8,1245.0 413.3,1245.3 413.8,1244.9 414.4,1246.1 414.9,1245.9 415.4,1244.8 415.7,1246.0 416.0,1246.8 416.4,1247.7 416.7,1246.8 417.0,1248.4 417.3,1249.3 417.7,1249.9 418.0,1249.6 418.3,1250.7 418.6,1250.3 418.9,1251.5 419.1,1253.4 419.4,1252.9 419.9,1253.2 420.3,1253.5 420.7,1254.1 421.1,1254.8 421.5,1255.1 421.9,1254.5 422.3,1254.4 422.7,1253.5 423.2,1253.5 423.6,1253.2 424.1,1252.3 424.6,1251.3 425.0,1251.9 425.4,1252.7 425.8,1252.1 426.1,1252.5 426.5,1252.2 426.9,1252.2 427.3,1254.1 427.6,1252.7 428.0,1254.9 428.1,1256.4 428.2,1256.3 428.3,1256.9 428.4,1256.1 428.5,1257.0 428.6,1256.9 428.7,1258.5 428.9,1258.9 429.0,1259.9 429.1,1259.9 429.2,1262.0 429.3,1261.6 429.4,1262.7 429.5,1264.1 429.6,1264.2 429.7,1265.1 429.8,1265.0 429.9,1267.3 430.0,1267.7 430.1,1267.8 430.2,1268.5 430.4,1270.7 430.5,1268.9 430.6,1270.1 430.7,1269.7 430.8,1270.5 430.9,1271.4 431.0,1271.6 431.4,1271.3 431.9,1271.8 432.3,1271.5 432.7,1270.9 433.1,1269.8 433.6,1269.6 434.1,1269.6 434.5,1269.6 434.8,1269.5 435.2,1269.7 435.6,1270.6 436.0,1271.0 436.5,1271.5 436.9,1271.3 437.3,1272.4 437.7,1273.2 438.1,1273.7 438.5,1273.4 439.0,1274.6 439.4,1274.2 439.8,1274.6 440.3,1276.2 440.7,1275.6 441.1,1275.7 441.6,1276.9 442.1,1276.3 442.5,1276.5 443.0,1277.1 443.4,1277.1 443.9,1276.8 444.4,1278.6 444.8,1278.8 445.3,1279.2 445.8,1279.2 446.2,1279.6 446.7,1280.3 447.1,1279.7 447.7,1280.1 448.3,1280.9 448.9,1279.1 449.5,1280.2 450.1,1279.1 450.6,1279.3 451.1,1278.7 451.3,1279.0 451.6,1279.1 451.8,1282.7 452.0,1280.7 452.2,1280.8 452.4,1281.7 452.6,1282.6 452.8,1283.0 452.9,1284.2 453.1,1284.9 453.3,1285.1 453.5,1286.1 453.7,1285.4 453.9,1287.0 454.1,1287.1 454.3,1287.8 454.5,1288.3 454.7,1288.8 454.9,1290.4 455.1,1290.0 455.3,1289.5 455.5,1291.4 455.7,1292.1 455.9,1291.8 456.1,1291.9 456.3,1293.6 456.5,1293.9 456.7,1293.9 456.9,1294.9 457.1,1295.4 457.3,1295.9 457.5,1296.5 457.7,1296.9 457.9,1297.4 458.1,1297.6 458.4,1298.3 458.6,1299.4 458.8,1298.4 459.0,1300.1 459.2,1300.2 459.4,1300.8 459.6,1301.5 459.8,1301.7 460.0,1302.4 460.2,1303.0 460.4,1304.1 460.5,1304.6 460.7,1305.7 460.8,1305.5 461.0,1306.3 461.1,1306.7 461.2,1307.7 461.4,1305.6 461.5,1307.7 461.7,1308.8 461.8,1308.1 461.9,1308.9 462.1,1310.4 462.2,1311.2 462.3,1311.4 462.4,1312.8 462.6,1313.5 462.7,1313.3 462.8,1315.2 462.9,1314.6 463.0,1315.2 463.0,1315.1 463.1,1315.5 463.2,1315.8 463.3,1317.6 463.4,1318.0 463.4,1317.7 463.5,1317.8 463.6,1319.1 463.7,1320.1 463.8,1320.9 463.8,1321.1 463.9,1321.0 464.0,1322.1 464.1,1323.3 464.1,1323.0 464.2,1323.8 464.3,1326.0 464.4,1325.5 464.4,1326.2 464.5,1326.2 464.6,1326.7 464.6,1328.3 464.7,1328.5 464.8,1329.3 464.8,1329.8 464.9,1330.5 464.9,1330.8 465.0,1331.8 465.0,1331.6 465.1,1331.7 465.1,1332.7 465.2,1333.6 465.3,1334.2 465.3,1335.3 465.4,1335.8 465.4,1335.6 465.5,1337.3 465.5,1336.1 465.6,1339.5 465.6,1338.3 465.7,1339.3 465.7,1340.3 465.8,1340.3 465.8,1340.9 465.8,1340.9 465.9,1342.3 465.9,1343.3 466.0,1343.0 466.0,1344.3 466.1,1343.7 466.1,1345.1 466.2,1344.2 466.3,1346.1 466.3,1346.6 466.4,1347.3 466.4,1348.3 466.5,1348.1 466.5,1350.1 466.6,1349.2 466.7,1350.0 466.7,1350.6 466.8,1352.0 466.8,1352.2 466.9,1353.2 466.9,1353.8 467.0,1353.8 467.1,1354.6 467.1,1355.2 467.2,1356.5 467.2,1356.8 467.3,1356.9 467.4,1356.9 467.4,1357.3 467.5,1358.1 467.5,1358.2 467.6,1358.8 467.6,1358.6 467.7,1361.0 467.8,1361.4 467.9,1363.3 468.0,1362.2 468.1,1363.8 468.2,1364.1 468.3,1365.3 468.4,1365.7 468.5,1367.0 468.6,1367.5 468.7,1367.0 468.8,1368.4 468.9,1368.3 469.0,1369.3 469.2,1368.9 469.4,1368.6 469.7,1368.2 470.0,1368.4 470.3,1367.3 470.6,1367.0 470.9,1367.4 471.3,1364.7 471.6,1366.1 471.9,1364.3 472.2,1362.4 472.3,1362.2 472.5,1362.2 472.6,1362.9 472.8,1362.2 472.9,1361.5 473.1,1361.4 473.2,1360.1 473.4,1358.3 473.6,1359.3 473.7,1358.5 473.8,1357.3 474.0,1356.6 474.1,1357.3 474.3,1356.2 474.4,1354.8 474.6,1354.2 474.8,1354.9 474.9,1355.1 475.1,1351.9 475.2,1352.8 475.3,1351.5 475.5,1352.2 475.6,1350.7 475.8,1353.6 475.9,1350.0 476.1,1348.8 476.2,1348.8 476.4,1347.9 476.6,1346.3 476.7,1348.0 476.8,1345.1 477.0,1346.2 477.1,1344.5 477.3,1343.3 477.4,1344.3 477.6,1342.8 477.8,1344.2 477.9,1341.7 478.1,1340.7 478.2,1342.9 478.6,1341.0 479.0,1340.3 479.4,1338.9 479.8,1339.6 480.3,1340.8 480.7,1340.5 481.2,1339.5 481.6,1339.4 482.0,1339.5 482.5,1339.8 483.0,1340.4 483.4,1342.0 483.9,1342.2 484.4,1343.1 484.8,1342.2 485.3,1342.6 485.6,1342.4 485.9,1342.5 486.2,1342.2 486.5,1340.2 486.8,1340.6 487.2,1339.0 487.5,1338.4 487.8,1338.3 488.1,1337.8 488.4,1336.7 488.7,1336.6 489.0,1338.1 489.3,1335.8 489.7,1335.9 490.0,1336.8 490.4,1337.1 490.8,1337.9 491.2,1338.1 491.5,1339.5 491.9,1339.3 492.3,1340.3 492.6,1340.7 493.0,1341.7 493.3,1342.1 493.8,1341.7 494.3,1342.3 494.8,1342.1 495.3,1341.1 495.8,1341.4 496.3,1342.4 496.7,1342.3 497.0,1343.0 497.4,1344.4 497.8,1343.8 498.2,1344.7 498.6,1344.2 499.1,1345.0 499.5,1346.8 499.9,1346.0 500.3,1347.0 500.7,1347.0 501.2,1347.5 501.6,1348.6 502.1,1348.0 502.5,1348.6 503.0,1349.0 503.5,1349.2 503.9,1348.8 504.4,1348.2 504.8,1350.1 505.1,1350.0 505.5,1351.3 505.9,1350.8 506.3,1351.5 506.6,1351.8 507.0,1353.7 507.4,1353.5 507.8,1352.9 508.2,1354.5 508.5,1354.0 508.9,1354.8 509.3,1354.9 509.8,1355.4 510.2,1354.9 510.7,1356.2 511.1,1355.8 511.5,1356.8 512.0,1356.5 512.4,1356.9 512.9,1357.7 513.3,1357.6 513.7,1357.6 514.0,1359.3 514.4,1358.9 514.7,1360.0 515.1,1359.9 515.4,1359.7 515.8,1360.8 516.1,1362.2 516.5,1362.8 516.9,1362.1 517.4,1362.6 517.8,1363.4 518.2,1363.9 518.6,1363.7 519.1,1364.5 519.6,1365.1 520.0,1365.2 520.5,1365.6 521.0,1365.9 521.5,1366.5 522.0,1366.5 522.5,1366.7 523.0,1367.1 523.5,1368.2 524.0,1368.4 524.4,1369.2 524.8,1368.9 525.2,1368.4 525.5,1372.9 525.9,1369.9 526.3,1370.4 526.7,1371.6 527.0,1371.2 527.4,1372.2 527.8,1373.0 528.1,1372.2 528.5,1374.5 528.8,1373.9 529.1,1374.7 529.4,1374.8 529.7,1375.3 530.0,1375.7 530.7,1375.7 531.2,1375.3 531.7,1374.8 532.1,1375.3 532.6,1374.9 533.3,1375.9 533.6,1375.8 533.9,1376.2 534.2,1377.7 534.5,1377.1 534.9,1377.6 535.2,1378.0 535.5,1377.8 535.9,1380.0 536.3,1380.4 536.6,1379.9 537.0,1381.0 537.4,1382.9 537.7,1381.8 538.1,1382.5 538.4,1382.2 538.8,1383.4 539.3,1384.0 539.7,1384.5 540.2,1384.7 540.6,1384.9 541.1,1384.8 541.5,1385.2 542.0,1386.8 542.4,1387.2 542.9,1386.0 543.4,1386.9 543.9,1386.9 544.4,1386.7 544.7,1387.7 545.1,1390.9 545.5,1389.3 545.9,1390.4 546.3,1389.8 546.7,1391.1 547.1,1392.0 547.5,1391.1 547.9,1392.9 548.3,1393.3 548.7,1394.5 549.1,1394.1 549.5,1394.9 549.8,1394.9 550.2,1395.4 550.5,1395.1 550.8,1395.3 551.1,1396.1 551.3,1395.9 551.5,1394.7 551.7,1395.4 551.9,1396.3 552.1,1393.9 552.2,1394.1 552.4,1392.1 552.6,1391.1 552.7,1392.6 552.8,1390.7 553.0,1389.4 553.1,1388.7 553.2,1388.5 553.3,1388.1 553.5,1386.5 553.6,1386.5 553.7,1385.8 553.8,1384.7 554.0,1384.2 554.1,1384.5 554.3,1383.5 554.4,1384.2 554.9,1382.6 555.3,1383.1 555.8,1382.6 556.3,1383.3 556.8,1384.0 557.2,1383.8 557.7,1385.4 557.9,1386.0 558.0,1385.8 558.2,1387.0 558.4,1387.0 558.5,1388.6 558.7,1387.8 558.9,1388.8 559.0,1389.3 559.2,1390.1 559.3,1390.6 559.5,1390.8 559.7,1391.4 559.8,1391.8 560.0,1392.2 560.2,1394.0 560.3,1394.7 560.5,1395.2 560.7,1395.5 560.8,1395.7 561.0,1396.9 561.2,1396.5 561.3,1396.5 561.5,1398.6 561.7,1399.4 561.8,1399.4 562.0,1398.7 562.1,1400.1 562.3,1401.1 562.5,1402.1 562.6,1401.8 562.8,1402.4 563.0,1404.0 563.1,1402.2 563.3,1403.3 563.5,1405.4 563.7,1404.8 563.8,1406.4 564.0,1407.4 564.2,1407.2 564.4,1407.3 564.5,1408.6 564.7,1407.7 564.8,1409.6 565.0,1410.0 565.2,1409.9 565.3,1410.8 565.5,1411.4 565.6,1411.5 565.8,1412.6 566.0,1413.8 566.1,1412.9 566.3,1413.7 566.4,1413.6 566.6,1415.9 566.8,1416.4 567.0,1416.7 567.1,1417.6 567.3,1417.3 567.5,1418.2 567.6,1419.2 567.8,1419.7 568.0,1419.8 568.1,1420.2 568.3,1420.9 568.5,1421.9 568.6,1422.0 568.8,1423.6 568.9,1423.4 569.1,1424.0 569.2,1425.0 569.4,1426.3 569.5,1425.6 569.7,1427.2 569.8,1427.6 570.0,1427.8 570.1,1429.5 570.2,1430.6 570.4,1429.7 570.5,1429.3 570.7,1430.5 570.8,1430.2 571.0,1431.2 571.1,1431.8 571.3,1433.5 571.4,1433.8 571.6,1435.5 571.7,1435.5 571.9,1435.1 572.0,1435.6 572.1,1438.2 572.3,1436.8 572.4,1437.3 572.6,1438.5 572.7,1437.9 572.9,1439.5 573.0,1440.5 573.2,1439.8 573.3,1441.2 573.5,1441.9 573.7,1441.9 573.9,1444.3 574.1,1444.3 574.2,1443.4 574.4,1444.3 574.6,1445.8 574.8,1445.8 575.0,1445.6 575.2,1447.3 575.4,1448.2 575.6,1447.9 575.8,1448.5 575.9,1447.9 576.1,1449.5 576.3,1451.2 576.5,1450.8 576.7,1452.2 576.9,1452.8 577.0,1452.5 577.2,1453.0 577.4,1453.9 577.5,1453.7 577.7,1454.5 577.9,1455.5 578.0,1456.0 578.2,1456.6 578.4,1456.6 578.5,1456.7 578.7,1458.8 578.8,1458.9 579.0,1459.5 579.1,1458.9 579.3,1460.8 579.4,1460.9 579.6,1460.9 579.7,1461.5 579.8,1462.8 580.0,1464.5 580.1,1463.5 580.3,1464.1 580.4,1465.7 580.6,1465.1 580.7,1464.9 580.8,1466.6 581.0,1466.9 581.4,1467.7 581.8,1467.3 582.2,1466.8 582.6,1468.4 583.0,1468.5 583.5,1469.5 583.9,1469.8 584.4,1469.4 584.9,1470.4 585.4,1470.2 585.9,1471.4 586.5,1470.8 587.0,1470.6 587.5,1470.9 588.0,1472.4 588.4,1471.9 588.8,1472.3 589.4,1473.4 589.7,1474.5 590.0,1473.7 590.1,1473.9 590.2,1472.1 590.4,1472.3 590.5,1472.4 590.6,1469.8 590.8,1469.4 590.9,1470.3 591.1,1469.4 591.2,1469.0 591.4,1469.3 591.5,1466.7 591.7,1467.5 591.9,1466.0 592.1,1464.5 592.3,1465.1 592.6,1464.1 592.8,1464.0 593.0,1464.1 593.3,1462.2 593.6,1462.5 593.8,1462.2 594.1,1461.3 594.4,1462.4 594.7,1460.1 595.0,1459.6 595.2,1459.1 595.5,1460.0 595.7,1459.7 596.0,1457.3 596.2,1458.3 596.4,1455.7 596.7,1456.4 596.9,1455.7 597.1,1455.9 597.4,1453.6 597.6,1454.4 597.9,1452.1 598.1,1452.6 598.4,1452.3 598.7,1451.6 599.0,1450.2 599.4,1452.1 599.9,1449.7 600.4,1449.4 600.9,1449.8 601.4,1448.6 602.0,1449.0 602.5,1449.0 603.0,1449.0 603.6,1449.5 604.1,1448.2 604.5,1449.9 604.9,1448.1 605.3,1447.2 605.7,1448.2 606.1,1446.2 606.5,1447.8 606.9,1446.2 607.3,1446.6 607.7,1445.6 608.1,1444.5 608.5,1443.4 608.9,1443.4 609.3,1444.8 609.6,1442.9 609.9,1441.6 610.2,1443.1 610.4,1441.2 610.7,1441.7 611.0,1440.6 611.3,1440.2 611.6,1439.3 611.9,1439.2 612.1,1439.8 612.4,1436.4 612.7,1437.6 613.0,1435.1 613.3,1437.1 613.5,1435.6 613.8,1435.4 614.1,1435.3 614.4,1433.7 615.0,1436.5 615.6,1434.7 616.1,1435.3 616.7,1435.5 617.3,1436.0 617.9,1436.2 618.4,1436.5 619.0,1437.3 619.6,1435.5 619.9,1435.1 620.2,1436.9 620.5,1435.8 620.9,1435.2 621.2,1433.4 621.5,1433.0 621.8,1433.1 622.1,1432.5 622.4,1431.0 622.7,1431.6 623.0,1431.2 623.3,1429.5 623.7,1430.0 624.0,1428.8 624.3,1429.5 624.7,1428.0 625.1,1428.0 625.5,1428.1 625.9,1426.6 626.3,1426.8 626.7,1426.5 627.2,1426.9 627.6,1424.7 628.0,1424.7 628.5,1424.5 628.9,1425.2 629.4,1424.3 629.8,1424.4 630.2,1423.2 630.7,1423.0 631.1,1421.5 631.6,1422.8 632.1,1421.6 632.6,1419.7 633.1,1420.6 633.6,1419.2 634.1,1421.5 634.6,1421.0 635.1,1420.5 635.6,1419.1 636.1,1419.3 636.6,1418.9 637.1,1417.7 637.6,1418.5 638.2,1418.5 638.8,1417.9 639.4,1418.8 640.0,1417.2 640.7,1417.8 641.3,1418.1 641.9,1418.4 642.4,1418.0 643.0,1417.2 643.5,1416.5 644.0,1416.9 644.3,1418.6 644.6,1418.5 644.9,1419.5 645.2,1419.6 645.4,1419.7 645.6,1419.7 645.9,1420.3 646.1,1422.5 646.3,1423.2 646.5,1422.9 646.8,1425.0 647.0,1423.3 647.2,1426.0 647.5,1424.3 647.8,1426.3 648.3,1425.6 648.7,1425.2 649.2,1427.3 649.7,1426.9 650.2,1427.3 650.8,1428.2 651.3,1426.7 651.9,1427.6 652.4,1428.3 653.0,1427.6 653.5,1427.9 654.1,1428.0 654.7,1427.8 655.3,1427.1 656.0,1428.0 656.6,1426.8 657.2,1426.6 657.8,1426.4 658.4,1426.6 658.9,1424.9 659.4,1425.3 659.8,1425.8 660.2,1426.6 660.6,1425.6 660.9,1428.1 661.2,1428.0 661.5,1428.6 661.8,1429.9 662.1,1428.9 662.4,1429.8 662.7,1430.1 663.0,1432.6 663.3,1432.7 663.5,1432.1 663.8,1433.2 664.0,1435.2 664.2,1433.7 664.4,1433.1 664.6,1434.5 664.9,1435.0 665.1,1435.2 665.3,1436.1 665.5,1438.1 665.8,1439.1 666.0,1438.3 666.2,1438.8 666.4,1439.4 666.6,1438.4 666.9,1440.8 667.1,1441.0 667.3,1442.7 667.5,1442.2 667.7,1444.5 667.9,1442.8 668.1,1444.7 668.3,1445.0 668.5,1444.5 668.7,1444.6 668.9,1444.3 669.2,1446.6 669.4,1445.6 669.6,1447.9 669.8,1449.2 670.0,1448.8 670.2,1449.1 670.4,1449.6 670.6,1449.6 670.8,1450.3 671.0,1451.7 671.2,1453.0 671.3,1452.2 671.5,1453.3 671.7,1453.6 671.8,1454.5 672.0,1453.3 672.2,1454.1 672.3,1455.5 672.5,1456.9 672.7,1456.2 672.8,1456.0 673.0,1457.5 673.1,1458.4 673.3,1458.0 673.5,1459.2 673.6,1459.3 673.8,1460.7 674.0,1460.5 674.1,1461.2 674.3,1461.0 674.5,1462.6 674.6,1463.7 674.8,1464.9 674.9,1464.4 675.0,1465.2 675.2,1467.4 675.3,1468.0 675.4,1466.1 675.5,1468.2 675.6,1466.8 675.8,1468.2 675.9,1470.1 676.0,1469.6 676.1,1471.2 676.3,1471.2 676.4,1472.8 676.5,1472.5 676.6,1472.4 676.8,1473.5 676.9,1474.5 677.0,1475.0 677.1,1474.4 677.3,1476.2 677.4,1477.5 677.5,1477.3 677.6,1477.2 677.7,1478.8 677.8,1479.7 678.0,1479.4 678.1,1479.5 678.2,1480.9 678.3,1483.8 678.4,1480.6 678.5,1481.8 678.6,1482.4 678.7,1482.9 678.8,1484.2 678.9,1483.3 679.0,1485.1 679.1,1485.8 679.2,1485.6 679.3,1486.7 679.4,1488.8 679.4,1486.4 679.5,1489.3 679.6,1491.1 679.7,1490.1 679.8,1491.6 679.9,1491.7 679.9,1491.8 680.0,1494.4 680.1,1493.8 680.2,1494.5 680.2,1495.4 680.3,1494.5 680.4,1498.7 680.5,1497.2 680.5,1499.2 680.6,1496.1 680.7,1498.5 680.8,1498.0 680.9,1499.0 680.9,1500.5 681.0,1501.1 681.1,1500.6 681.2,1500.0 681.3,1503.7 681.6,1502.5 681.9,1502.4 682.2,1502.6 682.5,1506.6 682.8,1504.5 683.2,1504.0 683.5,1504.2 683.8,1506.0 684.0,1506.8 684.3,1506.5 684.5,1506.0 684.7,1509.6 684.9,1509.2 685.0,1509.5 685.1,1509.0 685.2,1510.8 685.2,1508.6 685.3,1512.4 685.4,1510.7 685.5,1512.0" fill="none" stroke="#0b7f0b" stroke-width="2.8" stroke-linejoin="round"/>
</g>
<rect x="128.00" y="1219.90" width="563.70" height="394.40" fill="none" stroke="#000" stroke-width="2.5"/>
<line x1="128.00" y1="1239.50" x2="140.00" y2="1239.50" stroke="#000" stroke-width="2.5" />
<line x1="679.70" y1="1239.50" x2="691.70" y2="1239.50" stroke="#000" stroke-width="2.5" />
<line x1="128.00" y1="1333.20" x2="140.00" y2="1333.20" stroke="#000" stroke-width="2.5" />
<line x1="679.70" y1="1333.20" x2="691.70" y2="1333.20" stroke="#000" stroke-width="2.5" />
<line x1="128.00" y1="1426.90" x2="140.00" y2="1426.90" stroke="#000" stroke-width="2.5" />
<line x1="679.70" y1="1426.90" x2="691.70" y2="1426.90" stroke="#000" stroke-width="2.5" />
<line x1="128.00" y1="1520.70" x2="140.00" y2="1520.70" stroke="#000" stroke-width="2.5" />
<line x1="679.70" y1="1520.70" x2="691.70" y2="1520.70" stroke="#000" stroke-width="2.5" />
<line x1="159.80" y1="1614.30" x2="159.80" y2="1602.30" stroke="#000" stroke-width="2.5" />
<line x1="239.18" y1="1614.30" x2="239.18" y2="1602.30" stroke="#000" stroke-width="2.5" />
<line x1="318.56" y1="1614.30" x2="318.56" y2="1602.30" stroke="#000" stroke-width="2.5" />
<line x1="397.94" y1="1614.30" x2="397.94" y2="1602.30" stroke="#000" stroke-width="2.5" />
<line x1="477.32" y1="1614.30" x2="477.32" y2="1602.30" stroke="#000" stroke-width="2.5" />
<line x1="556.70" y1="1614.30" x2="556.70" y2="1602.30" stroke="#000" stroke-width="2.5" />
<line x1="636.08" y1="1614.30" x2="636.08" y2="1602.30" stroke="#000" stroke-width="2.5" />
<line x1="182.40" y1="1219.90" x2="182.40" y2="1231.90" stroke="#000" stroke-width="2.5" />
<line x1="299.00" y1="1219.90" x2="299.00" y2="1231.90" stroke="#000" stroke-width="2.5" />
<line x1="416.00" y1="1219.90" x2="416.00" y2="1231.90" stroke="#000" stroke-width="2.5" />
<line x1="533.10" y1="1219.90" x2="533.10" y2="1231.90" stroke="#000" stroke-width="2.5" />
<line x1="650.10" y1="1219.90" x2="650.10" y2="1231.90" stroke="#000" stroke-width="2.5" />
<line x1="716.30" y1="1309.90" x2="789.70" y2="1309.90" stroke="#000" stroke-width="2.6" />
<text x="814.50" y="1321.00" font-size="29" text-anchor="start" font-weight="normal" >Input</text>
<line x1="716.30" y1="1400.10" x2="789.70" y2="1400.10" stroke="#ff14f0" stroke-width="2.6" />
<text x="814.50" y="1389.50" font-size="29" text-anchor="start" font-weight="normal" >Output</text>
<text x="814.50" y="1423.90" font-size="29" text-anchor="start" font-weight="normal" >660</text>
<path d="M874.34,1409.30 L874.34,1427.30 M883.04,1409.30 L883.04,1422.10" stroke="#000" stroke-width="2.10" fill="none"/><path d="M874.34,1419.30 C875.54,1424.80 881.14,1424.90 883.04,1420.30" stroke="#000" stroke-width="1.90" fill="none"/><path d="M883.04,1421.90 Q883.54,1424.50 885.14,1424.30 Q886.84,1424.00 887.84,1421.20" stroke="#000" stroke-width="1.50" fill="none"/><ellipse cx="873.84" cy="1428.30" rx="1.50" ry="1.90" fill="#000"/>
<text x="887.64" y="1423.90" font-size="29" text-anchor="start" font-weight="normal" >m</text>
<line x1="716.30" y1="1496.90" x2="789.70" y2="1496.90" stroke="#0b7f0b" stroke-width="2.6" />
<text x="814.50" y="1486.70" font-size="29" text-anchor="start" font-weight="normal" >Output</text>
<text x="814.50" y="1521.30" font-size="29" text-anchor="start" font-weight="normal" >1100</text>
<path d="M890.47,1506.70 L890.47,1524.70 M899.17,1506.70 L899.17,1519.50" stroke="#000" stroke-width="2.10" fill="none"/><path d="M890.47,1516.70 C891.67,1522.20 897.27,1522.30 899.17,1517.70" stroke="#000" stroke-width="1.90" fill="none"/><path d="M899.17,1519.30 Q899.67,1521.90 901.27,1521.70 Q902.97,1521.40 903.97,1518.60" stroke="#000" stroke-width="1.50" fill="none"/><ellipse cx="889.97" cy="1525.70" rx="1.50" ry="1.90" fill="#000"/>
<text x="903.77" y="1521.30" font-size="29" text-anchor="start" font-weight="normal" >m</text>
</svg></body></html>
